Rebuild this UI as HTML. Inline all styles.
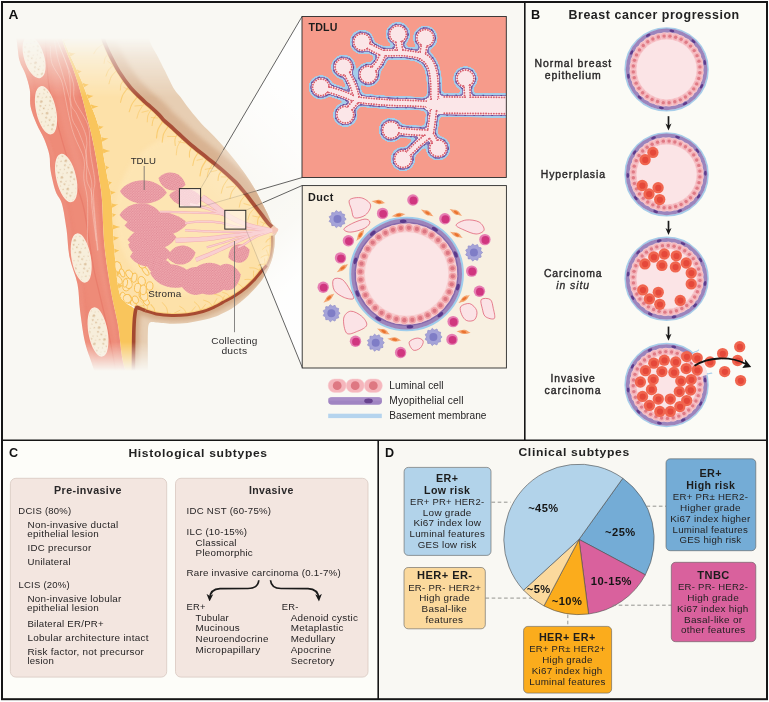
<!DOCTYPE html>
<html lang="en">
<head>
<meta charset="utf-8">
<title>Breast cancer: anatomy, progression, histological and clinical subtypes</title>
<style>
html,body{margin:0;padding:0;background:#ffffff;}
body{width:769px;height:702px;overflow:hidden;font-family:"Liberation Sans", sans-serif;}
svg{display:block;font-family:"Liberation Sans", sans-serif;will-change:transform;}
text{font-family:"Liberation Sans", sans-serif;white-space:pre;}
</style>
</head>
<body>
<svg width="769" height="702" viewBox="0 0 769 702">
<rect x="0" y="0" width="769" height="702" fill="#ffffff"/>
<rect x="2" y="2" width="523" height="438" fill="#f9f8f3"/>
<rect x="525" y="2" width="242" height="438" fill="#fbfbf6"/>
<rect x="2" y="440" width="376" height="259" fill="#fdfdf9"/>
<rect x="378" y="440" width="389" height="259" fill="#f9f8f3"/>
<g id="panelA">
<defs>
<linearGradient id="fadeg" x1="0" y1="0" x2="0" y2="1" gradientUnits="userSpaceOnUse" >
</linearGradient>
<linearGradient id="fadeG" gradientUnits="userSpaceOnUse" x1="0" y1="36" x2="0" y2="376">
<stop offset="0" stop-color="#000"/><stop offset="0.006" stop-color="#000"/><stop offset="0.065" stop-color="#6a6a6a"/><stop offset="0.18" stop-color="#fff"/>
<stop offset="0.9" stop-color="#fff"/><stop offset="0.985" stop-color="#000"/><stop offset="1" stop-color="#000"/>
</linearGradient>
<mask id="fadeM" maskUnits="userSpaceOnUse" x="0" y="0" width="525" height="440"><rect x="0" y="0" width="525" height="440" fill="url(#fadeG)"/></mask>
<filter id="bl2" x="-20%" y="-20%" width="140%" height="140%"><feGaussianBlur stdDeviation="2.2"/></filter>
<filter id="goo" x="-5%" y="-5%" width="110%" height="110%" color-interpolation-filters="sRGB"><feGaussianBlur stdDeviation="1.5" result="b"/><feColorMatrix in="b" type="matrix" values="1 0 0 0 0  0 1 0 0 0  0 0 1 0 0  0 0 0 16 -8"/></filter>
<filter id="goo2" x="-5%" y="-5%" width="110%" height="110%" color-interpolation-filters="sRGB"><feGaussianBlur stdDeviation="0.7" result="b"/><feColorMatrix in="b" type="matrix" values="1 0 0 0 0  0 1 0 0 0  0 0 1 0 0  0 0 0 16 -8"/></filter>
<filter id="bl1" x="-20%" y="-20%" width="140%" height="140%"><feGaussianBlur stdDeviation="1"/></filter>
<pattern id="lobtex" width="2.6" height="2.6" patternUnits="userSpaceOnUse"><rect width="2.6" height="2.6" fill="#e08a97"/><circle cx="0.7" cy="0.7" r="0.85" fill="#f1acb1"/><circle cx="2.0" cy="2.0" r="0.85" fill="#eea5ab"/></pattern>
<pattern id="ribtex" width="11" height="13" patternUnits="userSpaceOnUse" patternTransform="rotate(-14)"><rect width="11" height="13" fill="#f7eedb"/><circle cx="2.2" cy="2.5" r="0.8" fill="#dfc7a6"/><circle cx="6.6" cy="4.2" r="1.25" fill="#dcc09c"/><circle cx="3.8" cy="7.8" r="1.0" fill="#dec4a2"/><circle cx="8.6" cy="9.6" r="0.7" fill="#e0c9aa"/><circle cx="1.4" cy="11.2" r="0.6" fill="#e0c9aa"/><circle cx="9.2" cy="1.3" r="0.55" fill="#e2ccae"/><circle cx="5.8" cy="11.4" r="0.9" fill="#dcc09c"/></pattern>
</defs>
<g mask="url(#fadeM)">
<path d="M15.5,34.0 C15.8,35.5 16.3,38.3 17.0,42.7 C17.7,47.1 18.1,55.3 19.5,60.6 C20.9,65.9 23.8,69.5 25.5,74.3 C27.2,79.1 28.9,84.3 29.8,89.7 C30.7,95.1 29.5,101.1 30.6,106.8 C31.7,112.5 34.3,118.5 36.6,123.9 C38.9,129.3 42.2,134.1 44.3,139.3 C46.4,144.5 48.4,149.9 49.4,155.0 C50.4,160.1 49.5,164.0 50.5,170.0 C51.5,176.0 53.6,185.3 55.5,191.0 C57.4,196.7 60.2,197.7 62.0,204.0 C63.8,210.3 65.2,220.2 66.5,229.0 C67.8,237.8 67.7,247.8 69.5,257.0 C71.3,266.2 75.8,275.2 77.5,284.0 C79.2,292.8 78.8,300.7 80.0,310.0 C81.2,319.3 82.8,332.0 84.5,340.0 C86.2,348.0 87.9,351.7 90.0,358.0 C92.1,364.3 95.8,374.7 97.0,378.0 L128,378 C127.1,375.0 124.3,368.8 122.6,360.0 C120.9,351.2 119.9,336.5 118.0,325.0 C116.1,313.5 113.2,304.2 111.0,291.0 C108.8,277.8 106.0,261.2 104.5,246.0 C103.0,230.8 102.8,211.0 102.0,200.0 C101.2,189.0 100.6,187.5 99.5,180.0 C98.4,172.5 97.0,162.7 95.6,155.0 C94.2,147.3 92.7,140.4 91.3,134.1 C89.9,127.8 88.4,122.7 87.0,117.0 C85.6,111.3 84.5,106.3 82.8,100.0 C81.1,93.7 78.9,86.0 76.8,79.4 C74.7,72.8 72.3,66.7 70.0,60.6 C67.7,54.5 64.4,47.1 63.1,42.7 C61.8,38.3 62.2,35.5 62.0,34.0 Z" fill="#ee8b78"/>
<clipPath id="musclip"><path d="M15.5,34.0 C15.8,35.5 16.3,38.3 17.0,42.7 C17.7,47.1 18.1,55.3 19.5,60.6 C20.9,65.9 23.8,69.5 25.5,74.3 C27.2,79.1 28.9,84.3 29.8,89.7 C30.7,95.1 29.5,101.1 30.6,106.8 C31.7,112.5 34.3,118.5 36.6,123.9 C38.9,129.3 42.2,134.1 44.3,139.3 C46.4,144.5 48.4,149.9 49.4,155.0 C50.4,160.1 49.5,164.0 50.5,170.0 C51.5,176.0 53.6,185.3 55.5,191.0 C57.4,196.7 60.2,197.7 62.0,204.0 C63.8,210.3 65.2,220.2 66.5,229.0 C67.8,237.8 67.7,247.8 69.5,257.0 C71.3,266.2 75.8,275.2 77.5,284.0 C79.2,292.8 78.8,300.7 80.0,310.0 C81.2,319.3 82.8,332.0 84.5,340.0 C86.2,348.0 87.9,351.7 90.0,358.0 C92.1,364.3 95.8,374.7 97.0,378.0 L128,378 C127.1,375.0 124.3,368.8 122.6,360.0 C120.9,351.2 119.9,336.5 118.0,325.0 C116.1,313.5 113.2,304.2 111.0,291.0 C108.8,277.8 106.0,261.2 104.5,246.0 C103.0,230.8 102.8,211.0 102.0,200.0 C101.2,189.0 100.6,187.5 99.5,180.0 C98.4,172.5 97.0,162.7 95.6,155.0 C94.2,147.3 92.7,140.4 91.3,134.1 C89.9,127.8 88.4,122.7 87.0,117.0 C85.6,111.3 84.5,106.3 82.8,100.0 C81.1,93.7 78.9,86.0 76.8,79.4 C74.7,72.8 72.3,66.7 70.0,60.6 C67.7,54.5 64.4,47.1 63.1,42.7 C61.8,38.3 62.2,35.5 62.0,34.0 Z"/></clipPath>
<g clip-path="url(#musclip)">
<path d="M18.0,34.0 C18.2,35.5 18.8,38.3 19.5,42.7 C20.2,47.1 20.6,55.3 22.0,60.6 C23.4,65.9 26.3,69.5 28.0,74.3 C29.7,79.1 31.4,84.3 32.3,89.7 C33.1,95.1 32.0,101.1 33.1,106.8 C34.2,112.5 36.8,118.5 39.1,123.9 C41.4,129.3 44.7,134.1 46.8,139.3 C48.9,144.5 50.9,149.9 51.9,155.0 C52.9,160.1 52.0,164.0 53.0,170.0 C54.0,176.0 56.1,185.3 58.0,191.0 C59.9,196.7 62.7,197.7 64.5,204.0 C66.3,210.3 67.8,220.2 69.0,229.0 C70.2,237.8 70.2,247.8 72.0,257.0 C73.8,266.2 78.2,275.2 80.0,284.0 C81.8,292.8 81.3,300.7 82.5,310.0 C83.7,319.3 85.3,332.0 87.0,340.0 C88.7,348.0 90.4,351.7 92.5,358.0 C94.6,364.3 98.3,374.7 99.5,378.0" fill="none" stroke="#f29c8a" stroke-width="4" opacity="0.4" filter="url(#bl1)"/>
<path d="M54.0,34.0 C54.2,36.7 54.4,41.9 55.0,50.0 C55.6,58.1 56.2,72.9 57.5,82.9 C58.8,92.9 60.9,100.9 63.0,110.0 C65.1,119.1 67.5,127.6 70.3,137.6 C73.1,147.6 76.4,158.8 80.0,170.0 C83.6,181.2 89.0,193.3 92.0,205.0 C95.0,216.7 96.2,229.2 98.0,240.0 C99.8,250.8 101.0,260.0 103.0,270.0 C105.0,280.0 107.5,289.2 110.0,300.0 C112.5,310.8 115.3,322.0 118.0,335.0 C120.7,348.0 124.7,370.8 126.0,378.0" fill="none" stroke="#f29e8d" stroke-width="8" opacity="0.4" filter="url(#bl2)"/>
<path d="M45.0,34.0 C45.2,36.7 45.4,41.9 46.0,50.0 C46.6,58.1 47.2,72.9 48.5,82.9 C49.8,92.9 51.9,100.9 54.0,110.0 C56.1,119.1 58.5,127.6 61.3,137.6 C64.1,147.6 67.4,158.8 71.0,170.0 C74.6,181.2 80.0,193.3 83.0,205.0 C86.0,216.7 87.2,229.2 89.0,240.0 C90.8,250.8 92.0,260.0 94.0,270.0 C96.0,280.0 98.5,289.2 101.0,300.0 C103.5,310.8 106.3,322.0 109.0,335.0 C111.7,348.0 115.7,370.8 117.0,378.0" fill="none" stroke="#e4705f" stroke-width="1.2" opacity="0.5"/>
<path d="M28.0,36.0 C28.2,38.7 28.4,43.9 29.0,52.0 C29.6,60.1 30.2,74.9 31.5,84.9 C32.8,94.9 34.9,102.9 37.0,112.0 C39.1,121.1 41.5,129.6 44.3,139.6 C47.1,149.6 50.4,160.8 54.0,172.0 C57.6,183.2 63.0,195.3 66.0,207.0 C69.0,218.7 70.2,231.2 72.0,242.0 C73.8,252.8 75.0,262.0 77.0,272.0 C79.0,282.0 81.5,291.2 84.0,302.0 C86.5,312.8 89.3,324.0 92.0,337.0 C94.7,350.0 98.7,372.8 100.0,380.0" fill="none" stroke="#e8776a" stroke-width="4" opacity="0.2" filter="url(#bl2)"/>
<path d="M60.5,34.0 C60.7,35.5 60.3,38.3 61.6,42.7 C62.9,47.1 66.2,54.5 68.5,60.6 C70.8,66.7 73.2,72.8 75.3,79.4 C77.4,86.0 79.6,93.7 81.3,100.0 C83.0,106.3 84.1,111.3 85.5,117.0 C86.9,122.7 88.4,127.8 89.8,134.1 C91.2,140.4 92.7,147.3 94.1,155.0 C95.5,162.7 96.9,172.5 98.0,180.0 C99.1,187.5 99.7,189.0 100.5,200.0 C101.3,211.0 101.5,230.8 103.0,246.0 C104.5,261.2 107.2,277.8 109.5,291.0 C111.8,304.2 114.6,313.5 116.5,325.0 C118.4,336.5 119.4,351.2 121.1,360.0 C122.8,368.8 125.6,375.0 126.5,378.0" fill="none" stroke="#e67a6b" stroke-width="2.5" opacity="0.45" filter="url(#bl1)"/>
<path d="M59.0,45.1 C60.3,48.4 64.6,58.6 67.1,65.0 C69.5,71.4 72.2,77.9 73.5,83.6 C74.7,89.4 72.6,93.8 74.5,99.7 C76.4,105.5 82.7,113.4 85.1,118.5 C87.5,123.6 88.2,124.6 89.1,130.2 C90.0,135.9 89.4,144.0 90.4,152.5 C91.3,160.9 94.3,173.3 94.8,180.7 C95.3,188.2 93.1,185.6 93.6,197.2 C94.1,208.7 97.2,241.3 98.0,250.2" fill="none" stroke="#fbdcd3" stroke-width="0.5" opacity="0.8"/>
<path d="M56.8,39.3 C57.9,42.2 61.8,50.9 63.9,57.0 C66.0,63.0 68.2,67.9 69.4,75.7 C70.6,83.5 69.9,97.3 71.1,103.7 C72.3,110.1 74.2,108.5 76.8,114.2 C79.3,119.8 85.0,130.2 86.5,137.8 C88.0,145.4 85.1,152.3 85.9,159.6 C86.8,166.9 90.6,174.3 91.6,181.8 C92.5,189.2 90.7,192.9 91.7,204.4 C92.7,215.9 96.7,243.0 97.6,250.7" fill="none" stroke="#fbdcd3" stroke-width="0.5" opacity="0.8"/>
<path d="M54.5,40.7 C55.0,43.4 56.2,51.5 57.6,57.3 C59.0,63.0 60.9,67.8 62.9,75.1 C65.0,82.3 68.5,93.7 70.0,101.0 C71.5,108.3 70.7,113.6 72.1,118.8 C73.6,124.0 76.4,126.2 78.8,132.2 C81.1,138.2 85.1,146.9 86.4,154.8 C87.8,162.7 85.9,173.0 86.8,179.8 C87.7,186.6 90.4,185.3 92.0,195.6 C93.6,205.8 95.7,233.6 96.4,241.2" fill="none" stroke="#fbdcd3" stroke-width="0.5" opacity="0.8"/>
<path d="M50.2,46.1 C50.5,49.0 50.2,57.8 52.0,63.5 C53.9,69.2 59.1,74.9 61.3,80.2 C63.4,85.5 63.3,88.6 64.8,95.5 C66.2,102.4 68.5,114.7 70.2,121.6 C71.8,128.4 72.3,130.3 74.6,136.7 C76.9,143.0 82.5,152.4 84.0,159.4 C85.5,166.4 83.2,171.3 83.8,178.5 C84.4,185.8 87.0,191.1 87.6,202.8 C88.1,214.4 87.2,240.9 87.2,248.5" fill="none" stroke="#fbdcd3" stroke-width="0.5" opacity="0.8"/>
</g>
<ellipse cx="34.1" cy="57.2" rx="9.4" ry="21" transform="rotate(-17 34.1 57.2)" fill="url(#ribtex)" stroke="#f9ecdc" stroke-width="1.3"/>
<ellipse cx="46" cy="110.2" rx="9.3" ry="24" transform="rotate(-12.5 46 110.2)" fill="url(#ribtex)" stroke="#f9ecdc" stroke-width="1.3"/>
<ellipse cx="66.2" cy="178" rx="9.3" ry="24" transform="rotate(-13 66.2 178)" fill="url(#ribtex)" stroke="#f9ecdc" stroke-width="1.3"/>
<ellipse cx="81.2" cy="258" rx="9.0" ry="24.3" transform="rotate(-10 81.2 258)" fill="url(#ribtex)" stroke="#f9ecdc" stroke-width="1.3"/>
<ellipse cx="98" cy="332" rx="9.0" ry="24.3" transform="rotate(-10 98 332)" fill="url(#ribtex)" stroke="#f9ecdc" stroke-width="1.3"/>
<path d="M62.0,34.0 C62.2,35.5 61.8,38.3 63.1,42.7 C64.4,47.1 67.7,54.5 70.0,60.6 C72.3,66.7 74.7,72.8 76.8,79.4 C78.9,86.0 81.1,93.7 82.8,100.0 C84.5,106.3 85.6,111.3 87.0,117.0 C88.4,122.7 89.9,127.8 91.3,134.1 C92.7,140.4 94.2,147.3 95.6,155.0 C97.0,162.7 98.4,172.5 99.5,180.0 C100.6,187.5 101.2,189.0 102.0,200.0 C102.8,211.0 103.0,230.8 104.5,246.0 C106.0,261.2 108.8,277.8 111.0,291.0 C113.2,304.2 116.1,313.5 118.0,325.0 C119.9,336.5 120.9,351.2 122.6,360.0 C124.3,368.8 127.1,375.0 128.0,378.0 L133.4,378 C133.4,372.5 133.5,354.0 133.6,345.0 C133.7,336.0 133.9,329.9 134.1,324.0 C134.2,318.1 135.8,313.0 134.5,309.5 C133.2,306.0 128.6,306.1 126.0,303.0 C123.4,299.9 121.0,300.5 119.0,291.0 C117.0,281.5 115.2,261.2 114.0,246.0 C112.8,230.8 112.7,211.8 111.5,200.0 C110.3,188.2 108.3,182.5 107.0,175.0 C105.7,167.5 104.2,160.1 103.5,155.0 C102.8,149.9 103.1,147.9 102.6,144.4 C102.1,140.9 101.9,138.7 100.7,134.1 C99.5,129.5 97.6,122.7 95.6,117.0 C93.6,111.3 91.2,106.3 88.8,100.0 C86.4,93.7 83.7,86.0 81.0,79.4 C78.3,72.8 75.2,66.7 72.5,60.6 C69.8,54.5 66.4,47.1 64.8,42.7 C63.2,38.3 63.3,35.5 63.0,34.0 Z" fill="#f9c55c"/>
<path d="M102.0,34.0 C102.4,35.4 102.8,38.4 104.3,42.1 C105.8,45.8 108.2,51.4 110.7,56.4 C113.2,61.4 115.9,66.8 119.2,72.0 C122.5,77.2 126.3,82.7 130.6,87.7 C134.9,92.7 141.7,98.9 144.9,102.0 C148.1,105.1 147.6,104.3 150.0,106.4 C152.4,108.5 156.7,112.4 159.1,114.8 C161.5,117.2 162.1,118.6 164.2,120.6 C166.3,122.6 169.1,124.8 171.5,127.0 C173.9,129.2 175.0,130.3 178.5,133.5 C182.0,136.7 187.9,142.3 192.7,146.3 C197.4,150.3 202.2,153.9 207.0,157.7 C211.8,161.5 216.4,165.0 221.2,169.1 C225.9,173.2 231.4,178.1 235.5,182.2 C239.6,186.3 242.5,190.0 245.6,193.7 C248.7,197.4 251.3,201.2 253.9,204.6 C256.5,208.0 259.0,211.2 261.3,214.2 C263.6,217.2 266.0,220.6 267.8,222.7 C269.6,224.8 271.3,226.3 272.0,227.0 L273.8,227.8 L277.2,229.6 L273.9,234.2 L272,235.7 C272.0,237.5 272.3,242.8 272.0,246.4 C271.7,250.0 271.3,253.9 270.4,257.1 C269.5,260.3 268.3,263.2 266.7,265.6 C265.1,268.1 263.1,269.4 261.0,271.8 C258.9,274.2 256.5,277.5 254.0,280.1 C251.5,282.7 249.4,284.9 246.2,287.6 C242.9,290.3 238.4,293.6 234.5,296.1 C230.6,298.6 226.1,300.6 222.8,302.4 C219.6,304.2 218.3,305.2 215.0,306.7 C211.7,308.2 207.6,310.2 203.0,311.5 C198.4,312.8 192.6,314.1 187.4,314.7 C182.2,315.3 177.0,315.5 171.8,315.4 C166.6,315.3 160.6,314.7 156.2,313.9 C151.8,313.1 148.0,311.6 145.3,310.7 C142.6,309.8 141.2,308.9 139.8,308.4 C138.4,307.9 137.2,307.7 136.7,307.6 L126,303 C124.8,301.0 121.0,300.5 119.0,291.0 C117.0,281.5 115.2,261.2 114.0,246.0 C112.8,230.8 112.7,211.8 111.5,200.0 C110.3,188.2 108.3,182.5 107.0,175.0 C105.7,167.5 104.2,160.1 103.5,155.0 C102.8,149.9 103.1,147.9 102.6,144.4 C102.1,140.9 101.9,138.7 100.7,134.1 C99.5,129.5 97.6,122.7 95.6,117.0 C93.6,111.3 91.2,106.3 88.8,100.0 C86.4,93.7 83.7,86.0 81.0,79.4 C78.3,72.8 75.2,66.7 72.5,60.6 C69.8,54.5 66.4,47.1 64.8,42.7 C63.2,38.3 63.3,35.5 63.0,34.0 Z" fill="#fde1a9"/>
<clipPath id="fatclip"><path d="M102.0,34.0 C102.4,35.4 102.8,38.4 104.3,42.1 C105.8,45.8 108.2,51.4 110.7,56.4 C113.2,61.4 115.9,66.8 119.2,72.0 C122.5,77.2 126.3,82.7 130.6,87.7 C134.9,92.7 141.7,98.9 144.9,102.0 C148.1,105.1 147.6,104.3 150.0,106.4 C152.4,108.5 156.7,112.4 159.1,114.8 C161.5,117.2 162.1,118.6 164.2,120.6 C166.3,122.6 169.1,124.8 171.5,127.0 C173.9,129.2 175.0,130.3 178.5,133.5 C182.0,136.7 187.9,142.3 192.7,146.3 C197.4,150.3 202.2,153.9 207.0,157.7 C211.8,161.5 216.4,165.0 221.2,169.1 C225.9,173.2 231.4,178.1 235.5,182.2 C239.6,186.3 242.5,190.0 245.6,193.7 C248.7,197.4 251.3,201.2 253.9,204.6 C256.5,208.0 259.0,211.2 261.3,214.2 C263.6,217.2 266.0,220.6 267.8,222.7 C269.6,224.8 271.3,226.3 272.0,227.0 L273.8,227.8 L277.2,229.6 L273.9,234.2 L272,235.7 C272.0,237.5 272.3,242.8 272.0,246.4 C271.7,250.0 271.3,253.9 270.4,257.1 C269.5,260.3 268.3,263.2 266.7,265.6 C265.1,268.1 263.1,269.4 261.0,271.8 C258.9,274.2 256.5,277.5 254.0,280.1 C251.5,282.7 249.4,284.9 246.2,287.6 C242.9,290.3 238.4,293.6 234.5,296.1 C230.6,298.6 226.1,300.6 222.8,302.4 C219.6,304.2 218.3,305.2 215.0,306.7 C211.7,308.2 207.6,310.2 203.0,311.5 C198.4,312.8 192.6,314.1 187.4,314.7 C182.2,315.3 177.0,315.5 171.8,315.4 C166.6,315.3 160.6,314.7 156.2,313.9 C151.8,313.1 148.0,311.6 145.3,310.7 C142.6,309.8 141.2,308.9 139.8,308.4 C138.4,307.9 137.2,307.7 136.7,307.6 L126,303 C124.8,301.0 121.0,300.5 119.0,291.0 C117.0,281.5 115.2,261.2 114.0,246.0 C112.8,230.8 112.7,211.8 111.5,200.0 C110.3,188.2 108.3,182.5 107.0,175.0 C105.7,167.5 104.2,160.1 103.5,155.0 C102.8,149.9 103.1,147.9 102.6,144.4 C102.1,140.9 101.9,138.7 100.7,134.1 C99.5,129.5 97.6,122.7 95.6,117.0 C93.6,111.3 91.2,106.3 88.8,100.0 C86.4,93.7 83.7,86.0 81.0,79.4 C78.3,72.8 75.2,66.7 72.5,60.6 C69.8,54.5 66.4,47.1 64.8,42.7 C63.2,38.3 63.3,35.5 63.0,34.0 Z"/></clipPath>
<g clip-path="url(#fatclip)">
<ellipse cx="185" cy="215" rx="70" ry="80" fill="#fee8bb" opacity="0.6" filter="url(#bl2)"/>
<path d="M104.1,43.6 C103.0,44.4 99.3,46.5 97.6,48.1 C95.9,49.8 94.4,52.7 93.8,53.6" fill="none" stroke="#f8c45c" stroke-width="1.0019600192980973" opacity="0.7" stroke-linecap="round"/>
<path d="M108.4,53.9 C107.9,54.6 105.9,56.2 105.2,57.8 C104.5,59.3 104.3,62.4 104.1,63.3" fill="none" stroke="#f8c45c" stroke-width="0.8296770071640038" opacity="0.7" stroke-linecap="round"/>
<path d="M107.7,61.3 C108.5,61.9 111.9,64.3 112.7,64.9" fill="none" stroke="#f8c45c" stroke-width="0.8" opacity="0.7" stroke-linecap="round"/>
<path d="M114.3,64.6 C113.3,65.5 110.1,67.8 108.7,69.8 C107.3,71.7 106.4,75.1 106.0,76.1" fill="none" stroke="#f8c45c" stroke-width="0.9381766043496674" opacity="0.7" stroke-linecap="round"/>
<path d="M116.9,70.3 C116.0,71.3 112.6,74.4 111.3,76.7 C110.0,78.9 109.4,82.6 109.0,83.8" fill="none" stroke="#f8c45c" stroke-width="0.9615906051916506" opacity="0.7" stroke-linecap="round"/>
<path d="M124.0,80.0 C123.5,80.7 121.6,82.7 121.0,84.3 C120.4,86.0 120.5,89.0 120.4,90.0" fill="none" stroke="#f8c45c" stroke-width="0.9955497914656588" opacity="0.7" stroke-linecap="round"/>
<path d="M123.9,87.4 C124.8,87.9 128.4,89.6 129.3,90.0" fill="none" stroke="#f8c45c" stroke-width="0.8" opacity="0.7" stroke-linecap="round"/>
<path d="M128.6,86.9 C127.7,88.2 124.2,92.2 122.9,94.8 C121.5,97.4 120.9,101.0 120.5,102.3" fill="none" stroke="#f8c45c" stroke-width="1.0594119620329014" opacity="0.7" stroke-linecap="round"/>
<path d="M137.9,96.1 C136.9,97.5 133.3,101.6 131.9,104.2 C130.4,106.8 129.7,110.5 129.2,111.8" fill="none" stroke="#f8c45c" stroke-width="1.100454385492614" opacity="0.7" stroke-linecap="round"/>
<path d="M134.9,106.0 C136.1,105.9 140.7,105.5 141.9,105.4" fill="none" stroke="#f8c45c" stroke-width="0.8" opacity="0.7" stroke-linecap="round"/>
<path d="M144.7,102.9 C143.8,104.2 140.6,108.5 139.3,111.1 C138.0,113.6 137.3,117.1 136.9,118.3" fill="none" stroke="#f8c45c" stroke-width="0.7679844301003345" opacity="0.7" stroke-linecap="round"/>
<path d="M142.0,112.3 C143.1,112.0 147.2,111.0 148.3,110.7" fill="none" stroke="#f8c45c" stroke-width="0.8" opacity="0.7" stroke-linecap="round"/>
<path d="M151.6,109.0 C151.0,110.0 148.7,113.2 148.0,115.4 C147.3,117.5 147.4,120.8 147.3,121.9" fill="none" stroke="#f8c45c" stroke-width="0.8505130992127526" opacity="0.7" stroke-linecap="round"/>
<path d="M151.3,117.5 C152.4,117.6 156.6,117.9 157.7,118.0" fill="none" stroke="#f8c45c" stroke-width="0.8" opacity="0.7" stroke-linecap="round"/>
<path d="M157.2,113.9 C156.6,114.8 154.2,117.5 153.3,119.5 C152.4,121.4 152.3,124.6 152.1,125.6" fill="none" stroke="#f8c45c" stroke-width="0.9921258964850994" opacity="0.7" stroke-linecap="round"/>
<path d="M163.2,120.8 C162.3,122.2 159.1,126.7 158.0,129.5 C156.9,132.4 156.7,136.5 156.5,137.8" fill="none" stroke="#f8c45c" stroke-width="1.1954948224344075" opacity="0.7" stroke-linecap="round"/>
<path d="M168.7,125.5 C167.9,126.9 164.7,131.2 163.6,133.9 C162.5,136.7 162.5,140.8 162.2,142.1" fill="none" stroke="#f8c45c" stroke-width="1.1523479922561184" opacity="0.7" stroke-linecap="round"/>
<path d="M167.5,136.4 C168.9,136.4 174.1,136.5 175.4,136.5" fill="none" stroke="#f8c45c" stroke-width="0.8" opacity="0.7" stroke-linecap="round"/>
<path d="M177.6,133.7 C177.1,134.7 175.4,137.3 175.0,139.3 C174.6,141.3 175.2,144.4 175.3,145.5" fill="none" stroke="#f8c45c" stroke-width="0.9867661761756423" opacity="0.7" stroke-linecap="round"/>
<path d="M178.6,141.8 C179.6,142.0 183.9,142.8 184.9,143.0" fill="none" stroke="#f8c45c" stroke-width="0.8" opacity="0.7" stroke-linecap="round"/>
<path d="M182.5,138.2 C181.7,139.6 178.6,143.8 177.5,146.6 C176.5,149.4 176.5,153.5 176.3,154.9" fill="none" stroke="#f8c45c" stroke-width="0.7442590465548642" opacity="0.7" stroke-linecap="round"/>
<path d="M191.9,146.7 C191.5,147.5 190.0,150.1 189.6,151.8 C189.2,153.6 189.5,156.2 189.5,157.1" fill="none" stroke="#f8c45c" stroke-width="1.0843959436386723" opacity="0.7" stroke-linecap="round"/>
<path d="M198.5,152.0 C197.8,153.2 195.3,156.8 194.3,159.1 C193.4,161.4 193.0,164.5 192.8,165.5" fill="none" stroke="#f8c45c" stroke-width="1.059220238724258" opacity="0.7" stroke-linecap="round"/>
<path d="M197.0,160.3 C197.9,160.0 201.6,159.2 202.6,159.0" fill="none" stroke="#f8c45c" stroke-width="0.8" opacity="0.7" stroke-linecap="round"/>
<path d="M207.0,158.8 C206.2,160.3 203.0,165.0 201.8,167.8 C200.6,170.7 200.3,174.5 200.0,175.9" fill="none" stroke="#f8c45c" stroke-width="1.1992544726878882" opacity="0.7" stroke-linecap="round"/>
<path d="M205.2,169.4 C206.4,169.1 211.2,168.2 212.4,168.0" fill="none" stroke="#f8c45c" stroke-width="0.8" opacity="0.7" stroke-linecap="round"/>
<path d="M212.9,163.4 C212.2,164.6 209.7,168.3 208.7,170.5 C207.8,172.7 207.4,175.8 207.2,176.9" fill="none" stroke="#f8c45c" stroke-width="0.7986924282142096" opacity="0.7" stroke-linecap="round"/>
<path d="M211.3,171.7 C212.3,171.4 216.0,170.6 216.9,170.4" fill="none" stroke="#f8c45c" stroke-width="0.8" opacity="0.7" stroke-linecap="round"/>
<path d="M221.6,170.6 C221.2,171.4 219.4,173.8 218.8,175.4 C218.2,177.1 218.1,179.6 218.0,180.4" fill="none" stroke="#f8c45c" stroke-width="1.1338895169638612" opacity="0.7" stroke-linecap="round"/>
<path d="M221.2,176.9 C222.0,176.9 225.2,177.0 225.9,177.0" fill="none" stroke="#f8c45c" stroke-width="0.8" opacity="0.7" stroke-linecap="round"/>
<path d="M229.1,177.4 C228.2,178.8 224.8,183.0 223.5,185.7 C222.2,188.3 221.6,192.0 221.3,193.2" fill="none" stroke="#f8c45c" stroke-width="0.9302048164229524" opacity="0.7" stroke-linecap="round"/>
<path d="M226.6,187.3 C227.8,187.2 232.3,186.5 233.5,186.4" fill="none" stroke="#f8c45c" stroke-width="0.8" opacity="0.7" stroke-linecap="round"/>
<path d="M237.0,185.1 C236.1,186.2 233.1,189.4 232.0,191.6 C230.8,193.9 230.3,197.3 230.0,198.4" fill="none" stroke="#f8c45c" stroke-width="1.010063067722631" opacity="0.7" stroke-linecap="round"/>
<path d="M245.6,195.0 C244.8,196.0 242.1,198.7 241.0,200.7 C239.9,202.8 239.6,206.1 239.3,207.2" fill="none" stroke="#f8c45c" stroke-width="0.8188178097323919" opacity="0.7" stroke-linecap="round"/>
<path d="M244.0,203.6 C245.1,203.9 249.3,205.1 250.3,205.4" fill="none" stroke="#f8c45c" stroke-width="0.8" opacity="0.7" stroke-linecap="round"/>
<path d="M255.1,207.5 C254.3,208.5 251.2,211.4 250.0,213.4 C248.8,215.5 248.2,218.8 247.9,219.8" fill="none" stroke="#f8c45c" stroke-width="0.7057287431821095" opacity="0.7" stroke-linecap="round"/>
<path d="M252.9,216.0 C253.9,216.2 258.1,217.0 259.2,217.2" fill="none" stroke="#f8c45c" stroke-width="0.8" opacity="0.7" stroke-linecap="round"/>
<path d="M260.8,214.8 C260.3,215.5 258.6,217.4 258.0,219.0 C257.5,220.6 257.5,223.4 257.5,224.3" fill="none" stroke="#f8c45c" stroke-width="1.0160902676480577" opacity="0.7" stroke-linecap="round"/>
<path d="M260.7,221.8 C261.6,222.2 265.1,223.7 266.0,224.1" fill="none" stroke="#f8c45c" stroke-width="0.8" opacity="0.7" stroke-linecap="round"/>
<path d="M265.5,221.5 C264.9,222.6 262.4,225.7 261.5,227.9 C260.6,230.1 260.6,233.4 260.4,234.5" fill="none" stroke="#f8c45c" stroke-width="0.8762884915205236" opacity="0.7" stroke-linecap="round"/>
<path d="M271.2,238.1 C270.7,238.3 269.2,238.6 268.3,239.3 C267.4,239.9 266.3,241.6 265.9,242.1" fill="none" stroke="#f8c45c" stroke-width="1.0380101547436884" opacity="0.7" stroke-linecap="round"/>
<path d="M271.4,245.1 C270.6,245.3 268.1,245.4 266.6,246.1 C265.1,246.8 263.2,248.8 262.5,249.4" fill="none" stroke="#f8c45c" stroke-width="0.8600126928740033" opacity="0.7" stroke-linecap="round"/>
<path d="M266.5,250.0 C266.8,250.8 268.1,254.4 268.4,255.2" fill="none" stroke="#f8c45c" stroke-width="0.8" opacity="0.7" stroke-linecap="round"/>
<path d="M270.3,255.4 C269.5,255.3 267.3,254.8 265.7,255.2 C264.2,255.5 261.9,257.0 261.1,257.4" fill="none" stroke="#f8c45c" stroke-width="0.8502019866827946" opacity="0.7" stroke-linecap="round"/>
<path d="M264.6,258.9 C264.6,259.8 264.9,263.5 264.9,264.4" fill="none" stroke="#f8c45c" stroke-width="0.8" opacity="0.7" stroke-linecap="round"/>
<path d="M266.3,264.8 C265.8,264.7 264.3,264.0 263.1,264.1 C261.8,264.1 259.4,265.0 258.7,265.2" fill="none" stroke="#f8c45c" stroke-width="1.0675865908392548" opacity="0.7" stroke-linecap="round"/>
<path d="M260.7,267.1 C260.4,267.9 259.1,271.1 258.8,271.9" fill="none" stroke="#f8c45c" stroke-width="0.8" opacity="0.7" stroke-linecap="round"/>
<path d="M260.6,271.1 C259.7,270.6 257.0,268.8 255.2,268.3 C253.3,267.7 250.6,267.9 249.7,267.8" fill="none" stroke="#f8c45c" stroke-width="0.7936971704589709" opacity="0.7" stroke-linecap="round"/>
<path d="M253.6,271.0 C253.6,271.9 253.5,275.4 253.5,276.3" fill="none" stroke="#f8c45c" stroke-width="0.8" opacity="0.7" stroke-linecap="round"/>
<path d="M252.3,280.6 C251.8,280.4 250.3,279.4 249.1,279.3 C247.9,279.1 245.6,279.6 244.9,279.6" fill="none" stroke="#f8c45c" stroke-width="0.8668768252243376" opacity="0.7" stroke-linecap="round"/>
<path d="M243.7,288.5 C242.9,287.8 240.6,285.3 239.0,284.3 C237.4,283.2 234.7,282.6 233.8,282.3" fill="none" stroke="#f8c45c" stroke-width="0.8683551175224403" opacity="0.7" stroke-linecap="round"/>
<path d="M230.4,297.4 C229.8,296.8 228.4,294.9 227.1,294.0 C225.8,293.2 223.4,292.6 222.6,292.4" fill="none" stroke="#f8c45c" stroke-width="0.7604596623551432" opacity="0.7" stroke-linecap="round"/>
<path d="M224.5,295.9 C224.1,296.6 222.6,299.4 222.2,300.2" fill="none" stroke="#f8c45c" stroke-width="0.8" opacity="0.7" stroke-linecap="round"/>
<path d="M224.9,300.3 C224.1,299.6 222.1,297.1 220.4,296.0 C218.6,295.0 215.4,294.5 214.4,294.2" fill="none" stroke="#f8c45c" stroke-width="0.7917931566526278" opacity="0.7" stroke-linecap="round"/>
<path d="M216.9,298.6 C216.3,299.5 214.2,303.3 213.7,304.2" fill="none" stroke="#f8c45c" stroke-width="0.8" opacity="0.7" stroke-linecap="round"/>
<path d="M212.9,306.7 C212.3,306.0 210.7,303.5 209.2,302.4 C207.7,301.4 204.7,300.6 203.7,300.2" fill="none" stroke="#f8c45c" stroke-width="0.8726414024437992" opacity="0.7" stroke-linecap="round"/>
<path d="M205.4,304.5 C204.8,305.3 202.2,308.5 201.5,309.4" fill="none" stroke="#f8c45c" stroke-width="0.8" opacity="0.7" stroke-linecap="round"/>
<path d="M200.8,311.1 C200.4,310.2 199.4,307.2 198.3,305.6 C197.2,304.1 194.9,302.5 194.3,301.9" fill="none" stroke="#f8c45c" stroke-width="0.8731771403334267" opacity="0.7" stroke-linecap="round"/>
<path d="M195.3,306.8 C194.7,307.5 192.4,310.2 191.9,310.9" fill="none" stroke="#f8c45c" stroke-width="0.8" opacity="0.7" stroke-linecap="round"/>
<path d="M186.4,313.9 C186.1,313.2 185.5,310.9 184.3,309.6 C183.2,308.4 180.5,306.9 179.7,306.4" fill="none" stroke="#f8c45c" stroke-width="0.7779989294691796" opacity="0.7" stroke-linecap="round"/>
<path d="M179.9,310.3 C179.0,310.7 175.2,312.6 174.3,313.1" fill="none" stroke="#f8c45c" stroke-width="0.8" opacity="0.7" stroke-linecap="round"/>
<path d="M167.8,314.2 C167.6,313.2 167.4,309.7 166.5,307.8 C165.6,305.9 163.0,303.6 162.4,302.7" fill="none" stroke="#f8c45c" stroke-width="0.9171761563378256" opacity="0.7" stroke-linecap="round"/>
<path d="M154.8,312.6 C154.7,312.0 154.7,310.0 154.1,308.6 C153.5,307.3 151.5,305.3 151.0,304.6" fill="none" stroke="#f8c45c" stroke-width="1.1183493396393227" opacity="0.7" stroke-linecap="round"/>
<path d="M147.2,310.6 C147.3,309.9 147.7,307.9 147.4,306.5 C147.1,305.1 145.9,303.0 145.5,302.3" fill="none" stroke="#f8c45c" stroke-width="0.81373316817556" opacity="0.7" stroke-linecap="round"/>
<path d="M144.2,305.5 C143.4,305.6 140.1,306.0 139.3,306.1" fill="none" stroke="#f8c45c" stroke-width="0.8" opacity="0.7" stroke-linecap="round"/>
<path d="M144.2,308.7 C144.1,308.0 144.1,305.9 143.4,304.5 C142.8,303.1 140.7,301.0 140.1,300.4" fill="none" stroke="#f8c45c" stroke-width="0.7225384050426799" opacity="0.7" stroke-linecap="round"/>
<path d="M102.0,34.0 C102.4,35.4 102.8,38.4 104.3,42.1 C105.8,45.8 108.2,51.4 110.7,56.4 C113.2,61.4 115.9,66.8 119.2,72.0 C122.5,77.2 126.3,82.7 130.6,87.7 C134.9,92.7 141.7,98.9 144.9,102.0 C148.1,105.1 147.6,104.3 150.0,106.4 C152.4,108.5 156.7,112.4 159.1,114.8 C161.5,117.2 162.1,118.6 164.2,120.6 C166.3,122.6 169.1,124.8 171.5,127.0 C173.9,129.2 175.0,130.3 178.5,133.5 C182.0,136.7 187.9,142.3 192.7,146.3 C197.4,150.3 202.2,153.9 207.0,157.7 C211.8,161.5 216.4,165.0 221.2,169.1 C225.9,173.2 231.4,178.1 235.5,182.2 C239.6,186.3 242.5,190.0 245.6,193.7 C248.7,197.4 251.3,201.2 253.9,204.6 C256.5,208.0 259.0,211.2 261.3,214.2 C263.6,217.2 266.0,220.6 267.8,222.7 C269.6,224.8 271.3,226.3 272.0,227.0" fill="none" stroke="#f9c65f" stroke-width="5" opacity="0.55"/>
<path d="M272.0,235.7 C272.0,237.5 272.3,242.8 272.0,246.4 C271.7,250.0 271.3,253.9 270.4,257.1 C269.5,260.3 268.3,263.2 266.7,265.6 C265.1,268.1 263.1,269.4 261.0,271.8 C258.9,274.2 256.5,277.5 254.0,280.1 C251.5,282.7 249.4,284.9 246.2,287.6 C242.9,290.3 238.4,293.6 234.5,296.1 C230.6,298.6 226.1,300.6 222.8,302.4 C219.6,304.2 218.3,305.2 215.0,306.7 C211.7,308.2 207.6,310.2 203.0,311.5 C198.4,312.8 192.6,314.1 187.4,314.7 C182.2,315.3 177.0,315.5 171.8,315.4 C166.6,315.3 160.6,314.7 156.2,313.9 C151.8,313.1 148.0,311.6 145.3,310.7 C142.6,309.8 141.2,308.9 139.8,308.4 C138.4,307.9 137.2,307.7 136.7,307.6" fill="none" stroke="#f9c65f" stroke-width="5" opacity="0.55"/>
<path d="M63.0,36.4 Q67.6,38.4 71.2,39.3 Q67.6,39.8 63.0,42.0 Z" fill="#f9c55c"/>
<path d="M68.9,51.9 Q72.8,53.9 75.7,53.0 Q72.8,55.3 68.9,57.5 Z" fill="#f9c55c"/>
<path d="M76.6,69.2 Q79.7,71.2 81.8,70.9 Q79.7,72.6 76.6,74.8 Z" fill="#f9c55c"/>
<path d="M82.2,82.6 Q86.0,84.6 88.8,84.5 Q86.0,86.0 82.2,88.2 Z" fill="#f9c55c"/>
<path d="M86.5,94.1 Q90.5,96.1 93.5,95.8 Q90.5,97.5 86.5,99.7 Z" fill="#f9c55c"/>
<path d="M90.5,104.2 Q95.0,106.2 98.5,106.3 Q95.0,107.6 90.5,109.8 Z" fill="#f9c55c"/>
<path d="M97.7,124.9 Q101.2,126.9 103.6,126.4 Q101.2,128.3 97.7,130.5 Z" fill="#f9c55c"/>
<path d="M100.7,136.8 Q105.1,138.8 108.4,138.2 Q105.1,140.2 100.7,142.4 Z" fill="#f9c55c"/>
<path d="M102.2,148.3 Q106.7,150.3 110.3,151.0 Q106.7,151.7 102.2,153.9 Z" fill="#f9c55c"/>
<path d="M104.7,165.0 Q107.5,167.0 109.2,167.3 Q107.5,168.4 104.7,170.6 Z" fill="#f9c55c"/>
<path d="M107.5,180.5 Q110.3,182.5 112.2,182.1 Q110.3,183.9 107.5,186.1 Z" fill="#f9c55c"/>
<path d="M109.2,190.0 Q113.0,192.0 115.8,191.9 Q113.0,193.4 109.2,195.6 Z" fill="#f9c55c"/>
<path d="M110.8,203.0 Q115.1,205.0 118.4,204.1 Q115.1,206.4 110.8,208.6 Z" fill="#f9c55c"/>
<path d="M111.3,212.6 Q114.3,214.6 116.3,214.0 Q114.3,216.0 111.3,218.2 Z" fill="#f9c55c"/>
<path d="M112.0,224.2 Q116.7,226.2 120.4,227.0 Q116.7,227.6 112.0,229.8 Z" fill="#f9c55c"/>
<path d="M112.6,235.7 Q116.3,237.7 119.1,237.5 Q116.3,239.1 112.6,241.3 Z" fill="#f9c55c"/>
<path d="M113.5,248.2 Q117.0,250.2 119.4,250.6 Q117.0,251.6 113.5,253.8 Z" fill="#f9c55c"/>
<path d="M114.9,260.7 Q118.4,262.7 120.9,262.1 Q118.4,264.1 114.9,266.3 Z" fill="#f9c55c"/>
<path d="M116.0,270.8 Q119.0,272.8 121.0,273.0 Q119.0,274.2 116.0,276.4 Z" fill="#f9c55c"/>
<path d="M117.5,283.7 Q121.0,285.7 123.5,285.0 Q121.0,287.1 117.5,289.3 Z" fill="#f9c55c"/>
<path d="M120.6,292.9 Q124.1,294.9 126.6,295.2 Q124.1,296.3 120.6,298.5 Z" fill="#f9c55c"/>
<ellipse cx="141.7" cy="281.0" rx="3.6" ry="4.6" transform="rotate(-18 141.7 281.0)" fill="#fee6b6" stroke="#f7be50" stroke-width="0.9"/>
<ellipse cx="126.2" cy="286.8" rx="3.5" ry="4.1" transform="rotate(-5 126.2 286.8)" fill="#fee6b6" stroke="#f7be50" stroke-width="0.9"/>
<ellipse cx="129.5" cy="274.3" rx="3.2" ry="4.7" transform="rotate(-36 129.5 274.3)" fill="#fee6b6" stroke="#f7be50" stroke-width="0.9"/>
<ellipse cx="128.1" cy="283.3" rx="3.8" ry="5.3" transform="rotate(-21 128.1 283.3)" fill="#fee6b6" stroke="#f7be50" stroke-width="0.9"/>
<ellipse cx="146.1" cy="301.5" rx="2.7" ry="4.2" transform="rotate(-34 146.1 301.5)" fill="#fee6b6" stroke="#f7be50" stroke-width="0.9"/>
<ellipse cx="142.9" cy="295.1" rx="3.8" ry="5.0" transform="rotate(-7 142.9 295.1)" fill="#fee6b6" stroke="#f7be50" stroke-width="0.9"/>
<ellipse cx="139.9" cy="290.2" rx="2.4" ry="4.5" transform="rotate(-40 139.9 290.2)" fill="#fee6b6" stroke="#f7be50" stroke-width="0.9"/>
<ellipse cx="117.5" cy="300.7" rx="2.3" ry="3.2" transform="rotate(-35 117.5 300.7)" fill="#fee6b6" stroke="#f7be50" stroke-width="0.9"/>
<ellipse cx="145.5" cy="271.0" rx="2.2" ry="5.1" transform="rotate(-34 145.5 271.0)" fill="#fee6b6" stroke="#f7be50" stroke-width="0.9"/>
<ellipse cx="144.1" cy="295.7" rx="3.7" ry="5.4" transform="rotate(-11 144.1 295.7)" fill="#fee6b6" stroke="#f7be50" stroke-width="0.9"/>
<ellipse cx="142.4" cy="263.8" rx="3.6" ry="4.3" transform="rotate(-4 142.4 263.8)" fill="#fee6b6" stroke="#f7be50" stroke-width="0.9"/>
<ellipse cx="116.1" cy="299.4" rx="3.9" ry="3.2" transform="rotate(-24 116.1 299.4)" fill="#fee6b6" stroke="#f7be50" stroke-width="0.9"/>
<ellipse cx="133.4" cy="303.4" rx="2.6" ry="3.4" transform="rotate(-28 133.4 303.4)" fill="#fee6b6" stroke="#f7be50" stroke-width="0.9"/>
<ellipse cx="135.4" cy="299.7" rx="2.9" ry="3.9" transform="rotate(-20 135.4 299.7)" fill="#fee6b6" stroke="#f7be50" stroke-width="0.9"/>
<ellipse cx="125.3" cy="282.9" rx="2.3" ry="4.3" transform="rotate(9 125.3 282.9)" fill="#fee6b6" stroke="#f7be50" stroke-width="0.9"/>
<ellipse cx="127.7" cy="299.4" rx="2.5" ry="4.7" transform="rotate(-2 127.7 299.4)" fill="#fee6b6" stroke="#f7be50" stroke-width="0.9"/>
<ellipse cx="137.6" cy="287.9" rx="3.1" ry="4.6" transform="rotate(5 137.6 287.9)" fill="#fee6b6" stroke="#f7be50" stroke-width="0.9"/>
<ellipse cx="117.7" cy="266.8" rx="3.5" ry="5.3" transform="rotate(-14 117.7 266.8)" fill="#fee6b6" stroke="#f7be50" stroke-width="0.9"/>
<ellipse cx="128.8" cy="297.9" rx="2.5" ry="3.7" transform="rotate(-30 128.8 297.9)" fill="#fee6b6" stroke="#f7be50" stroke-width="0.9"/>
<ellipse cx="134.3" cy="277.7" rx="2.6" ry="4.7" transform="rotate(8 134.3 277.7)" fill="#fee6b6" stroke="#f7be50" stroke-width="0.9"/>
<ellipse cx="123.2" cy="297.3" rx="2.9" ry="5.1" transform="rotate(-11 123.2 297.3)" fill="#fee6b6" stroke="#f7be50" stroke-width="0.9"/>
<ellipse cx="122.2" cy="272.9" rx="2.2" ry="4.2" transform="rotate(-21 122.2 272.9)" fill="#fee6b6" stroke="#f7be50" stroke-width="0.9"/>
<ellipse cx="118.5" cy="280.0" rx="2.8" ry="4.9" transform="rotate(-33 118.5 280.0)" fill="#fee6b6" stroke="#f7be50" stroke-width="0.9"/>
<ellipse cx="149.7" cy="286.0" rx="3.3" ry="4.2" transform="rotate(2 149.7 286.0)" fill="#fee6b6" stroke="#f7be50" stroke-width="0.9"/>
<ellipse cx="143.2" cy="289.9" rx="3.1" ry="4.8" transform="rotate(3 143.2 289.9)" fill="#fee6b6" stroke="#f7be50" stroke-width="0.9"/>
<ellipse cx="127.2" cy="298.7" rx="3.9" ry="4.2" transform="rotate(-29 127.2 298.7)" fill="#fee6b6" stroke="#f7be50" stroke-width="0.9"/>
</g>
<g>
<path d="M-23.5,0 C-12.9,-15.6 12.9,-15.6 23.5,0 C12.9,15.6 -12.9,15.6 -23.5,0 Z" transform="translate(143.4 192) rotate(2)" fill="url(#lobtex)"/>
<path d="M-14.0,0 C-7.7,-11.6 7.7,-11.6 14.0,0 C7.7,11.6 -7.7,11.6 -14.0,0 Z" transform="translate(172 181.5) rotate(15)" fill="url(#lobtex)"/>
<path d="M-17.0,0 C-9.4,-11.4 9.4,-11.4 17.0,0 C9.4,11.4 -9.4,11.4 -17.0,0 Z" transform="translate(186 197.5) rotate(8)" fill="url(#lobtex)"/>
<path d="M-20.5,0 C-11.3,-14.3 11.3,-14.3 20.5,0 C11.3,14.3 -11.3,14.3 -20.5,0 Z" transform="translate(140 214) rotate(-3)" fill="url(#lobtex)"/>
<path d="M-31.5,0 C-17.3,-16.9 17.3,-16.9 31.5,0 C17.3,16.9 -17.3,16.9 -31.5,0 Z" transform="translate(156 224.5) rotate(-2)" fill="url(#lobtex)"/>
<path d="M-24.5,0 C-13.5,-15.6 13.5,-15.6 24.5,0 C13.5,15.6 -13.5,15.6 -24.5,0 Z" transform="translate(152 238.5) rotate(-3)" fill="url(#lobtex)"/>
<path d="M-13.0,0 C-7.2,-11.9 7.2,-11.9 13.0,0 C7.2,11.9 -7.2,11.9 -13.0,0 Z" transform="translate(141 247) rotate(10)" fill="url(#lobtex)"/>
<path d="M-20.5,0 C-11.3,-15.6 11.3,-15.6 20.5,0 C11.3,15.6 -11.3,15.6 -20.5,0 Z" transform="translate(150.5 255) rotate(-5)" fill="url(#lobtex)"/>
<path d="M-14.3,0 C-7.9,-12.7 7.9,-12.7 14.3,0 C7.9,12.7 -7.9,12.7 -14.3,0 Z" transform="translate(181.5 255) rotate(-10)" fill="url(#lobtex)"/>
<path d="M-16.0,0 C-8.8,-11.9 8.8,-11.9 16.0,0 C8.8,11.9 -8.8,11.9 -16.0,0 Z" transform="translate(160 267) rotate(25)" fill="url(#lobtex)"/>
<path d="M-22.5,0 C-12.4,-15.6 12.4,-15.6 22.5,0 C12.4,15.6 -12.4,15.6 -22.5,0 Z" transform="translate(172.3 276) rotate(8)" fill="url(#lobtex)"/>
<path d="M-18.0,0 C-9.9,-18.5 9.9,-18.5 18.0,0 C9.9,18.5 -9.9,18.5 -18.0,0 Z" transform="translate(196 281) rotate(5)" fill="url(#lobtex)"/>
<path d="M-22.5,0 C-12.4,-21.4 12.4,-21.4 22.5,0 C12.4,21.4 -12.4,21.4 -22.5,0 Z" transform="translate(209.5 278.7) rotate(0)" fill="url(#lobtex)"/>
<path d="M-14.0,0 C-7.7,-17.8 7.7,-17.8 14.0,0 C7.7,17.8 -7.7,17.8 -14.0,0 Z" transform="translate(227 277) rotate(-10)" fill="url(#lobtex)"/>
<path d="M-11.3,0 C-6.2,-12.3 6.2,-12.3 11.3,0 C6.2,12.3 -6.2,12.3 -11.3,0 Z" transform="translate(239 253.6) rotate(-20)" fill="url(#lobtex)"/>
</g>
<path d="M200.2,200.3 L200.9,200.7 L201.8,201.2 L202.8,201.8 L203.9,202.5 L205.2,203.3 L206.6,204.2 L208.1,205.2 L209.7,206.2 L211.4,207.4 L213.4,208.9 L215.5,210.5 L217.7,212.1 L220.1,213.8 L222.5,215.5 L224.9,217.1 L227.3,218.5 L229.7,219.8 L232.1,221.1 L234.5,222.2 L236.9,223.3 L239.4,224.3 L241.8,225.3 L244.3,226.1 L246.7,226.9 L249.2,227.6 L251.8,228.2 L254.4,228.8 L256.9,229.2 L259.4,229.6 L261.7,229.9 L263.8,230.2 L265.7,230.5 L267.4,230.7 L269.0,230.9 L270.5,231.0 L271.8,231.1 L272.9,231.2 L273.9,231.2 L274.8,231.2 L275.5,231.2 L275.7,229.2 L275.1,229.0 L274.2,228.8 L273.3,228.6 L272.1,228.4 L270.9,228.1 L269.5,227.8 L268.0,227.5 L266.3,227.1 L264.4,226.7 L262.3,226.3 L260.0,225.8 L257.6,225.3 L255.2,224.7 L252.8,224.1 L250.4,223.4 L248.1,222.7 L245.9,221.8 L243.6,220.9 L241.3,219.8 L239.0,218.8 L236.7,217.6 L234.5,216.4 L232.3,215.2 L230.1,213.9 L227.9,212.5 L225.7,210.9 L223.5,209.2 L221.3,207.5 L219.1,205.7 L217.1,204.1 L215.1,202.5 L213.3,201.2 L211.6,200.0 L210.1,198.9 L208.7,198.0 L207.4,197.1 L206.3,196.3 L205.3,195.7 L204.4,195.2 L203.8,194.7 Z" fill="#f2a7af" opacity="0.9"/>
<path d="M189.7,205.5 L190.1,205.6 L190.7,205.7 L191.3,205.8 L192.0,205.9 L192.8,206.1 L193.7,206.3 L194.6,206.5 L195.6,206.7 L196.7,207.0 L197.9,207.3 L199.1,207.6 L200.4,208.0 L201.8,208.4 L203.3,208.8 L204.8,209.2 L206.3,209.8 L208.0,210.3 L209.8,210.9 L211.6,211.5 L213.5,212.2 L215.4,212.9 L217.4,213.7 L219.4,214.4 L221.5,215.3 L223.7,216.2 L226.2,217.3 L228.8,218.4 L231.4,219.6 L233.9,220.7 L236.2,221.7 L238.1,222.6 L239.5,223.2 L240.5,220.8 L239.1,220.2 L237.2,219.3 L235.0,218.3 L232.5,217.1 L229.9,215.9 L227.3,214.8 L224.8,213.7 L222.5,212.7 L220.4,211.9 L218.4,211.1 L216.4,210.3 L214.4,209.6 L212.5,208.9 L210.7,208.2 L208.9,207.6 L207.3,207.0 L205.6,206.5 L204.1,206.0 L202.6,205.6 L201.2,205.2 L199.9,204.8 L198.6,204.5 L197.5,204.2 L196.4,203.9 L195.3,203.6 L194.4,203.4 L193.4,203.2 L192.6,203.0 L191.9,202.8 L191.2,202.7 L190.7,202.6 L190.3,202.5 Z" fill="#f2a7af" opacity="0.9"/>
<path d="M160.0,212.9 L162.3,213.0 L165.4,213.1 L169.1,213.1 L173.1,213.2 L177.5,213.3 L181.8,213.4 L186.0,213.5 L190.0,213.6 L193.8,213.7 L197.6,213.8 L201.6,213.9 L205.4,214.0 L209.2,214.1 L212.8,214.3 L216.1,214.6 L219.1,215.0 L221.9,215.5 L224.5,216.2 L226.9,216.9 L229.1,217.8 L231.1,218.6 L232.9,219.3 L234.4,220.0 L235.6,220.5 L236.4,218.5 L235.2,218.1 L233.7,217.4 L231.9,216.7 L229.9,215.8 L227.6,214.9 L225.1,214.1 L222.3,213.4 L219.5,212.8 L216.4,212.4 L213.0,212.1 L209.3,211.9 L205.5,211.8 L201.6,211.7 L197.7,211.6 L193.8,211.5 L190.0,211.4 L186.1,211.2 L181.9,211.1 L177.5,211.0 L173.2,210.9 L169.1,210.8 L165.4,210.8 L162.3,210.7 L160.0,210.7 Z" fill="#f2a7af" opacity="0.9"/>
<path d="M185.2,224.4 L186.2,224.3 L187.5,224.1 L189.1,223.8 L190.9,223.6 L192.8,223.3 L194.8,223.1 L196.9,223.0 L199.0,222.9 L201.3,222.8 L203.7,222.8 L206.2,222.8 L208.8,222.9 L211.5,223.0 L214.1,223.1 L216.7,223.4 L219.1,223.7 L221.5,224.0 L223.7,224.5 L225.9,225.1 L228.1,225.8 L230.4,226.4 L232.7,227.1 L235.2,227.7 L237.8,228.2 L240.7,228.7 L243.7,229.1 L246.9,229.5 L250.2,229.8 L253.4,230.1 L256.5,230.4 L259.4,230.7 L261.9,230.9 L264.2,231.0 L266.4,231.2 L268.4,231.2 L270.3,231.2 L271.9,231.2 L273.4,231.2 L274.6,231.2 L275.6,231.2 L275.6,229.2 L274.6,229.1 L273.4,229.1 L272.0,229.1 L270.3,229.1 L268.5,229.1 L266.5,229.0 L264.4,228.9 L262.1,228.7 L259.6,228.5 L256.7,228.2 L253.6,227.9 L250.4,227.6 L247.2,227.2 L244.0,226.9 L241.0,226.4 L238.2,226.0 L235.7,225.5 L233.3,224.9 L231.0,224.2 L228.7,223.6 L226.5,222.9 L224.2,222.3 L221.9,221.8 L219.5,221.3 L216.9,221.0 L214.3,220.8 L211.6,220.6 L208.9,220.5 L206.2,220.5 L203.7,220.5 L201.2,220.5 L199.0,220.5 L196.8,220.6 L194.6,220.8 L192.5,221.0 L190.6,221.2 L188.8,221.5 L187.2,221.7 L185.9,221.9 L184.8,222.0 Z" fill="#f2a7af" opacity="0.9"/>
<path d="M184.9,231.5 L186.0,231.6 L187.2,231.6 L188.7,231.7 L190.5,231.8 L192.4,231.9 L194.5,232.0 L196.7,232.1 L199.0,232.2 L201.4,232.3 L204.1,232.4 L207.0,232.5 L210.0,232.6 L213.1,232.7 L216.2,232.8 L219.3,232.9 L222.4,232.9 L225.4,233.0 L228.5,233.0 L231.5,233.0 L234.6,233.0 L237.7,232.9 L240.9,232.9 L244.1,232.8 L247.4,232.7 L251.0,232.6 L254.9,232.4 L259.0,232.2 L263.1,232.0 L267.0,231.7 L270.5,231.5 L273.5,231.4 L275.7,231.2 L275.5,229.2 L273.3,229.3 L270.4,229.4 L266.9,229.6 L263.0,229.8 L258.9,230.0 L254.8,230.2 L250.9,230.4 L247.4,230.5 L244.1,230.6 L240.9,230.6 L237.7,230.7 L234.6,230.7 L231.5,230.7 L228.5,230.7 L225.4,230.7 L222.4,230.7 L219.4,230.6 L216.3,230.5 L213.1,230.4 L210.1,230.3 L207.1,230.2 L204.2,230.0 L201.5,229.9 L199.0,229.8 L196.8,229.7 L194.6,229.6 L192.5,229.5 L190.6,229.4 L188.9,229.3 L187.4,229.2 L186.1,229.2 L185.1,229.1 Z" fill="#f2a7af" opacity="0.9"/>
<path d="M175.7,243.0 L178.2,242.9 L181.5,242.7 L185.5,242.5 L189.9,242.3 L194.4,242.1 L199.0,241.8 L203.2,241.5 L207.0,241.2 L210.3,240.8 L213.5,240.4 L216.5,240.0 L219.3,239.5 L222.1,239.1 L224.8,238.6 L227.6,238.2 L230.4,237.7 L233.4,237.3 L236.3,237.0 L239.2,236.6 L242.2,236.3 L245.1,235.9 L248.0,235.6 L250.9,235.2 L253.8,234.8 L256.8,234.3 L259.9,233.9 L263.1,233.4 L266.2,232.9 L269.2,232.4 L271.8,231.9 L274.1,231.5 L275.7,231.2 L275.5,229.2 L273.8,229.3 L271.5,229.6 L268.8,229.9 L265.9,230.2 L262.7,230.6 L259.5,231.0 L256.4,231.3 L253.4,231.6 L250.6,231.9 L247.7,232.1 L244.7,232.4 L241.8,232.6 L238.8,232.9 L235.9,233.1 L232.9,233.4 L230.0,233.7 L227.0,234.0 L224.2,234.3 L221.4,234.7 L218.7,235.1 L215.8,235.5 L212.9,235.8 L209.8,236.1 L206.6,236.4 L202.9,236.6 L198.7,236.9 L194.2,237.1 L189.6,237.3 L185.2,237.4 L181.3,237.6 L177.9,237.7 L175.5,237.8 Z" fill="#f2a7af" opacity="0.9"/>
<path d="M196.7,261.9 L198.2,261.3 L200.0,260.6 L202.3,259.6 L204.8,258.6 L207.5,257.5 L210.2,256.3 L212.9,255.1 L215.4,254.0 L217.9,252.8 L220.4,251.6 L223.0,250.4 L225.6,249.2 L228.1,247.9 L230.7,246.7 L233.2,245.5 L235.6,244.3 L238.0,243.2 L240.3,242.1 L242.6,241.0 L244.8,240.0 L247.0,239.0 L249.3,238.0 L251.6,237.1 L254.0,236.3 L256.7,235.5 L259.7,234.7 L262.8,234.0 L266.0,233.3 L269.0,232.7 L271.8,232.1 L274.1,231.6 L275.8,231.2 L275.4,229.2 L273.7,229.5 L271.4,229.8 L268.6,230.3 L265.5,230.8 L262.3,231.4 L259.1,232.1 L256.0,232.8 L253.2,233.5 L250.6,234.3 L248.2,235.2 L245.8,236.1 L243.5,237.0 L241.2,238.0 L238.9,239.0 L236.6,240.0 L234.2,241.1 L231.7,242.1 L229.1,243.3 L226.5,244.5 L223.9,245.6 L221.3,246.8 L218.8,248.0 L216.2,249.1 L213.8,250.2 L211.2,251.3 L208.6,252.4 L205.8,253.5 L203.2,254.6 L200.7,255.6 L198.4,256.5 L196.5,257.3 L195.1,257.9 Z" fill="#f2a7af" opacity="0.9"/>
<path d="M207.1,248.5 L208.3,248.1 L209.8,247.7 L211.7,247.2 L213.7,246.6 L215.9,245.9 L218.1,245.3 L220.3,244.6 L222.3,244.0 L224.3,243.4 L226.2,242.8 L228.1,242.2 L230.0,241.5 L232.0,240.9 L234.0,240.3 L236.1,239.6 L238.3,239.0 L240.7,238.3 L243.4,237.6 L246.3,236.9 L249.2,236.2 L252.0,235.5 L254.5,234.9 L256.7,234.3 L258.2,234.0 L257.8,232.0 L256.2,232.4 L254.1,232.9 L251.6,233.5 L248.8,234.2 L245.8,234.9 L242.9,235.6 L240.2,236.3 L237.7,237.0 L235.5,237.6 L233.4,238.3 L231.4,238.9 L229.4,239.5 L227.4,240.2 L225.5,240.8 L223.6,241.4 L221.7,242.0 L219.7,242.6 L217.5,243.2 L215.3,243.8 L213.1,244.5 L211.1,245.0 L209.2,245.6 L207.7,246.0 L206.5,246.3 Z" fill="#f2a7af" opacity="0.9"/>
<path d="M238.5,248.4 L238.9,248.2 L239.4,248.0 L240.1,247.7 L240.8,247.4 L241.7,247.0 L242.7,246.5 L243.7,245.9 L244.9,245.3 L246.1,244.5 L247.5,243.6 L248.9,242.6 L250.4,241.5 L252.0,240.5 L253.7,239.4 L255.4,238.4 L257.2,237.5 L259.4,236.6 L261.9,235.7 L264.6,234.8 L267.3,233.9 L270.0,233.1 L272.4,232.3 L274.4,231.7 L275.9,231.2 L275.3,229.2 L273.8,229.7 L271.8,230.3 L269.3,231.0 L266.7,231.8 L263.9,232.7 L261.1,233.6 L258.6,234.6 L256.4,235.5 L254.4,236.5 L252.5,237.5 L250.8,238.6 L249.1,239.7 L247.6,240.7 L246.2,241.7 L244.9,242.6 L243.7,243.3 L242.6,243.9 L241.6,244.5 L240.7,244.9 L239.9,245.3 L239.2,245.6 L238.5,245.9 L238.0,246.1 L237.5,246.4 Z" fill="#f2a7af" opacity="0.9"/>
<path d="M200.5,199.9 L201.2,200.3 L202.1,200.8 L203.1,201.4 L204.2,202.1 L205.5,202.9 L206.9,203.8 L208.4,204.8 L210.0,205.8 L211.7,207.0 L213.7,208.5 L215.8,210.1 L218.0,211.7 L220.4,213.4 L222.8,215.1 L225.2,216.7 L227.6,218.1 L229.9,219.4 L232.3,220.6 L234.7,221.8 L237.1,222.9 L239.6,223.9 L242.0,224.8 L244.4,225.7 L246.8,226.5 L249.3,227.2 L251.9,227.8 L254.5,228.3 L257.0,228.7 L259.4,229.1 L261.8,229.4 L263.9,229.7 L265.8,230.0 L267.5,230.2 L269.1,230.4 L270.5,230.5 L271.8,230.6 L273.0,230.7 L274.0,230.7 L274.8,230.7 L275.5,230.7 L275.7,229.7 L275.0,229.5 L274.2,229.3 L273.2,229.1 L272.1,228.9 L270.8,228.6 L269.4,228.3 L267.9,228.0 L266.2,227.6 L264.3,227.2 L262.2,226.8 L259.9,226.3 L257.5,225.8 L255.1,225.2 L252.7,224.6 L250.3,223.9 L248.0,223.1 L245.7,222.3 L243.4,221.3 L241.1,220.3 L238.8,219.2 L236.5,218.1 L234.3,216.9 L232.0,215.6 L229.8,214.3 L227.7,212.9 L225.5,211.3 L223.2,209.6 L221.0,207.9 L218.8,206.1 L216.8,204.5 L214.8,202.9 L213.0,201.6 L211.4,200.4 L209.8,199.3 L208.4,198.4 L207.1,197.5 L206.0,196.8 L205.0,196.1 L204.2,195.6 L203.5,195.1 Z" fill="#f9cfd1" opacity="1"/>
<path d="M189.8,205.0 L190.2,205.1 L190.8,205.2 L191.4,205.3 L192.1,205.4 L192.9,205.6 L193.8,205.8 L194.7,206.0 L195.8,206.2 L196.8,206.5 L198.0,206.8 L199.3,207.1 L200.6,207.5 L202.0,207.9 L203.4,208.3 L204.9,208.8 L206.5,209.3 L208.2,209.8 L209.9,210.4 L211.8,211.1 L213.6,211.7 L215.6,212.5 L217.6,213.2 L219.6,214.0 L221.7,214.8 L223.9,215.7 L226.4,216.8 L229.0,217.9 L231.6,219.1 L234.1,220.2 L236.4,221.3 L238.3,222.1 L239.7,222.7 L240.3,221.3 L238.9,220.6 L237.0,219.8 L234.8,218.7 L232.3,217.6 L229.7,216.4 L227.1,215.2 L224.6,214.1 L222.3,213.2 L220.3,212.4 L218.2,211.5 L216.2,210.8 L214.3,210.0 L212.4,209.4 L210.5,208.7 L208.8,208.1 L207.1,207.5 L205.5,207.0 L204.0,206.5 L202.5,206.1 L201.1,205.7 L199.8,205.3 L198.5,205.0 L197.3,204.6 L196.2,204.4 L195.2,204.1 L194.2,203.9 L193.3,203.7 L192.5,203.5 L191.8,203.3 L191.2,203.2 L190.6,203.1 L190.2,203.0 Z" fill="#f9cfd1" opacity="1"/>
<path d="M160.0,212.4 L162.3,212.5 L165.4,212.6 L169.1,212.6 L173.2,212.7 L177.5,212.8 L181.8,212.9 L186.1,213.0 L190.0,213.1 L193.8,213.2 L197.7,213.3 L201.6,213.4 L205.5,213.5 L209.2,213.6 L212.8,213.8 L216.2,214.1 L219.2,214.5 L222.0,215.0 L224.6,215.7 L227.0,216.5 L229.3,217.3 L231.3,218.1 L233.1,218.9 L234.6,219.5 L235.8,220.0 L236.2,219.0 L235.0,218.6 L233.5,217.9 L231.7,217.1 L229.7,216.3 L227.4,215.4 L224.9,214.6 L222.2,213.9 L219.4,213.3 L216.3,212.9 L212.9,212.6 L209.3,212.4 L205.5,212.3 L201.6,212.2 L197.7,212.1 L193.8,212.0 L190.0,211.9 L186.1,211.7 L181.9,211.6 L177.5,211.5 L173.2,211.4 L169.1,211.3 L165.4,211.3 L162.3,211.2 L160.0,211.2 Z" fill="#f9cfd1" opacity="1"/>
<path d="M185.1,223.9 L186.1,223.8 L187.5,223.6 L189.0,223.3 L190.8,223.1 L192.8,222.8 L194.8,222.6 L196.9,222.5 L199.0,222.4 L201.3,222.3 L203.7,222.3 L206.2,222.3 L208.8,222.4 L211.5,222.5 L214.1,222.6 L216.7,222.9 L219.2,223.2 L221.5,223.6 L223.8,224.1 L226.0,224.7 L228.2,225.3 L230.5,226.0 L232.8,226.6 L235.3,227.2 L237.9,227.7 L240.7,228.2 L243.8,228.6 L247.0,229.0 L250.3,229.3 L253.5,229.6 L256.6,229.9 L259.4,230.2 L262.0,230.4 L264.3,230.5 L266.4,230.7 L268.4,230.7 L270.3,230.7 L272.0,230.7 L273.4,230.7 L274.6,230.7 L275.6,230.7 L275.6,229.7 L274.6,229.6 L273.4,229.6 L272.0,229.6 L270.3,229.6 L268.5,229.6 L266.5,229.5 L264.3,229.4 L262.0,229.2 L259.5,229.0 L256.7,228.7 L253.6,228.4 L250.4,228.1 L247.1,227.7 L244.0,227.3 L240.9,226.9 L238.1,226.5 L235.6,226.0 L233.2,225.4 L230.8,224.7 L228.6,224.1 L226.4,223.4 L224.1,222.8 L221.8,222.3 L219.4,221.8 L216.9,221.5 L214.2,221.3 L211.6,221.1 L208.9,221.0 L206.2,221.0 L203.7,221.0 L201.2,221.0 L199.0,221.0 L196.8,221.1 L194.7,221.3 L192.6,221.5 L190.6,221.7 L188.8,222.0 L187.3,222.2 L185.9,222.4 L184.9,222.5 Z" fill="#f9cfd1" opacity="1"/>
<path d="M185.0,231.0 L186.0,231.1 L187.3,231.1 L188.8,231.2 L190.5,231.3 L192.4,231.4 L194.5,231.5 L196.7,231.6 L199.0,231.7 L201.4,231.8 L204.1,231.9 L207.0,232.0 L210.0,232.1 L213.1,232.2 L216.2,232.3 L219.3,232.4 L222.4,232.4 L225.4,232.5 L228.5,232.5 L231.5,232.5 L234.6,232.5 L237.7,232.4 L240.9,232.4 L244.1,232.3 L247.4,232.2 L251.0,232.1 L254.9,231.9 L259.0,231.7 L263.1,231.5 L267.0,231.2 L270.5,231.0 L273.4,230.9 L275.6,230.7 L275.6,229.7 L273.4,229.8 L270.4,229.9 L266.9,230.1 L263.0,230.3 L259.0,230.5 L254.9,230.7 L250.9,230.9 L247.4,231.0 L244.1,231.1 L240.9,231.1 L237.7,231.2 L234.6,231.2 L231.5,231.2 L228.5,231.2 L225.4,231.2 L222.4,231.2 L219.3,231.1 L216.2,231.0 L213.1,230.9 L210.0,230.8 L207.0,230.7 L204.2,230.5 L201.5,230.4 L199.0,230.3 L196.7,230.2 L194.5,230.1 L192.5,230.0 L190.6,229.9 L188.8,229.8 L187.3,229.7 L186.1,229.7 L185.0,229.6 Z" fill="#f9cfd1" opacity="1"/>
<path d="M175.7,242.5 L178.2,242.4 L181.5,242.2 L185.4,242.0 L189.8,241.8 L194.4,241.6 L198.9,241.3 L203.2,241.0 L207.0,240.7 L210.3,240.3 L213.4,239.9 L216.4,239.5 L219.2,239.0 L222.0,238.6 L224.8,238.1 L227.5,237.7 L230.4,237.2 L233.3,236.9 L236.2,236.5 L239.2,236.1 L242.1,235.8 L245.1,235.4 L248.0,235.1 L250.9,234.7 L253.7,234.3 L256.7,233.8 L259.8,233.4 L263.0,232.9 L266.2,232.4 L269.1,231.9 L271.8,231.4 L274.0,231.1 L275.7,230.7 L275.5,229.7 L273.8,229.8 L271.6,230.1 L268.9,230.4 L265.9,230.7 L262.8,231.1 L259.6,231.5 L256.4,231.8 L253.5,232.1 L250.6,232.4 L247.7,232.6 L244.8,232.9 L241.9,233.1 L238.9,233.4 L235.9,233.6 L233.0,233.9 L230.0,234.2 L227.1,234.5 L224.3,234.8 L221.5,235.2 L218.7,235.6 L215.9,236.0 L213.0,236.3 L209.9,236.6 L206.6,236.9 L202.9,237.1 L198.7,237.4 L194.2,237.6 L189.6,237.8 L185.3,237.9 L181.3,238.1 L178.0,238.2 L175.5,238.3 Z" fill="#f9cfd1" opacity="1"/>
<path d="M196.5,261.5 L198.0,260.9 L199.9,260.1 L202.1,259.2 L204.6,258.1 L207.3,257.0 L210.0,255.8 L212.7,254.7 L215.2,253.5 L217.7,252.4 L220.2,251.2 L222.8,250.0 L225.4,248.7 L227.9,247.4 L230.5,246.2 L233.0,245.0 L235.4,243.9 L237.8,242.8 L240.1,241.7 L242.4,240.6 L244.6,239.5 L246.8,238.5 L249.1,237.6 L251.4,236.7 L253.9,235.8 L256.6,235.0 L259.6,234.2 L262.7,233.5 L265.9,232.8 L268.9,232.2 L271.7,231.6 L274.0,231.1 L275.7,230.7 L275.5,229.7 L273.8,229.9 L271.4,230.3 L268.7,230.8 L265.6,231.3 L262.4,231.9 L259.2,232.6 L256.1,233.3 L253.3,234.0 L250.8,234.8 L248.4,235.6 L246.0,236.5 L243.7,237.5 L241.4,238.5 L239.1,239.5 L236.8,240.5 L234.4,241.5 L231.9,242.6 L229.3,243.7 L226.7,244.9 L224.1,246.1 L221.5,247.3 L219.0,248.5 L216.4,249.6 L214.0,250.7 L211.4,251.8 L208.8,252.9 L206.0,254.0 L203.4,255.1 L200.8,256.1 L198.6,257.0 L196.7,257.7 L195.3,258.3 Z" fill="#f9cfd1" opacity="1"/>
<path d="M207.0,248.0 L208.1,247.6 L209.7,247.2 L211.5,246.7 L213.6,246.1 L215.7,245.5 L218.0,244.8 L220.1,244.2 L222.2,243.6 L224.1,242.9 L226.0,242.3 L227.9,241.7 L229.9,241.1 L231.8,240.4 L233.9,239.8 L236.0,239.1 L238.1,238.5 L240.6,237.9 L243.3,237.1 L246.2,236.4 L249.1,235.7 L251.9,235.0 L254.4,234.4 L256.5,233.9 L258.1,233.5 L257.9,232.5 L256.3,232.9 L254.2,233.4 L251.7,234.0 L248.9,234.7 L246.0,235.4 L243.1,236.1 L240.3,236.8 L237.9,237.5 L235.7,238.1 L233.5,238.7 L231.5,239.4 L229.5,240.0 L227.6,240.6 L225.7,241.3 L223.8,241.9 L221.8,242.4 L219.8,243.1 L217.6,243.7 L215.4,244.3 L213.2,244.9 L211.2,245.5 L209.3,246.0 L207.8,246.5 L206.6,246.8 Z" fill="#f9cfd1" opacity="1"/>
<path d="M238.3,248.0 L238.7,247.8 L239.2,247.5 L239.9,247.3 L240.6,246.9 L241.5,246.5 L242.4,246.0 L243.5,245.5 L244.6,244.8 L245.9,244.1 L247.2,243.2 L248.6,242.2 L250.1,241.1 L251.7,240.0 L253.4,239.0 L255.2,238.0 L257.0,237.0 L259.2,236.1 L261.7,235.2 L264.4,234.3 L267.2,233.4 L269.8,232.6 L272.2,231.8 L274.3,231.2 L275.8,230.7 L275.4,229.7 L273.9,230.1 L271.9,230.8 L269.5,231.5 L266.8,232.3 L264.0,233.2 L261.3,234.1 L258.8,235.0 L256.6,236.0 L254.6,236.9 L252.8,237.9 L251.0,239.0 L249.4,240.1 L247.9,241.1 L246.5,242.1 L245.2,243.0 L244.0,243.8 L242.9,244.4 L241.9,244.9 L240.9,245.4 L240.1,245.8 L239.4,246.1 L238.7,246.4 L238.2,246.6 L237.7,246.8 Z" fill="#f9cfd1" opacity="1"/>
<clipPath id="skinclip"><path d="M148.0,34.0 C148.4,35.6 149.0,39.8 150.6,43.5 C152.2,47.2 155.3,51.9 157.7,56.4 C160.1,60.9 162.2,65.4 164.8,70.6 C167.4,75.8 170.7,83.3 173.3,87.7 C175.9,92.1 177.7,93.3 180.5,97.0 C183.3,100.7 186.4,105.4 189.9,109.8 C193.4,114.2 197.3,119.1 201.3,123.5 C205.3,127.9 209.8,131.8 214.1,136.3 C218.4,140.8 222.8,145.8 226.9,150.6 C231.0,155.4 235.3,160.7 238.6,164.9 C241.8,169.1 243.8,171.9 246.4,175.7 C249.0,179.4 251.6,183.5 253.9,187.4 C256.2,191.3 258.2,195.1 260.3,199.2 C262.4,203.3 264.8,207.9 266.7,212.0 C268.6,216.1 271.1,221.8 272.0,223.8 L275.2,226.6 L278.2,229.6 L276.2,234.0 L274.7,235.7 C274.6,237.5 274.8,242.8 274.4,246.4 C274.0,250.0 273.5,253.5 272.6,257.1 C271.7,260.7 270.3,264.4 268.8,267.8 C267.3,271.2 265.4,274.4 263.5,277.4 C261.6,280.4 260.0,282.6 257.1,285.9 C254.2,289.2 250.0,293.8 246.2,297.3 C242.4,300.8 238.4,304.0 234.5,306.7 C230.6,309.4 226.1,311.6 222.8,313.3 C219.6,315.0 218.3,315.7 215.0,316.8 C211.7,317.9 207.6,319.1 203.0,320.1 C198.4,321.1 192.6,322.3 187.4,322.9 C182.2,323.5 177.0,323.8 171.8,323.7 C166.6,323.6 159.8,322.7 156.2,322.5 C152.6,322.3 151.8,321.8 150.5,322.3 C149.2,322.8 148.8,324.0 148.4,325.6 C148.0,327.2 148.0,328.6 147.9,331.8 C147.8,335.0 147.8,337.3 147.8,345.0 C147.8,352.7 147.8,372.5 147.8,378.0 L133.4,378 C133.4,372.5 133.5,354.0 133.6,345.0 C133.7,336.0 133.8,329.3 134.1,324.0 C134.3,318.7 134.7,315.8 135.1,313.1 C135.5,310.4 135.9,308.4 136.7,307.6 C137.5,306.8 138.4,307.9 139.8,308.4 C141.2,308.9 142.6,309.8 145.3,310.7 C148.0,311.6 151.8,313.1 156.2,313.9 C160.6,314.7 166.6,315.3 171.8,315.4 C177.0,315.5 182.2,315.3 187.4,314.7 C192.6,314.1 198.4,312.8 203.0,311.5 C207.6,310.2 211.7,308.2 215.0,306.7 C218.3,305.2 219.6,304.2 222.8,302.4 C226.1,300.6 230.6,298.6 234.5,296.1 C238.4,293.6 242.9,290.3 246.2,287.6 C249.4,284.9 251.5,282.7 254.0,280.1 C256.5,277.5 258.9,274.2 261.0,271.8 C263.1,269.4 265.1,268.1 266.7,265.6 C268.3,263.2 269.5,260.3 270.4,257.1 C271.3,253.9 271.7,250.0 272.0,246.4 C272.3,242.8 272.0,237.5 272.0,235.7 L273.9,234.2 L277.2,229.6 L273.8,227.8 L272,227 C271.3,226.3 269.6,224.8 267.8,222.7 C266.0,220.6 263.6,217.2 261.3,214.2 C259.0,211.2 256.5,208.0 253.9,204.6 C251.3,201.2 248.7,197.4 245.6,193.7 C242.5,190.0 239.6,186.3 235.5,182.2 C231.4,178.1 225.9,173.2 221.2,169.1 C216.4,165.0 211.8,161.5 207.0,157.7 C202.2,153.9 197.4,150.3 192.7,146.3 C187.9,142.3 182.0,136.7 178.5,133.5 C175.0,130.3 173.9,129.2 171.5,127.0 C169.1,124.8 166.3,122.6 164.2,120.6 C162.1,118.6 161.5,117.2 159.1,114.8 C156.7,112.4 152.4,108.5 150.0,106.4 C147.6,104.3 148.1,105.1 144.9,102.0 C141.7,98.9 134.9,92.7 130.6,87.7 C126.3,82.7 122.5,77.2 119.2,72.0 C115.9,66.8 113.2,61.4 110.7,56.4 C108.2,51.4 105.8,45.8 104.3,42.1 C102.8,38.4 102.4,35.4 102.0,34.0 Z"/></clipPath>
<path d="M148.0,34.0 C148.4,35.6 149.0,39.8 150.6,43.5 C152.2,47.2 155.3,51.9 157.7,56.4 C160.1,60.9 162.2,65.4 164.8,70.6 C167.4,75.8 170.7,83.3 173.3,87.7 C175.9,92.1 177.7,93.3 180.5,97.0 C183.3,100.7 186.4,105.4 189.9,109.8 C193.4,114.2 197.3,119.1 201.3,123.5 C205.3,127.9 209.8,131.8 214.1,136.3 C218.4,140.8 222.8,145.8 226.9,150.6 C231.0,155.4 235.3,160.7 238.6,164.9 C241.8,169.1 243.8,171.9 246.4,175.7 C249.0,179.4 251.6,183.5 253.9,187.4 C256.2,191.3 258.2,195.1 260.3,199.2 C262.4,203.3 264.8,207.9 266.7,212.0 C268.6,216.1 271.1,221.8 272.0,223.8 L275.2,226.6 L278.2,229.6 L276.2,234.0 L274.7,235.7 C274.6,237.5 274.8,242.8 274.4,246.4 C274.0,250.0 273.5,253.5 272.6,257.1 C271.7,260.7 270.3,264.4 268.8,267.8 C267.3,271.2 265.4,274.4 263.5,277.4 C261.6,280.4 260.0,282.6 257.1,285.9 C254.2,289.2 250.0,293.8 246.2,297.3 C242.4,300.8 238.4,304.0 234.5,306.7 C230.6,309.4 226.1,311.6 222.8,313.3 C219.6,315.0 218.3,315.7 215.0,316.8 C211.7,317.9 207.6,319.1 203.0,320.1 C198.4,321.1 192.6,322.3 187.4,322.9 C182.2,323.5 177.0,323.8 171.8,323.7 C166.6,323.6 159.8,322.7 156.2,322.5 C152.6,322.3 151.8,321.8 150.5,322.3 C149.2,322.8 148.8,324.0 148.4,325.6 C148.0,327.2 148.0,328.6 147.9,331.8 C147.8,335.0 147.8,337.3 147.8,345.0 C147.8,352.7 147.8,372.5 147.8,378.0 L133.4,378 C133.4,372.5 133.5,354.0 133.6,345.0 C133.7,336.0 133.8,329.3 134.1,324.0 C134.3,318.7 134.7,315.8 135.1,313.1 C135.5,310.4 135.9,308.4 136.7,307.6 C137.5,306.8 138.4,307.9 139.8,308.4 C141.2,308.9 142.6,309.8 145.3,310.7 C148.0,311.6 151.8,313.1 156.2,313.9 C160.6,314.7 166.6,315.3 171.8,315.4 C177.0,315.5 182.2,315.3 187.4,314.7 C192.6,314.1 198.4,312.8 203.0,311.5 C207.6,310.2 211.7,308.2 215.0,306.7 C218.3,305.2 219.6,304.2 222.8,302.4 C226.1,300.6 230.6,298.6 234.5,296.1 C238.4,293.6 242.9,290.3 246.2,287.6 C249.4,284.9 251.5,282.7 254.0,280.1 C256.5,277.5 258.9,274.2 261.0,271.8 C263.1,269.4 265.1,268.1 266.7,265.6 C268.3,263.2 269.5,260.3 270.4,257.1 C271.3,253.9 271.7,250.0 272.0,246.4 C272.3,242.8 272.0,237.5 272.0,235.7 L273.9,234.2 L277.2,229.6 L273.8,227.8 L272,227 C271.3,226.3 269.6,224.8 267.8,222.7 C266.0,220.6 263.6,217.2 261.3,214.2 C259.0,211.2 256.5,208.0 253.9,204.6 C251.3,201.2 248.7,197.4 245.6,193.7 C242.5,190.0 239.6,186.3 235.5,182.2 C231.4,178.1 225.9,173.2 221.2,169.1 C216.4,165.0 211.8,161.5 207.0,157.7 C202.2,153.9 197.4,150.3 192.7,146.3 C187.9,142.3 182.0,136.7 178.5,133.5 C175.0,130.3 173.9,129.2 171.5,127.0 C169.1,124.8 166.3,122.6 164.2,120.6 C162.1,118.6 161.5,117.2 159.1,114.8 C156.7,112.4 152.4,108.5 150.0,106.4 C147.6,104.3 148.1,105.1 144.9,102.0 C141.7,98.9 134.9,92.7 130.6,87.7 C126.3,82.7 122.5,77.2 119.2,72.0 C115.9,66.8 113.2,61.4 110.7,56.4 C108.2,51.4 105.8,45.8 104.3,42.1 C102.8,38.4 102.4,35.4 102.0,34.0 Z" fill="#e7ceb3"/>
<g clip-path="url(#skinclip)"><path d="M102.0,34.0 C102.4,35.4 102.8,38.4 104.3,42.1 C105.8,45.8 108.2,51.4 110.7,56.4 C113.2,61.4 115.9,66.8 119.2,72.0 C122.5,77.2 126.3,82.7 130.6,87.7 C134.9,92.7 141.7,98.9 144.9,102.0 C148.1,105.1 147.6,104.3 150.0,106.4 C152.4,108.5 156.7,112.4 159.1,114.8 C161.5,117.2 162.1,118.6 164.2,120.6 C166.3,122.6 169.1,124.8 171.5,127.0 C173.9,129.2 175.0,130.3 178.5,133.5 C182.0,136.7 187.9,142.3 192.7,146.3 C197.4,150.3 202.2,153.9 207.0,157.7 C211.8,161.5 216.4,165.0 221.2,169.1 C225.9,173.2 231.4,178.1 235.5,182.2 C239.6,186.3 242.5,190.0 245.6,193.7 C248.7,197.4 251.3,201.2 253.9,204.6 C256.5,208.0 259.0,211.2 261.3,214.2 C263.6,217.2 266.0,220.6 267.8,222.7 C269.6,224.8 271.3,226.3 272.0,227.0" fill="none" stroke="#d2a784" stroke-width="24" filter="url(#bl2)" opacity="0.7"/>
<path d="M272.0,235.7 C272.0,237.5 272.3,242.8 272.0,246.4 C271.7,250.0 271.3,253.9 270.4,257.1 C269.5,260.3 268.3,263.2 266.7,265.6 C265.1,268.1 263.1,269.4 261.0,271.8 C258.9,274.2 256.5,277.5 254.0,280.1 C251.5,282.7 249.4,284.9 246.2,287.6 C242.9,290.3 238.4,293.6 234.5,296.1 C230.6,298.6 226.1,300.6 222.8,302.4 C219.6,304.2 218.3,305.2 215.0,306.7 C211.7,308.2 207.6,310.2 203.0,311.5 C198.4,312.8 192.6,314.1 187.4,314.7 C182.2,315.3 177.0,315.5 171.8,315.4 C166.6,315.3 160.6,314.7 156.2,313.9 C151.8,313.1 148.0,311.6 145.3,310.7 C142.6,309.8 141.2,308.9 139.8,308.4 C138.4,307.9 137.5,306.8 136.7,307.6 C135.9,308.4 135.5,310.4 135.1,313.1 C134.7,315.8 134.3,318.7 134.1,324.0 C133.8,329.3 133.7,336.0 133.6,345.0 C133.5,354.0 133.4,372.5 133.4,378.0" fill="none" stroke="#d3a884" stroke-width="11" filter="url(#bl2)" opacity="0.9"/></g>
<path d="M102.0,34.0 C102.4,35.4 102.8,38.4 104.3,42.1 C105.8,45.8 108.2,51.4 110.7,56.4 C113.2,61.4 115.9,66.8 119.2,72.0 C122.5,77.2 126.3,82.7 130.6,87.7 C134.9,92.7 141.7,98.9 144.9,102.0 C148.1,105.1 147.6,104.3 150.0,106.4 C152.4,108.5 156.7,112.4 159.1,114.8 C161.5,117.2 162.1,118.6 164.2,120.6 C166.3,122.6 169.1,124.8 171.5,127.0 C173.9,129.2 175.0,130.3 178.5,133.5 C182.0,136.7 187.9,142.3 192.7,146.3 C197.4,150.3 202.2,153.9 207.0,157.7 C211.8,161.5 216.4,165.0 221.2,169.1 C225.9,173.2 231.4,178.1 235.5,182.2 C239.6,186.3 242.5,190.0 245.6,193.7 C248.7,197.4 251.3,201.2 253.9,204.6 C256.5,208.0 259.0,211.2 261.3,214.2 C263.6,217.2 266.0,220.6 267.8,222.7 C269.6,224.8 271.3,226.3 272.0,227.0" fill="none" stroke="#a94f38" stroke-width="3.8" stroke-linejoin="round"/>
<path d="M272.0,235.7 C272.0,237.5 272.3,242.8 272.0,246.4 C271.7,250.0 271.3,253.9 270.4,257.1 C269.5,260.3 267.3,264.2 266.7,265.6" fill="none" stroke="#c58a63" stroke-width="2.0" stroke-linejoin="round"/>
<path d="M266.7,265.6 C265.8,266.6 263.1,269.4 261.0,271.8 C258.9,274.2 256.5,277.5 254.0,280.1 C251.5,282.7 249.4,284.9 246.2,287.6 C242.9,290.3 238.4,293.6 234.5,296.1 C230.6,298.6 226.1,300.6 222.8,302.4 C219.6,304.2 218.3,305.2 215.0,306.7 C211.7,308.2 207.6,310.2 203.0,311.5 C198.4,312.8 192.6,314.1 187.4,314.7 C182.2,315.3 177.0,315.5 171.8,315.4 C166.6,315.3 160.6,314.7 156.2,313.9 C151.8,313.1 147.1,311.2 145.3,310.7" fill="none" stroke="#a84a31" stroke-width="3.0" stroke-linejoin="round"/>
<path d="M145.3,310.7 C144.4,310.3 141.2,308.9 139.8,308.4 C138.4,307.9 137.5,306.8 136.7,307.6 C135.9,308.4 135.5,310.4 135.1,313.1 C134.7,315.8 134.3,318.7 134.1,324.0 C133.8,329.3 133.7,336.0 133.6,345.0 C133.5,354.0 133.4,372.5 133.4,378.0" fill="none" stroke="#a34930" stroke-width="3.6" stroke-linejoin="round"/>
<path d="M272.2,226.6 C275,227.2 278.3,228.3 278.3,229.7 C278.3,231.3 275.8,233.2 272.6,234.8 Z" fill="#f3bba9"/>
</g>
<defs><linearGradient id="cone1" gradientUnits="userSpaceOnUse" x1="200" y1="198" x2="302" y2="100"><stop offset="0" stop-color="#fff" stop-opacity="0"/><stop offset="0.35" stop-color="#fff" stop-opacity="0.2"/><stop offset="0.65" stop-color="#fff" stop-opacity="0.6"/><stop offset="1" stop-color="#fff" stop-opacity="0.9"/></linearGradient>
<linearGradient id="cone2" gradientUnits="userSpaceOnUse" x1="245" y1="220" x2="302" y2="280"><stop offset="0" stop-color="#fff" stop-opacity="0"/><stop offset="0.4" stop-color="#fff" stop-opacity="0.18"/><stop offset="0.7" stop-color="#fff" stop-opacity="0.6"/><stop offset="1" stop-color="#fff" stop-opacity="0.9"/></linearGradient></defs>
<path d="M200.6,188.6 L302,16.6 L302,177.6 L200.6,207 Z" fill="url(#cone1)"/>
<path d="M245.8,210.3 L302,185.6 L302.4,367.8 L245.8,229.1 Z" fill="url(#cone2)"/>
<path d="M200.6,188.6 L213.3,167.1" stroke="#303030" stroke-width="0.75" fill="none" opacity="0.22"/>
<path d="M213.3,167.1 L223.4,149.9" stroke="#303030" stroke-width="0.75" fill="none" opacity="0.5"/>
<path d="M223.4,149.9 L302,16.6" stroke="#303030" stroke-width="0.75" fill="none"/>
<path d="M200.6,207 L243,194.7" stroke="#303030" stroke-width="0.75" fill="none" opacity="0.22"/>
<path d="M243,194.7 L256.5,190.8" stroke="#303030" stroke-width="0.75" fill="none" opacity="0.5"/>
<path d="M256.5,190.8 L302,177.6" stroke="#303030" stroke-width="0.75" fill="none"/>
<path d="M245.8,210.3 L255,206.3" stroke="#303030" stroke-width="0.75" fill="none" opacity="0.22"/>
<path d="M255,206.3 L263,202.7" stroke="#303030" stroke-width="0.75" fill="none" opacity="0.5"/>
<path d="M263,202.7 L302,185.6" stroke="#303030" stroke-width="0.75" fill="none"/>
<path d="M245.8,229.1 L260,264" stroke="#303030" stroke-width="0.75" fill="none" opacity="0.22"/>
<path d="M260,264 L261.5,267.5" stroke="#303030" stroke-width="0.75" fill="none" opacity="0.5"/>
<path d="M261.5,267.5 L302.4,367.8" stroke="#303030" stroke-width="0.75" fill="none"/>
<rect x="179.4" y="188.6" width="21.2" height="18.4" fill="#fdeef0" fill-opacity="0.7" stroke="#2a2a2a" stroke-width="1"/>
<rect x="224.8" y="210.3" width="21" height="18.8" fill="#fff4e8" fill-opacity="0.7" stroke="#2a2a2a" stroke-width="1"/>
<path d="M144.2,166 V190" stroke="#6a6867" stroke-width="0.8"/>
<path d="M234.5,241 V332.2" stroke="#6a6867" stroke-width="0.8"/>
<text x="8.4" y="18.7" font-size="13" font-weight="bold" fill="#111" textLength="9.9" lengthAdjust="spacingAndGlyphs">A</text>
<text x="130.7" y="163.8" font-size="9.8" font-weight="normal" fill="#2d2b2c" textLength="25.2" lengthAdjust="spacingAndGlyphs">TDLU</text>
<text x="148.2" y="297.4" font-size="9.8" font-weight="normal" letter-spacing="0.25" fill="#2d2b2c" textLength="33.3" lengthAdjust="spacingAndGlyphs">Stroma</text>
<text x="211.2" y="343.9" font-size="9.8" font-weight="normal" letter-spacing="0.25" fill="#2d2b2c" textLength="46.5" lengthAdjust="spacingAndGlyphs">Collecting</text>
<text x="221.4" y="354.3" font-size="9.8" font-weight="normal" letter-spacing="0.25" fill="#2d2b2c" textLength="25.9" lengthAdjust="spacingAndGlyphs">ducts</text>
<g id="tdlu">
<clipPath id="tdluclip"><rect x="302.5" y="17" width="203.5" height="160"/></clipPath>
<rect x="302" y="16.5" width="204.3" height="161" fill="#f69b8b"/>
<g clip-path="url(#tdluclip)">
<g filter="url(#goo)">
<path d="M520.0,105.6 C511.7,105.5 483.0,105.4 470.0,105.3 C457.0,105.2 446.7,105.0 442.0,105.0" fill="none" stroke="#a3cdea" stroke-width="24.40" stroke-linecap="round" stroke-linejoin="round"/>
<path d="M442.0,105.0 C441.0,105.0 438.0,104.9 436.0,104.8 C434.0,104.7 431.0,104.3 430.0,104.2" fill="none" stroke="#a3cdea" stroke-width="19.00" stroke-linecap="round" stroke-linejoin="round"/>
<path d="M434.0,104.3 C430.0,104.1 418.2,103.5 410.0,103.2 C401.8,102.9 393.8,102.9 385.0,102.3 C376.2,101.7 361.7,100.2 357.0,99.8" fill="none" stroke="#a3cdea" stroke-width="13.80" stroke-linecap="round" stroke-linejoin="round"/>
<path d="M357.0,99.8 C356.3,97.3 355.0,90.5 352.7,85.0 C350.4,79.5 344.9,70.0 343.4,67.0" fill="none" stroke="#a3cdea" stroke-width="13.80" stroke-linecap="round" stroke-linejoin="round"/>
<path d="M357.0,99.8 C354.2,98.7 346.0,95.1 340.0,93.0 C334.0,90.9 324.1,88.2 320.9,87.3" fill="none" stroke="#a3cdea" stroke-width="13.80" stroke-linecap="round" stroke-linejoin="round"/>
<path d="M357.0,100.0 C356.0,101.2 352.9,104.5 351.0,107.0 C349.1,109.5 346.2,113.4 345.3,114.7" fill="none" stroke="#a3cdea" stroke-width="13.80" stroke-linecap="round" stroke-linejoin="round"/>
<path d="M434.5,102.0 C434.5,98.7 434.7,87.7 434.3,82.0 C433.9,76.3 433.2,71.8 432.0,68.0 C430.8,64.2 428.9,61.6 427.0,59.5 C425.1,57.4 421.6,56.2 420.5,55.5" fill="none" stroke="#a3cdea" stroke-width="15.60" stroke-linecap="round" stroke-linejoin="round"/>
<path d="M420.5,55.5 C417.6,55.1 408.5,53.3 403.4,52.9 C398.3,52.5 393.5,53.0 390.0,53.0 C386.5,53.0 383.7,53.0 382.4,53.0" fill="none" stroke="#a3cdea" stroke-width="13.80" stroke-linecap="round" stroke-linejoin="round"/>
<path d="M382.4,53.0 C381.0,52.3 377.4,50.8 374.0,49.0 C370.6,47.2 364.1,43.2 362.1,42.0" fill="none" stroke="#a3cdea" stroke-width="13.80" stroke-linecap="round" stroke-linejoin="round"/>
<path d="M383.0,54.0 C382.2,55.7 380.4,60.6 378.0,64.0 C375.6,67.4 369.9,72.8 368.3,74.5" fill="none" stroke="#a3cdea" stroke-width="13.80" stroke-linecap="round" stroke-linejoin="round"/>
<path d="M400.3,52.5 C400.1,51.1 399.4,47.0 399.0,44.0 C398.6,41.0 398.2,36.1 398.0,34.5" fill="none" stroke="#a3cdea" stroke-width="13.80" stroke-linecap="round" stroke-linejoin="round"/>
<path d="M422.5,54.5 C422.8,53.1 423.5,48.8 424.0,46.0 C424.5,43.2 425.1,39.2 425.3,37.9" fill="none" stroke="#a3cdea" stroke-width="13.80" stroke-linecap="round" stroke-linejoin="round"/>
<path d="M467.5,98.0 C467.4,96.3 467.3,91.3 467.0,88.0 C466.7,84.7 465.8,80.0 465.5,78.4" fill="none" stroke="#a3cdea" stroke-width="13.80" stroke-linecap="round" stroke-linejoin="round"/>
<path d="M434.0,106.0 C433.7,108.7 432.6,117.3 432.0,122.0 C431.4,126.7 430.6,132.0 430.3,134.0" fill="none" stroke="#a3cdea" stroke-width="14.40" stroke-linecap="round" stroke-linejoin="round"/>
<path d="M430.0,133.0 C427.0,132.8 418.5,132.5 412.0,132.0 C405.5,131.5 394.5,130.3 391.0,130.0" fill="none" stroke="#a3cdea" stroke-width="13.80" stroke-linecap="round" stroke-linejoin="round"/>
<path d="M429.0,135.0 C426.8,136.8 420.3,142.0 416.0,146.0 C411.7,150.0 405.2,156.9 403.0,159.1" fill="none" stroke="#a3cdea" stroke-width="13.80" stroke-linecap="round" stroke-linejoin="round"/>
<path d="M431.0,135.0 C431.7,136.2 433.8,139.8 435.0,142.0 C436.2,144.2 437.6,147.2 438.1,148.2" fill="none" stroke="#a3cdea" stroke-width="13.80" stroke-linecap="round" stroke-linejoin="round"/>
<circle cx="362.1" cy="42.0" r="12.40" fill="#a3cdea"/>
<circle cx="398.0" cy="34.2" r="12.40" fill="#a3cdea"/>
<circle cx="425.3" cy="37.9" r="12.40" fill="#a3cdea"/>
<circle cx="343.4" cy="67.0" r="12.40" fill="#a3cdea"/>
<circle cx="368.3" cy="74.5" r="12.40" fill="#a3cdea"/>
<circle cx="320.9" cy="87.3" r="12.40" fill="#a3cdea"/>
<circle cx="345.3" cy="114.7" r="12.40" fill="#a3cdea"/>
<circle cx="465.5" cy="78.4" r="12.40" fill="#a3cdea"/>
<circle cx="391.0" cy="130.0" r="12.40" fill="#a3cdea"/>
<circle cx="403.0" cy="159.1" r="12.40" fill="#a3cdea"/>
<circle cx="438.1" cy="148.2" r="12.40" fill="#a3cdea"/>
</g>
<g filter="url(#goo)">
<path d="M520.0,105.6 C511.7,105.5 483.0,105.4 470.0,105.3 C457.0,105.2 446.7,105.0 442.0,105.0" fill="none" stroke="#8a74b3" stroke-width="21.20" stroke-linecap="round" stroke-linejoin="round"/>
<path d="M442.0,105.0 C441.0,105.0 438.0,104.9 436.0,104.8 C434.0,104.7 431.0,104.3 430.0,104.2" fill="none" stroke="#8a74b3" stroke-width="15.80" stroke-linecap="round" stroke-linejoin="round"/>
<path d="M434.0,104.3 C430.0,104.1 418.2,103.5 410.0,103.2 C401.8,102.9 393.8,102.9 385.0,102.3 C376.2,101.7 361.7,100.2 357.0,99.8" fill="none" stroke="#8a74b3" stroke-width="10.60" stroke-linecap="round" stroke-linejoin="round"/>
<path d="M357.0,99.8 C356.3,97.3 355.0,90.5 352.7,85.0 C350.4,79.5 344.9,70.0 343.4,67.0" fill="none" stroke="#8a74b3" stroke-width="10.60" stroke-linecap="round" stroke-linejoin="round"/>
<path d="M357.0,99.8 C354.2,98.7 346.0,95.1 340.0,93.0 C334.0,90.9 324.1,88.2 320.9,87.3" fill="none" stroke="#8a74b3" stroke-width="10.60" stroke-linecap="round" stroke-linejoin="round"/>
<path d="M357.0,100.0 C356.0,101.2 352.9,104.5 351.0,107.0 C349.1,109.5 346.2,113.4 345.3,114.7" fill="none" stroke="#8a74b3" stroke-width="10.60" stroke-linecap="round" stroke-linejoin="round"/>
<path d="M434.5,102.0 C434.5,98.7 434.7,87.7 434.3,82.0 C433.9,76.3 433.2,71.8 432.0,68.0 C430.8,64.2 428.9,61.6 427.0,59.5 C425.1,57.4 421.6,56.2 420.5,55.5" fill="none" stroke="#8a74b3" stroke-width="12.40" stroke-linecap="round" stroke-linejoin="round"/>
<path d="M420.5,55.5 C417.6,55.1 408.5,53.3 403.4,52.9 C398.3,52.5 393.5,53.0 390.0,53.0 C386.5,53.0 383.7,53.0 382.4,53.0" fill="none" stroke="#8a74b3" stroke-width="10.60" stroke-linecap="round" stroke-linejoin="round"/>
<path d="M382.4,53.0 C381.0,52.3 377.4,50.8 374.0,49.0 C370.6,47.2 364.1,43.2 362.1,42.0" fill="none" stroke="#8a74b3" stroke-width="10.60" stroke-linecap="round" stroke-linejoin="round"/>
<path d="M383.0,54.0 C382.2,55.7 380.4,60.6 378.0,64.0 C375.6,67.4 369.9,72.8 368.3,74.5" fill="none" stroke="#8a74b3" stroke-width="10.60" stroke-linecap="round" stroke-linejoin="round"/>
<path d="M400.3,52.5 C400.1,51.1 399.4,47.0 399.0,44.0 C398.6,41.0 398.2,36.1 398.0,34.5" fill="none" stroke="#8a74b3" stroke-width="10.60" stroke-linecap="round" stroke-linejoin="round"/>
<path d="M422.5,54.5 C422.8,53.1 423.5,48.8 424.0,46.0 C424.5,43.2 425.1,39.2 425.3,37.9" fill="none" stroke="#8a74b3" stroke-width="10.60" stroke-linecap="round" stroke-linejoin="round"/>
<path d="M467.5,98.0 C467.4,96.3 467.3,91.3 467.0,88.0 C466.7,84.7 465.8,80.0 465.5,78.4" fill="none" stroke="#8a74b3" stroke-width="10.60" stroke-linecap="round" stroke-linejoin="round"/>
<path d="M434.0,106.0 C433.7,108.7 432.6,117.3 432.0,122.0 C431.4,126.7 430.6,132.0 430.3,134.0" fill="none" stroke="#8a74b3" stroke-width="11.20" stroke-linecap="round" stroke-linejoin="round"/>
<path d="M430.0,133.0 C427.0,132.8 418.5,132.5 412.0,132.0 C405.5,131.5 394.5,130.3 391.0,130.0" fill="none" stroke="#8a74b3" stroke-width="10.60" stroke-linecap="round" stroke-linejoin="round"/>
<path d="M429.0,135.0 C426.8,136.8 420.3,142.0 416.0,146.0 C411.7,150.0 405.2,156.9 403.0,159.1" fill="none" stroke="#8a74b3" stroke-width="10.60" stroke-linecap="round" stroke-linejoin="round"/>
<path d="M431.0,135.0 C431.7,136.2 433.8,139.8 435.0,142.0 C436.2,144.2 437.6,147.2 438.1,148.2" fill="none" stroke="#8a74b3" stroke-width="10.60" stroke-linecap="round" stroke-linejoin="round"/>
<circle cx="362.1" cy="42.0" r="10.80" fill="#8a74b3"/>
<circle cx="398.0" cy="34.2" r="10.80" fill="#8a74b3"/>
<circle cx="425.3" cy="37.9" r="10.80" fill="#8a74b3"/>
<circle cx="343.4" cy="67.0" r="10.80" fill="#8a74b3"/>
<circle cx="368.3" cy="74.5" r="10.80" fill="#8a74b3"/>
<circle cx="320.9" cy="87.3" r="10.80" fill="#8a74b3"/>
<circle cx="345.3" cy="114.7" r="10.80" fill="#8a74b3"/>
<circle cx="465.5" cy="78.4" r="10.80" fill="#8a74b3"/>
<circle cx="391.0" cy="130.0" r="10.80" fill="#8a74b3"/>
<circle cx="403.0" cy="159.1" r="10.80" fill="#8a74b3"/>
<circle cx="438.1" cy="148.2" r="10.80" fill="#8a74b3"/>
</g>
<path d="M520.1,95.6 L516.0,95.6 L510.6,95.5 L504.0,95.5 L496.8,95.5 L489.4,95.4 L482.2,95.4 L475.6,95.3 L470.1,95.3 L465.3,95.3 L460.9,95.2 L456.8,95.2 L453.0,95.1 L449.6,95.1 L446.6,95.1 L444.1,95.0 L442.1,95.0" fill="none" stroke="#5d4893" stroke-width="1.1" stroke-dasharray="1.6 7.4"/>
<path d="M519.9,115.6 L515.9,115.6 L510.4,115.5 L503.9,115.5 L496.7,115.5 L489.3,115.4 L482.1,115.4 L475.5,115.3 L469.9,115.3 L465.2,115.3 L460.7,115.2 L456.5,115.2 L452.8,115.1 L449.4,115.1 L446.4,115.1 L443.9,115.0 L441.9,115.0" fill="none" stroke="#5d4893" stroke-width="1.1" stroke-dasharray="1.6 7.4"/>
<path d="M442.2,97.7 L441.7,97.7 L441.1,97.7 L440.4,97.7 L439.6,97.6 L438.7,97.6 L437.9,97.6 L437.2,97.6 L436.5,97.5 L435.8,97.5 L435.0,97.4 L434.2,97.3 L433.4,97.2 L432.6,97.1 L431.9,97.1 L431.3,97.0 L430.8,96.9" fill="none" stroke="#5d4893" stroke-width="1.1" stroke-dasharray="1.6 7.4"/>
<path d="M441.8,112.3 L441.4,112.3 L440.8,112.3 L440.0,112.3 L439.2,112.2 L438.3,112.2 L437.4,112.2 L436.4,112.1 L435.5,112.1 L434.6,112.0 L433.7,111.9 L432.7,111.8 L431.8,111.7 L431.0,111.7 L430.3,111.6 L429.7,111.5 L429.2,111.5" fill="none" stroke="#5d4893" stroke-width="1.1" stroke-dasharray="1.6 7.4"/>
<path d="M434.2,99.6 L432.4,99.5 L429.9,99.4 L427.0,99.3 L423.8,99.1 L420.3,99.0 L416.8,98.8 L413.4,98.6 L410.2,98.5 L407.1,98.4 L404.0,98.3 L401.0,98.2 L397.9,98.1 L394.8,98.0 L391.7,97.9 L388.5,97.8 L385.3,97.6 L381.8,97.4 L378.0,97.0 L373.9,96.7 L369.9,96.3 L366.0,95.9 L362.6,95.6 L359.6,95.3 L357.4,95.1" fill="none" stroke="#5d4893" stroke-width="1.1" stroke-dasharray="1.6 7.4"/>
<path d="M433.8,109.0 L431.9,108.9 L429.5,108.8 L426.6,108.7 L423.3,108.5 L419.9,108.3 L416.4,108.2 L413.0,108.0 L409.8,107.9 L406.8,107.8 L403.8,107.7 L400.7,107.6 L397.6,107.5 L394.5,107.4 L391.3,107.3 L388.0,107.2 L384.7,107.0 L381.1,106.7 L377.2,106.4 L373.1,106.1 L369.0,105.7 L365.1,105.3 L361.6,105.0 L358.7,104.7 L356.6,104.5" fill="none" stroke="#5d4893" stroke-width="1.1" stroke-dasharray="1.6 7.4"/>
<path d="M361.5,98.6 L361.3,97.5 L360.9,96.1 L360.5,94.3 L360.0,92.3 L359.4,90.2 L358.7,87.9 L357.9,85.5 L357.0,83.2 L356.0,80.8 L354.7,78.2 L353.3,75.5 L351.9,72.9 L350.6,70.3 L349.3,68.1 L348.3,66.2 L347.5,64.8" fill="none" stroke="#5d4893" stroke-width="1.1" stroke-dasharray="1.6 7.4"/>
<path d="M352.5,101.0 L352.1,99.8 L351.8,98.3 L351.4,96.6 L350.9,94.7 L350.3,92.7 L349.7,90.7 L349.1,88.7 L348.4,86.8 L347.5,84.8 L346.3,82.4 L345.0,79.9 L343.6,77.3 L342.3,74.8 L341.1,72.6 L340.0,70.6 L339.3,69.2" fill="none" stroke="#5d4893" stroke-width="1.1" stroke-dasharray="1.6 7.4"/>
<path d="M358.8,95.5 L357.5,94.9 L355.8,94.2 L353.8,93.4 L351.5,92.4 L349.0,91.4 L346.5,90.4 L344.0,89.4 L341.5,88.6 L339.0,87.7 L336.3,86.9 L333.5,86.0 L330.7,85.2 L328.0,84.5 L325.7,83.8 L323.7,83.2 L322.2,82.8" fill="none" stroke="#5d4893" stroke-width="1.1" stroke-dasharray="1.6 7.4"/>
<path d="M355.2,104.1 L353.9,103.6 L352.2,102.9 L350.2,102.0 L347.9,101.1 L345.5,100.1 L343.1,99.2 L340.7,98.2 L338.5,97.4 L336.1,96.7 L333.5,95.9 L330.8,95.0 L328.1,94.2 L325.5,93.5 L323.1,92.8 L321.1,92.3 L319.6,91.8" fill="none" stroke="#5d4893" stroke-width="1.1" stroke-dasharray="1.6 7.4"/>
<path d="M353.5,96.9 L353.0,97.4 L352.4,98.1 L351.6,99.0 L350.8,99.9 L349.9,101.0 L349.0,102.0 L348.2,103.1 L347.3,104.1 L346.5,105.1 L345.7,106.2 L344.8,107.4 L344.0,108.5 L343.2,109.6 L342.5,110.5 L341.9,111.3 L341.5,111.9" fill="none" stroke="#5d4893" stroke-width="1.1" stroke-dasharray="1.6 7.4"/>
<path d="M360.5,103.1 L360.1,103.6 L359.4,104.3 L358.7,105.2 L357.9,106.1 L357.1,107.1 L356.2,108.1 L355.4,109.0 L354.7,109.9 L354.0,110.8 L353.2,111.9 L352.4,113.0 L351.6,114.1 L350.8,115.1 L350.1,116.1 L349.5,116.9 L349.1,117.5" fill="none" stroke="#5d4893" stroke-width="1.1" stroke-dasharray="1.6 7.4"/>
<path d="M440.1,102.0 L440.1,100.4 L440.1,98.3 L440.1,95.7 L440.1,92.9 L440.1,89.9 L440.1,86.9 L440.0,84.1 L439.9,81.6 L439.7,79.4 L439.5,77.3 L439.3,75.3 L439.0,73.4 L438.7,71.5 L438.3,69.7 L437.8,68.0 L437.3,66.3 L436.7,64.6 L436.1,63.0 L435.3,61.6 L434.5,60.2 L433.7,58.9 L432.9,57.8 L432.0,56.7 L431.0,55.6 L429.8,54.5 L428.5,53.5 L427.2,52.7 L426.1,52.0 L425.0,51.5 L424.1,51.1 L423.6,50.8 L423.2,50.6" fill="none" stroke="#5d4893" stroke-width="1.1" stroke-dasharray="1.6 7.4"/>
<path d="M428.9,102.0 L428.9,100.4 L428.9,98.2 L428.9,95.7 L428.9,92.9 L428.9,90.0 L428.9,87.2 L428.8,84.6 L428.7,82.4 L428.6,80.4 L428.4,78.6 L428.2,76.8 L427.9,75.2 L427.7,73.6 L427.4,72.2 L427.0,70.9 L426.7,69.7 L426.3,68.7 L425.9,67.7 L425.5,66.9 L425.0,66.1 L424.5,65.3 L424.0,64.6 L423.4,63.9 L423.0,63.4 L422.6,63.0 L422.1,62.7 L421.5,62.3 L420.8,61.9 L420.1,61.5 L419.3,61.2 L418.5,60.8 L417.8,60.4" fill="none" stroke="#5d4893" stroke-width="1.1" stroke-dasharray="1.6 7.4"/>
<path d="M421.3,50.9 L419.9,50.6 L418.1,50.3 L416.0,50.0 L413.6,49.6 L411.0,49.1 L408.5,48.8 L406.0,48.4 L403.8,48.2 L401.7,48.1 L399.7,48.0 L397.8,48.0 L396.0,48.1 L394.2,48.2 L392.7,48.2 L391.2,48.3 L389.9,48.3 L388.7,48.3 L387.5,48.3 L386.4,48.3 L385.4,48.3 L384.4,48.3 L383.6,48.3 L383.0,48.3 L382.4,48.3" fill="none" stroke="#5d4893" stroke-width="1.1" stroke-dasharray="1.6 7.4"/>
<path d="M419.7,60.1 L418.4,59.9 L416.5,59.6 L414.4,59.2 L412.0,58.8 L409.6,58.4 L407.2,58.1 L404.9,57.8 L403.0,57.6 L401.3,57.5 L399.6,57.4 L397.9,57.4 L396.3,57.5 L394.6,57.5 L393.0,57.6 L391.5,57.7 L390.1,57.7 L388.7,57.7 L387.5,57.7 L386.4,57.7 L385.4,57.7 L384.4,57.7 L383.6,57.7 L382.9,57.7 L382.4,57.7" fill="none" stroke="#5d4893" stroke-width="1.1" stroke-dasharray="1.6 7.4"/>
<path d="M384.4,48.7 L383.7,48.4 L382.9,48.1 L381.9,47.6 L380.9,47.2 L379.8,46.6 L378.6,46.1 L377.4,45.5 L376.2,44.9 L374.9,44.1 L373.4,43.2 L371.7,42.2 L369.9,41.2 L368.3,40.2 L366.7,39.3 L365.5,38.5 L364.5,38.0" fill="none" stroke="#5d4893" stroke-width="1.1" stroke-dasharray="1.6 7.4"/>
<path d="M380.4,57.3 L379.8,57.0 L379.1,56.6 L378.1,56.2 L377.0,55.7 L375.8,55.1 L374.5,54.5 L373.1,53.9 L371.8,53.1 L370.3,52.3 L368.6,51.4 L366.9,50.3 L365.1,49.3 L363.4,48.3 L361.9,47.4 L360.6,46.6 L359.7,46.0" fill="none" stroke="#5d4893" stroke-width="1.1" stroke-dasharray="1.6 7.4"/>
<path d="M378.7,52.0 L378.3,52.9 L377.9,53.9 L377.4,55.1 L376.8,56.4 L376.2,57.7 L375.6,59.0 L374.9,60.2 L374.2,61.3 L373.3,62.4 L372.2,63.7 L370.8,65.2 L369.5,66.6 L368.1,68.0 L366.8,69.3 L365.7,70.4 L364.9,71.2" fill="none" stroke="#5d4893" stroke-width="1.1" stroke-dasharray="1.6 7.4"/>
<path d="M387.3,56.0 L386.9,56.7 L386.5,57.6 L386.0,58.9 L385.4,60.3 L384.7,61.8 L383.8,63.5 L382.9,65.1 L381.8,66.7 L380.6,68.3 L379.2,70.0 L377.7,71.6 L376.2,73.1 L374.8,74.6 L373.5,75.9 L372.4,77.0 L371.7,77.8" fill="none" stroke="#5d4893" stroke-width="1.1" stroke-dasharray="1.6 7.4"/>
<path d="M404.9,51.8 L404.8,51.1 L404.7,50.2 L404.5,49.2 L404.4,48.1 L404.2,46.9 L404.0,45.7 L403.8,44.5 L403.7,43.4 L403.5,42.3 L403.4,41.0 L403.2,39.6 L403.1,38.2 L403.0,36.9 L402.9,35.8 L402.8,34.8 L402.7,34.0" fill="none" stroke="#5d4893" stroke-width="1.1" stroke-dasharray="1.6 7.4"/>
<path d="M395.7,53.2 L395.6,52.6 L395.4,51.7 L395.3,50.7 L395.1,49.6 L394.9,48.4 L394.7,47.1 L394.5,45.8 L394.3,44.6 L394.2,43.3 L394.0,42.0 L393.9,40.6 L393.7,39.2 L393.6,37.9 L393.5,36.7 L393.4,35.7 L393.3,35.0" fill="none" stroke="#5d4893" stroke-width="1.1" stroke-dasharray="1.6 7.4"/>
<path d="M427.1,55.3 L427.2,54.7 L427.4,53.8 L427.6,52.7 L427.8,51.6 L428.0,50.4 L428.2,49.1 L428.4,47.9 L428.6,46.8 L428.8,45.7 L429.0,44.5 L429.2,43.3 L429.4,42.2 L429.6,41.1 L429.7,40.1 L429.8,39.3 L429.9,38.6" fill="none" stroke="#5d4893" stroke-width="1.1" stroke-dasharray="1.6 7.4"/>
<path d="M417.9,53.7 L418.0,53.0 L418.1,52.1 L418.3,51.1 L418.5,49.9 L418.8,48.7 L419.0,47.5 L419.2,46.3 L419.4,45.2 L419.5,44.1 L419.7,43.0 L419.9,41.8 L420.1,40.7 L420.3,39.6 L420.4,38.6 L420.6,37.8 L420.7,37.2" fill="none" stroke="#5d4893" stroke-width="1.1" stroke-dasharray="1.6 7.4"/>
<path d="M472.2,97.8 L472.2,97.1 L472.1,96.0 L472.1,94.8 L472.0,93.4 L472.0,91.9 L471.9,90.4 L471.8,88.9 L471.7,87.5 L471.5,86.1 L471.3,84.7 L471.1,83.2 L470.9,81.8 L470.6,80.5 L470.4,79.3 L470.3,78.3 L470.1,77.6" fill="none" stroke="#5d4893" stroke-width="1.1" stroke-dasharray="1.6 7.4"/>
<path d="M462.8,98.2 L462.8,97.4 L462.7,96.3 L462.7,95.1 L462.6,93.8 L462.6,92.4 L462.5,91.0 L462.4,89.7 L462.3,88.5 L462.2,87.3 L462.0,86.0 L461.8,84.7 L461.6,83.4 L461.4,82.1 L461.2,80.9 L461.0,79.9 L460.9,79.2" fill="none" stroke="#5d4893" stroke-width="1.1" stroke-dasharray="1.6 7.4"/>
<path d="M429.0,105.4 L428.9,106.6 L428.7,108.4 L428.4,110.4 L428.1,112.6 L427.9,115.0 L427.6,117.3 L427.3,119.4 L427.0,121.3 L426.8,123.1 L426.6,124.9 L426.3,126.6 L426.1,128.3 L425.9,129.8 L425.7,131.2 L425.5,132.4 L425.4,133.3" fill="none" stroke="#5d4893" stroke-width="1.1" stroke-dasharray="1.6 7.4"/>
<path d="M439.0,106.6 L438.8,107.9 L438.6,109.6 L438.3,111.6 L438.1,113.9 L437.8,116.2 L437.5,118.5 L437.2,120.7 L437.0,122.7 L436.7,124.4 L436.5,126.3 L436.2,128.0 L436.0,129.7 L435.7,131.3 L435.5,132.7 L435.4,133.8 L435.2,134.7" fill="none" stroke="#5d4893" stroke-width="1.1" stroke-dasharray="1.6 7.4"/>
<path d="M430.2,128.3 L428.9,128.2 L427.1,128.1 L424.9,128.0 L422.6,127.9 L420.0,127.8 L417.4,127.7 L414.8,127.5 L412.4,127.3 L409.8,127.1 L406.9,126.8 L403.9,126.6 L400.8,126.3 L397.9,126.0 L395.3,125.7 L393.1,125.5 L391.5,125.3" fill="none" stroke="#5d4893" stroke-width="1.1" stroke-dasharray="1.6 7.4"/>
<path d="M429.8,137.7 L428.4,137.6 L426.6,137.5 L424.5,137.4 L422.1,137.3 L419.5,137.2 L416.9,137.0 L414.2,136.9 L411.6,136.7 L409.0,136.5 L406.0,136.2 L403.0,135.9 L399.9,135.6 L397.0,135.3 L394.4,135.1 L392.2,134.8 L390.5,134.7" fill="none" stroke="#5d4893" stroke-width="1.1" stroke-dasharray="1.6 7.4"/>
<path d="M426.0,131.4 L425.0,132.2 L423.7,133.3 L422.1,134.6 L420.3,136.1 L418.4,137.6 L416.5,139.3 L414.6,140.9 L412.8,142.6 L411.0,144.2 L409.1,146.1 L407.2,148.0 L405.3,150.0 L403.5,151.8 L402.0,153.4 L400.6,154.8 L399.6,155.8" fill="none" stroke="#5d4893" stroke-width="1.1" stroke-dasharray="1.6 7.4"/>
<path d="M432.0,138.6 L431.0,139.5 L429.6,140.6 L428.1,141.9 L426.3,143.3 L424.5,144.8 L422.6,146.4 L420.8,148.0 L419.2,149.4 L417.6,151.0 L415.8,152.8 L413.9,154.6 L412.1,156.5 L410.3,158.3 L408.7,160.0 L407.4,161.4 L406.4,162.4" fill="none" stroke="#5d4893" stroke-width="1.1" stroke-dasharray="1.6 7.4"/>
<path d="M426.9,137.3 L427.2,137.9 L427.7,138.6 L428.2,139.5 L428.7,140.5 L429.3,141.5 L429.9,142.5 L430.4,143.4 L430.9,144.2 L431.3,145.0 L431.7,145.9 L432.2,146.8 L432.6,147.6 L433.0,148.4 L433.3,149.2 L433.6,149.8 L433.9,150.3" fill="none" stroke="#5d4893" stroke-width="1.1" stroke-dasharray="1.6 7.4"/>
<path d="M435.1,132.7 L435.4,133.2 L435.8,133.9 L436.3,134.8 L436.9,135.8 L437.5,136.8 L438.1,137.8 L438.6,138.8 L439.1,139.8 L439.6,140.7 L440.1,141.6 L440.6,142.6 L441.0,143.5 L441.4,144.3 L441.8,145.0 L442.1,145.7 L442.3,146.1" fill="none" stroke="#5d4893" stroke-width="1.1" stroke-dasharray="1.6 7.4"/>
<circle cx="362.1" cy="42.0" r="10.20" fill="none" stroke="#5d4893" stroke-width="1.1" stroke-dasharray="1.6 7.4"/>
<circle cx="398.0" cy="34.2" r="10.20" fill="none" stroke="#5d4893" stroke-width="1.1" stroke-dasharray="1.6 7.4"/>
<circle cx="425.3" cy="37.9" r="10.20" fill="none" stroke="#5d4893" stroke-width="1.1" stroke-dasharray="1.6 7.4"/>
<circle cx="343.4" cy="67.0" r="10.20" fill="none" stroke="#5d4893" stroke-width="1.1" stroke-dasharray="1.6 7.4"/>
<circle cx="368.3" cy="74.5" r="10.20" fill="none" stroke="#5d4893" stroke-width="1.1" stroke-dasharray="1.6 7.4"/>
<circle cx="320.9" cy="87.3" r="10.20" fill="none" stroke="#5d4893" stroke-width="1.1" stroke-dasharray="1.6 7.4"/>
<circle cx="345.3" cy="114.7" r="10.20" fill="none" stroke="#5d4893" stroke-width="1.1" stroke-dasharray="1.6 7.4"/>
<circle cx="465.5" cy="78.4" r="10.20" fill="none" stroke="#5d4893" stroke-width="1.1" stroke-dasharray="1.6 7.4"/>
<circle cx="391.0" cy="130.0" r="10.20" fill="none" stroke="#5d4893" stroke-width="1.1" stroke-dasharray="1.6 7.4"/>
<circle cx="403.0" cy="159.1" r="10.20" fill="none" stroke="#5d4893" stroke-width="1.1" stroke-dasharray="1.6 7.4"/>
<circle cx="438.1" cy="148.2" r="10.20" fill="none" stroke="#5d4893" stroke-width="1.1" stroke-dasharray="1.6 7.4"/>
<g filter="url(#goo)">
<path d="M520.0,105.6 C511.7,105.5 483.0,105.4 470.0,105.3 C457.0,105.2 446.7,105.0 442.0,105.0" fill="none" stroke="#fbe6e8" stroke-width="18.80" stroke-linecap="round" stroke-linejoin="round"/>
<path d="M442.0,105.0 C441.0,105.0 438.0,104.9 436.0,104.8 C434.0,104.7 431.0,104.3 430.0,104.2" fill="none" stroke="#fbe6e8" stroke-width="13.40" stroke-linecap="round" stroke-linejoin="round"/>
<path d="M434.0,104.3 C430.0,104.1 418.2,103.5 410.0,103.2 C401.8,102.9 393.8,102.9 385.0,102.3 C376.2,101.7 361.7,100.2 357.0,99.8" fill="none" stroke="#fbe6e8" stroke-width="8.20" stroke-linecap="round" stroke-linejoin="round"/>
<path d="M357.0,99.8 C356.3,97.3 355.0,90.5 352.7,85.0 C350.4,79.5 344.9,70.0 343.4,67.0" fill="none" stroke="#fbe6e8" stroke-width="8.20" stroke-linecap="round" stroke-linejoin="round"/>
<path d="M357.0,99.8 C354.2,98.7 346.0,95.1 340.0,93.0 C334.0,90.9 324.1,88.2 320.9,87.3" fill="none" stroke="#fbe6e8" stroke-width="8.20" stroke-linecap="round" stroke-linejoin="round"/>
<path d="M357.0,100.0 C356.0,101.2 352.9,104.5 351.0,107.0 C349.1,109.5 346.2,113.4 345.3,114.7" fill="none" stroke="#fbe6e8" stroke-width="8.20" stroke-linecap="round" stroke-linejoin="round"/>
<path d="M434.5,102.0 C434.5,98.7 434.7,87.7 434.3,82.0 C433.9,76.3 433.2,71.8 432.0,68.0 C430.8,64.2 428.9,61.6 427.0,59.5 C425.1,57.4 421.6,56.2 420.5,55.5" fill="none" stroke="#fbe6e8" stroke-width="10.00" stroke-linecap="round" stroke-linejoin="round"/>
<path d="M420.5,55.5 C417.6,55.1 408.5,53.3 403.4,52.9 C398.3,52.5 393.5,53.0 390.0,53.0 C386.5,53.0 383.7,53.0 382.4,53.0" fill="none" stroke="#fbe6e8" stroke-width="8.20" stroke-linecap="round" stroke-linejoin="round"/>
<path d="M382.4,53.0 C381.0,52.3 377.4,50.8 374.0,49.0 C370.6,47.2 364.1,43.2 362.1,42.0" fill="none" stroke="#fbe6e8" stroke-width="8.20" stroke-linecap="round" stroke-linejoin="round"/>
<path d="M383.0,54.0 C382.2,55.7 380.4,60.6 378.0,64.0 C375.6,67.4 369.9,72.8 368.3,74.5" fill="none" stroke="#fbe6e8" stroke-width="8.20" stroke-linecap="round" stroke-linejoin="round"/>
<path d="M400.3,52.5 C400.1,51.1 399.4,47.0 399.0,44.0 C398.6,41.0 398.2,36.1 398.0,34.5" fill="none" stroke="#fbe6e8" stroke-width="8.20" stroke-linecap="round" stroke-linejoin="round"/>
<path d="M422.5,54.5 C422.8,53.1 423.5,48.8 424.0,46.0 C424.5,43.2 425.1,39.2 425.3,37.9" fill="none" stroke="#fbe6e8" stroke-width="8.20" stroke-linecap="round" stroke-linejoin="round"/>
<path d="M467.5,98.0 C467.4,96.3 467.3,91.3 467.0,88.0 C466.7,84.7 465.8,80.0 465.5,78.4" fill="none" stroke="#fbe6e8" stroke-width="8.20" stroke-linecap="round" stroke-linejoin="round"/>
<path d="M434.0,106.0 C433.7,108.7 432.6,117.3 432.0,122.0 C431.4,126.7 430.6,132.0 430.3,134.0" fill="none" stroke="#fbe6e8" stroke-width="8.80" stroke-linecap="round" stroke-linejoin="round"/>
<path d="M430.0,133.0 C427.0,132.8 418.5,132.5 412.0,132.0 C405.5,131.5 394.5,130.3 391.0,130.0" fill="none" stroke="#fbe6e8" stroke-width="8.20" stroke-linecap="round" stroke-linejoin="round"/>
<path d="M429.0,135.0 C426.8,136.8 420.3,142.0 416.0,146.0 C411.7,150.0 405.2,156.9 403.0,159.1" fill="none" stroke="#fbe6e8" stroke-width="8.20" stroke-linecap="round" stroke-linejoin="round"/>
<path d="M431.0,135.0 C431.7,136.2 433.8,139.8 435.0,142.0 C436.2,144.2 437.6,147.2 438.1,148.2" fill="none" stroke="#fbe6e8" stroke-width="8.20" stroke-linecap="round" stroke-linejoin="round"/>
<circle cx="362.1" cy="42.0" r="9.60" fill="#fbe6e8"/>
<circle cx="398.0" cy="34.2" r="9.60" fill="#fbe6e8"/>
<circle cx="425.3" cy="37.9" r="9.60" fill="#fbe6e8"/>
<circle cx="343.4" cy="67.0" r="9.60" fill="#fbe6e8"/>
<circle cx="368.3" cy="74.5" r="9.60" fill="#fbe6e8"/>
<circle cx="320.9" cy="87.3" r="9.60" fill="#fbe6e8"/>
<circle cx="345.3" cy="114.7" r="9.60" fill="#fbe6e8"/>
<circle cx="465.5" cy="78.4" r="9.60" fill="#fbe6e8"/>
<circle cx="391.0" cy="130.0" r="9.60" fill="#fbe6e8"/>
<circle cx="403.0" cy="159.1" r="9.60" fill="#fbe6e8"/>
<circle cx="438.1" cy="148.2" r="9.60" fill="#fbe6e8"/>
</g>
<path d="M520.0,97.5 L516.0,97.4 L510.5,97.4 L504.0,97.4 L496.8,97.3 L489.4,97.3 L482.2,97.2 L475.6,97.2 L470.1,97.2 L465.3,97.1 L460.9,97.1 L456.7,97.0 L453.0,97.0 L449.6,96.9 L446.6,96.9 L444.1,96.9 L442.1,96.9" fill="none" stroke="#d85f6e" stroke-width="1.9" stroke-linecap="round" stroke-dasharray="0.01 2.6"/>
<path d="M520.0,113.7 L515.9,113.7 L510.5,113.7 L503.9,113.7 L496.7,113.6 L489.3,113.6 L482.1,113.5 L475.5,113.5 L469.9,113.4 L465.2,113.4 L460.7,113.4 L456.6,113.3 L452.8,113.3 L449.4,113.2 L446.4,113.2 L443.9,113.2 L441.9,113.1" fill="none" stroke="#d85f6e" stroke-width="1.9" stroke-linecap="round" stroke-dasharray="0.01 2.6"/>
<path d="M442.1,99.6 L441.7,99.5 L441.0,99.5 L440.3,99.5 L439.5,99.5 L438.7,99.5 L437.9,99.4 L437.1,99.4 L436.4,99.4 L435.7,99.3 L434.9,99.2 L434.0,99.2 L433.2,99.1 L432.4,99.0 L431.7,98.9 L431.1,98.8 L430.6,98.8" fill="none" stroke="#d85f6e" stroke-width="1.9" stroke-linecap="round" stroke-dasharray="0.01 2.6"/>
<path d="M441.9,110.4 L441.4,110.4 L440.8,110.4 L440.1,110.4 L439.2,110.4 L438.3,110.4 L437.4,110.3 L436.5,110.3 L435.6,110.2 L434.8,110.2 L433.8,110.1 L432.9,110.0 L432.0,109.9 L431.2,109.8 L430.5,109.7 L429.9,109.7 L429.4,109.6" fill="none" stroke="#d85f6e" stroke-width="1.9" stroke-linecap="round" stroke-dasharray="0.01 2.6"/>
<path d="M434.1,101.5 L432.3,101.4 L429.8,101.3 L426.9,101.1 L423.7,101.0 L420.3,100.8 L416.8,100.6 L413.3,100.5 L410.1,100.4 L407.0,100.2 L404.0,100.1 L400.9,100.1 L397.8,100.0 L394.7,99.9 L391.6,99.8 L388.4,99.6 L385.2,99.5 L381.7,99.2 L377.8,98.9 L373.7,98.5 L369.7,98.2 L365.9,97.8 L362.4,97.5 L359.5,97.2 L357.3,97.0" fill="none" stroke="#d85f6e" stroke-width="1.9" stroke-linecap="round" stroke-dasharray="0.01 2.6"/>
<path d="M433.9,107.1 L432.0,107.1 L429.6,106.9 L426.7,106.8 L423.4,106.7 L420.0,106.5 L416.5,106.3 L413.1,106.2 L409.9,106.0 L406.8,105.9 L403.8,105.8 L400.8,105.8 L397.7,105.7 L394.5,105.6 L391.4,105.5 L388.1,105.3 L384.8,105.1 L381.2,104.9 L377.3,104.6 L373.2,104.2 L369.2,103.8 L365.3,103.5 L361.8,103.1 L358.9,102.8 L356.7,102.6" fill="none" stroke="#d85f6e" stroke-width="1.9" stroke-linecap="round" stroke-dasharray="0.01 2.6"/>
<path d="M359.8,99.1 L359.5,98.0 L359.1,96.5 L358.7,94.8 L358.2,92.8 L357.6,90.7 L356.9,88.4 L356.2,86.1 L355.3,83.9 L354.3,81.6 L353.1,79.0 L351.7,76.4 L350.3,73.7 L348.9,71.2 L347.7,68.9 L346.7,67.1 L345.9,65.7" fill="none" stroke="#d85f6e" stroke-width="1.9" stroke-linecap="round" stroke-dasharray="0.01 2.6"/>
<path d="M354.2,100.5 L353.9,99.4 L353.6,97.9 L353.2,96.2 L352.7,94.2 L352.1,92.2 L351.5,90.1 L350.8,88.1 L350.1,86.1 L349.1,84.0 L348.0,81.6 L346.6,79.0 L345.3,76.4 L343.9,73.9 L342.7,71.7 L341.6,69.8 L340.9,68.3" fill="none" stroke="#d85f6e" stroke-width="1.9" stroke-linecap="round" stroke-dasharray="0.01 2.6"/>
<path d="M358.1,97.2 L356.8,96.6 L355.1,95.9 L353.1,95.1 L350.8,94.1 L348.3,93.1 L345.8,92.1 L343.3,91.2 L340.9,90.3 L338.5,89.5 L335.8,88.6 L333.0,87.8 L330.2,87.0 L327.5,86.2 L325.2,85.6 L323.2,85.0 L321.7,84.6" fill="none" stroke="#d85f6e" stroke-width="1.9" stroke-linecap="round" stroke-dasharray="0.01 2.6"/>
<path d="M355.9,102.4 L354.6,101.9 L352.9,101.2 L350.9,100.3 L348.6,99.4 L346.2,98.4 L343.8,97.4 L341.3,96.5 L339.1,95.7 L336.7,94.9 L334.1,94.1 L331.3,93.3 L328.6,92.5 L326.0,91.7 L323.6,91.0 L321.6,90.5 L320.1,90.0" fill="none" stroke="#d85f6e" stroke-width="1.9" stroke-linecap="round" stroke-dasharray="0.01 2.6"/>
<path d="M354.8,98.1 L354.4,98.7 L353.8,99.4 L353.0,100.2 L352.2,101.1 L351.3,102.2 L350.4,103.2 L349.6,104.2 L348.8,105.2 L348.0,106.2 L347.1,107.3 L346.3,108.5 L345.5,109.6 L344.7,110.7 L344.0,111.6 L343.4,112.4 L343.0,113.0" fill="none" stroke="#d85f6e" stroke-width="1.9" stroke-linecap="round" stroke-dasharray="0.01 2.6"/>
<path d="M359.2,101.9 L358.7,102.4 L358.1,103.1 L357.3,104.0 L356.5,104.9 L355.7,105.9 L354.8,106.9 L354.0,107.9 L353.2,108.8 L352.5,109.7 L351.7,110.8 L350.9,111.9 L350.1,113.0 L349.3,114.0 L348.6,115.0 L348.0,115.8 L347.6,116.4" fill="none" stroke="#d85f6e" stroke-width="1.9" stroke-linecap="round" stroke-dasharray="0.01 2.6"/>
<path d="M438.2,102.0 L438.2,100.4 L438.3,98.3 L438.3,95.7 L438.3,92.9 L438.3,89.9 L438.3,87.0 L438.2,84.2 L438.0,81.8 L437.9,79.6 L437.7,77.5 L437.4,75.6 L437.2,73.7 L436.8,71.9 L436.5,70.1 L436.0,68.5 L435.6,66.8 L435.0,65.3 L434.4,63.8 L433.7,62.4 L433.0,61.2 L432.2,60.0 L431.4,58.9 L430.6,57.9 L429.7,56.9 L428.6,55.9 L427.5,55.0 L426.3,54.3 L425.2,53.7 L424.2,53.1 L423.3,52.7 L422.7,52.4 L422.3,52.2" fill="none" stroke="#d85f6e" stroke-width="1.9" stroke-linecap="round" stroke-dasharray="0.01 2.6"/>
<path d="M430.8,102.0 L430.7,100.4 L430.8,98.2 L430.8,95.7 L430.8,92.9 L430.8,90.0 L430.8,87.1 L430.7,84.5 L430.6,82.2 L430.4,80.3 L430.2,78.4 L430.0,76.6 L429.7,74.9 L429.5,73.3 L429.2,71.8 L428.8,70.4 L428.4,69.2 L428.0,68.0 L427.6,67.0 L427.1,66.0 L426.6,65.1 L426.0,64.2 L425.4,63.5 L424.9,62.7 L424.3,62.1 L423.8,61.6 L423.2,61.2 L422.5,60.7 L421.7,60.3 L420.9,59.9 L420.1,59.5 L419.3,59.1 L418.7,58.8" fill="none" stroke="#d85f6e" stroke-width="1.9" stroke-linecap="round" stroke-dasharray="0.01 2.6"/>
<path d="M421.0,52.7 L419.6,52.5 L417.8,52.2 L415.7,51.8 L413.3,51.4 L410.7,51.0 L408.2,50.6 L405.8,50.3 L403.6,50.1 L401.6,49.9 L399.7,49.9 L397.8,49.9 L396.0,49.9 L394.3,50.0 L392.7,50.1 L391.3,50.1 L390.0,50.2 L388.7,50.2 L387.5,50.2 L386.4,50.2 L385.4,50.2 L384.4,50.2 L383.6,50.2 L383.0,50.2 L382.4,50.2" fill="none" stroke="#d85f6e" stroke-width="1.9" stroke-linecap="round" stroke-dasharray="0.01 2.6"/>
<path d="M420.0,58.3 L418.7,58.1 L416.9,57.8 L414.7,57.4 L412.3,57.0 L409.9,56.6 L407.4,56.2 L405.1,55.9 L403.2,55.7 L401.4,55.6 L399.6,55.6 L397.9,55.6 L396.2,55.6 L394.6,55.7 L393.0,55.8 L391.5,55.8 L390.0,55.8 L388.7,55.9 L387.5,55.9 L386.4,55.9 L385.4,55.9 L384.4,55.9 L383.6,55.9 L382.9,55.9 L382.4,55.8" fill="none" stroke="#d85f6e" stroke-width="1.9" stroke-linecap="round" stroke-dasharray="0.01 2.6"/>
<path d="M383.6,50.4 L383.0,50.1 L382.1,49.8 L381.2,49.3 L380.1,48.8 L379.0,48.3 L377.8,47.7 L376.6,47.1 L375.4,46.5 L374.0,45.7 L372.4,44.8 L370.7,43.8 L369.0,42.8 L367.3,41.8 L365.8,40.9 L364.5,40.1 L363.6,39.6" fill="none" stroke="#d85f6e" stroke-width="1.9" stroke-linecap="round" stroke-dasharray="0.01 2.6"/>
<path d="M381.2,55.6 L380.6,55.3 L379.8,55.0 L378.8,54.5 L377.8,54.0 L376.6,53.5 L375.3,52.9 L374.0,52.2 L372.6,51.5 L371.2,50.7 L369.6,49.8 L367.8,48.7 L366.1,47.7 L364.4,46.7 L362.9,45.8 L361.6,45.0 L360.6,44.4" fill="none" stroke="#d85f6e" stroke-width="1.9" stroke-linecap="round" stroke-dasharray="0.01 2.6"/>
<path d="M380.4,52.8 L380.0,53.6 L379.6,54.7 L379.1,55.9 L378.5,57.2 L377.9,58.5 L377.2,59.9 L376.5,61.2 L375.7,62.3 L374.7,63.6 L373.5,64.9 L372.2,66.4 L370.8,67.9 L369.4,69.3 L368.1,70.6 L367.0,71.7 L366.2,72.5" fill="none" stroke="#d85f6e" stroke-width="1.9" stroke-linecap="round" stroke-dasharray="0.01 2.6"/>
<path d="M385.6,55.2 L385.3,55.9 L384.8,56.9 L384.3,58.1 L383.7,59.5 L383.0,61.0 L382.2,62.6 L381.3,64.1 L380.3,65.7 L379.2,67.2 L377.8,68.7 L376.4,70.3 L374.9,71.9 L373.5,73.3 L372.2,74.6 L371.1,75.7 L370.4,76.5" fill="none" stroke="#d85f6e" stroke-width="1.9" stroke-linecap="round" stroke-dasharray="0.01 2.6"/>
<path d="M403.1,52.1 L403.0,51.4 L402.9,50.5 L402.7,49.5 L402.5,48.4 L402.3,47.2 L402.2,46.0 L402.0,44.8 L401.8,43.6 L401.7,42.5 L401.5,41.2 L401.4,39.8 L401.3,38.4 L401.1,37.1 L401.0,36.0 L400.9,35.0 L400.8,34.2" fill="none" stroke="#d85f6e" stroke-width="1.9" stroke-linecap="round" stroke-dasharray="0.01 2.6"/>
<path d="M397.5,52.9 L397.4,52.3 L397.2,51.5 L397.1,50.4 L396.9,49.3 L396.7,48.1 L396.5,46.8 L396.3,45.6 L396.2,44.4 L396.0,43.1 L395.9,41.8 L395.7,40.4 L395.6,39.0 L395.5,37.7 L395.3,36.5 L395.2,35.5 L395.2,34.8" fill="none" stroke="#d85f6e" stroke-width="1.9" stroke-linecap="round" stroke-dasharray="0.01 2.6"/>
<path d="M425.3,55.0 L425.4,54.3 L425.6,53.5 L425.8,52.4 L426.0,51.3 L426.2,50.0 L426.4,48.8 L426.6,47.6 L426.8,46.5 L427.0,45.4 L427.2,44.2 L427.4,43.0 L427.6,41.9 L427.7,40.8 L427.9,39.8 L428.0,39.0 L428.1,38.3" fill="none" stroke="#d85f6e" stroke-width="1.9" stroke-linecap="round" stroke-dasharray="0.01 2.6"/>
<path d="M419.7,54.0 L419.8,53.3 L420.0,52.5 L420.2,51.4 L420.4,50.3 L420.6,49.0 L420.8,47.8 L421.0,46.6 L421.2,45.5 L421.4,44.4 L421.6,43.3 L421.7,42.1 L421.9,41.0 L422.1,39.9 L422.3,38.9 L422.4,38.1 L422.5,37.5" fill="none" stroke="#d85f6e" stroke-width="1.9" stroke-linecap="round" stroke-dasharray="0.01 2.6"/>
<path d="M470.3,97.9 L470.3,97.1 L470.3,96.1 L470.2,94.9 L470.2,93.5 L470.1,92.0 L470.1,90.5 L470.0,89.1 L469.8,87.7 L469.7,86.4 L469.5,84.9 L469.3,83.5 L469.0,82.1 L468.8,80.8 L468.6,79.6 L468.4,78.7 L468.3,77.9" fill="none" stroke="#d85f6e" stroke-width="1.9" stroke-linecap="round" stroke-dasharray="0.01 2.6"/>
<path d="M464.7,98.1 L464.6,97.3 L464.6,96.3 L464.5,95.1 L464.5,93.7 L464.4,92.3 L464.4,90.9 L464.3,89.5 L464.2,88.3 L464.0,87.1 L463.8,85.8 L463.6,84.4 L463.4,83.0 L463.2,81.8 L463.0,80.6 L462.8,79.6 L462.7,78.9" fill="none" stroke="#d85f6e" stroke-width="1.9" stroke-linecap="round" stroke-dasharray="0.01 2.6"/>
<path d="M430.9,105.6 L430.7,106.9 L430.5,108.6 L430.3,110.6 L430.0,112.9 L429.7,115.2 L429.4,117.5 L429.1,119.7 L428.9,121.6 L428.6,123.3 L428.4,125.1 L428.1,126.9 L427.9,128.6 L427.7,130.1 L427.5,131.5 L427.3,132.7 L427.2,133.6" fill="none" stroke="#d85f6e" stroke-width="1.9" stroke-linecap="round" stroke-dasharray="0.01 2.6"/>
<path d="M437.1,106.4 L437.0,107.6 L436.8,109.4 L436.5,111.4 L436.2,113.6 L435.9,116.0 L435.7,118.3 L435.4,120.5 L435.1,122.4 L434.9,124.2 L434.6,126.0 L434.4,127.8 L434.1,129.4 L433.9,131.0 L433.7,132.4 L433.5,133.6 L433.4,134.4" fill="none" stroke="#d85f6e" stroke-width="1.9" stroke-linecap="round" stroke-dasharray="0.01 2.6"/>
<path d="M430.1,130.2 L428.8,130.1 L427.0,130.0 L424.8,129.9 L422.5,129.8 L419.9,129.6 L417.3,129.5 L414.7,129.3 L412.2,129.2 L409.6,128.9 L406.7,128.7 L403.7,128.4 L400.7,128.1 L397.8,127.8 L395.1,127.5 L392.9,127.3 L391.3,127.2" fill="none" stroke="#d85f6e" stroke-width="1.9" stroke-linecap="round" stroke-dasharray="0.01 2.6"/>
<path d="M429.9,135.8 L428.5,135.8 L426.7,135.7 L424.6,135.6 L422.2,135.5 L419.6,135.3 L417.0,135.2 L414.3,135.0 L411.8,134.8 L409.1,134.6 L406.2,134.4 L403.1,134.1 L400.1,133.8 L397.2,133.5 L394.6,133.2 L392.4,133.0 L390.7,132.8" fill="none" stroke="#d85f6e" stroke-width="1.9" stroke-linecap="round" stroke-dasharray="0.01 2.6"/>
<path d="M427.2,132.8 L426.2,133.6 L424.9,134.7 L423.3,136.0 L421.5,137.5 L419.6,139.1 L417.7,140.7 L415.8,142.3 L414.1,143.9 L412.3,145.6 L410.4,147.4 L408.5,149.3 L406.6,151.2 L404.9,153.1 L403.3,154.7 L402.0,156.1 L401.0,157.1" fill="none" stroke="#d85f6e" stroke-width="1.9" stroke-linecap="round" stroke-dasharray="0.01 2.6"/>
<path d="M430.8,137.2 L429.8,138.0 L428.5,139.1 L426.9,140.4 L425.1,141.9 L423.3,143.4 L421.4,145.0 L419.6,146.6 L417.9,148.1 L416.3,149.7 L414.5,151.5 L412.6,153.3 L410.7,155.2 L409.0,157.0 L407.4,158.7 L406.0,160.1 L405.0,161.1" fill="none" stroke="#d85f6e" stroke-width="1.9" stroke-linecap="round" stroke-dasharray="0.01 2.6"/>
<path d="M428.5,136.4 L428.8,137.0 L429.3,137.7 L429.8,138.6 L430.3,139.5 L430.9,140.5 L431.5,141.5 L432.0,142.5 L432.5,143.4 L432.9,144.2 L433.4,145.0 L433.8,145.9 L434.2,146.8 L434.6,147.6 L435.0,148.4 L435.3,149.0 L435.5,149.5" fill="none" stroke="#d85f6e" stroke-width="1.9" stroke-linecap="round" stroke-dasharray="0.01 2.6"/>
<path d="M433.5,133.6 L433.8,134.1 L434.2,134.8 L434.7,135.7 L435.3,136.7 L435.9,137.7 L436.5,138.7 L437.0,139.7 L437.5,140.6 L438.0,141.5 L438.5,142.5 L438.9,143.4 L439.4,144.3 L439.8,145.1 L440.1,145.9 L440.4,146.5 L440.7,146.9" fill="none" stroke="#d85f6e" stroke-width="1.9" stroke-linecap="round" stroke-dasharray="0.01 2.6"/>
<circle cx="362.1" cy="42.0" r="8.35" fill="none" stroke="#d85f6e" stroke-width="1.9" stroke-linecap="round" stroke-dasharray="0.01 2.6"/>
<circle cx="398.0" cy="34.2" r="8.35" fill="none" stroke="#d85f6e" stroke-width="1.9" stroke-linecap="round" stroke-dasharray="0.01 2.6"/>
<circle cx="425.3" cy="37.9" r="8.35" fill="none" stroke="#d85f6e" stroke-width="1.9" stroke-linecap="round" stroke-dasharray="0.01 2.6"/>
<circle cx="343.4" cy="67.0" r="8.35" fill="none" stroke="#d85f6e" stroke-width="1.9" stroke-linecap="round" stroke-dasharray="0.01 2.6"/>
<circle cx="368.3" cy="74.5" r="8.35" fill="none" stroke="#d85f6e" stroke-width="1.9" stroke-linecap="round" stroke-dasharray="0.01 2.6"/>
<circle cx="320.9" cy="87.3" r="8.35" fill="none" stroke="#d85f6e" stroke-width="1.9" stroke-linecap="round" stroke-dasharray="0.01 2.6"/>
<circle cx="345.3" cy="114.7" r="8.35" fill="none" stroke="#d85f6e" stroke-width="1.9" stroke-linecap="round" stroke-dasharray="0.01 2.6"/>
<circle cx="465.5" cy="78.4" r="8.35" fill="none" stroke="#d85f6e" stroke-width="1.9" stroke-linecap="round" stroke-dasharray="0.01 2.6"/>
<circle cx="391.0" cy="130.0" r="8.35" fill="none" stroke="#d85f6e" stroke-width="1.9" stroke-linecap="round" stroke-dasharray="0.01 2.6"/>
<circle cx="403.0" cy="159.1" r="8.35" fill="none" stroke="#d85f6e" stroke-width="1.9" stroke-linecap="round" stroke-dasharray="0.01 2.6"/>
<circle cx="438.1" cy="148.2" r="8.35" fill="none" stroke="#d85f6e" stroke-width="1.9" stroke-linecap="round" stroke-dasharray="0.01 2.6"/>
<g filter="url(#goo2)">
<path d="M520.0,105.6 C511.7,105.5 483.0,105.4 470.0,105.3 C457.0,105.2 446.7,105.0 442.0,105.0" fill="none" stroke="#fbe6e8" stroke-width="14.10" stroke-linecap="round" stroke-linejoin="round"/>
<path d="M442.0,105.0 C441.0,105.0 438.0,104.9 436.0,104.8 C434.0,104.7 431.0,104.3 430.0,104.2" fill="none" stroke="#fbe6e8" stroke-width="8.70" stroke-linecap="round" stroke-linejoin="round"/>
<path d="M434.0,104.3 C430.0,104.1 418.2,103.5 410.0,103.2 C401.8,102.9 393.8,102.9 385.0,102.3 C376.2,101.7 361.7,100.2 357.0,99.8" fill="none" stroke="#fbe6e8" stroke-width="3.50" stroke-linecap="round" stroke-linejoin="round"/>
<path d="M357.0,99.8 C356.3,97.3 355.0,90.5 352.7,85.0 C350.4,79.5 344.9,70.0 343.4,67.0" fill="none" stroke="#fbe6e8" stroke-width="3.50" stroke-linecap="round" stroke-linejoin="round"/>
<path d="M357.0,99.8 C354.2,98.7 346.0,95.1 340.0,93.0 C334.0,90.9 324.1,88.2 320.9,87.3" fill="none" stroke="#fbe6e8" stroke-width="3.50" stroke-linecap="round" stroke-linejoin="round"/>
<path d="M357.0,100.0 C356.0,101.2 352.9,104.5 351.0,107.0 C349.1,109.5 346.2,113.4 345.3,114.7" fill="none" stroke="#fbe6e8" stroke-width="3.50" stroke-linecap="round" stroke-linejoin="round"/>
<path d="M434.5,102.0 C434.5,98.7 434.7,87.7 434.3,82.0 C433.9,76.3 433.2,71.8 432.0,68.0 C430.8,64.2 428.9,61.6 427.0,59.5 C425.1,57.4 421.6,56.2 420.5,55.5" fill="none" stroke="#fbe6e8" stroke-width="5.30" stroke-linecap="round" stroke-linejoin="round"/>
<path d="M420.5,55.5 C417.6,55.1 408.5,53.3 403.4,52.9 C398.3,52.5 393.5,53.0 390.0,53.0 C386.5,53.0 383.7,53.0 382.4,53.0" fill="none" stroke="#fbe6e8" stroke-width="3.50" stroke-linecap="round" stroke-linejoin="round"/>
<path d="M382.4,53.0 C381.0,52.3 377.4,50.8 374.0,49.0 C370.6,47.2 364.1,43.2 362.1,42.0" fill="none" stroke="#fbe6e8" stroke-width="3.50" stroke-linecap="round" stroke-linejoin="round"/>
<path d="M383.0,54.0 C382.2,55.7 380.4,60.6 378.0,64.0 C375.6,67.4 369.9,72.8 368.3,74.5" fill="none" stroke="#fbe6e8" stroke-width="3.50" stroke-linecap="round" stroke-linejoin="round"/>
<path d="M400.3,52.5 C400.1,51.1 399.4,47.0 399.0,44.0 C398.6,41.0 398.2,36.1 398.0,34.5" fill="none" stroke="#fbe6e8" stroke-width="3.50" stroke-linecap="round" stroke-linejoin="round"/>
<path d="M422.5,54.5 C422.8,53.1 423.5,48.8 424.0,46.0 C424.5,43.2 425.1,39.2 425.3,37.9" fill="none" stroke="#fbe6e8" stroke-width="3.50" stroke-linecap="round" stroke-linejoin="round"/>
<path d="M467.5,98.0 C467.4,96.3 467.3,91.3 467.0,88.0 C466.7,84.7 465.8,80.0 465.5,78.4" fill="none" stroke="#fbe6e8" stroke-width="3.50" stroke-linecap="round" stroke-linejoin="round"/>
<path d="M434.0,106.0 C433.7,108.7 432.6,117.3 432.0,122.0 C431.4,126.7 430.6,132.0 430.3,134.0" fill="none" stroke="#fbe6e8" stroke-width="4.10" stroke-linecap="round" stroke-linejoin="round"/>
<path d="M430.0,133.0 C427.0,132.8 418.5,132.5 412.0,132.0 C405.5,131.5 394.5,130.3 391.0,130.0" fill="none" stroke="#fbe6e8" stroke-width="3.50" stroke-linecap="round" stroke-linejoin="round"/>
<path d="M429.0,135.0 C426.8,136.8 420.3,142.0 416.0,146.0 C411.7,150.0 405.2,156.9 403.0,159.1" fill="none" stroke="#fbe6e8" stroke-width="3.50" stroke-linecap="round" stroke-linejoin="round"/>
<path d="M431.0,135.0 C431.7,136.2 433.8,139.8 435.0,142.0 C436.2,144.2 437.6,147.2 438.1,148.2" fill="none" stroke="#fbe6e8" stroke-width="3.50" stroke-linecap="round" stroke-linejoin="round"/>
<circle cx="362.1" cy="42.0" r="7.25" fill="#fbe6e8"/>
<circle cx="398.0" cy="34.2" r="7.25" fill="#fbe6e8"/>
<circle cx="425.3" cy="37.9" r="7.25" fill="#fbe6e8"/>
<circle cx="343.4" cy="67.0" r="7.25" fill="#fbe6e8"/>
<circle cx="368.3" cy="74.5" r="7.25" fill="#fbe6e8"/>
<circle cx="320.9" cy="87.3" r="7.25" fill="#fbe6e8"/>
<circle cx="345.3" cy="114.7" r="7.25" fill="#fbe6e8"/>
<circle cx="465.5" cy="78.4" r="7.25" fill="#fbe6e8"/>
<circle cx="391.0" cy="130.0" r="7.25" fill="#fbe6e8"/>
<circle cx="403.0" cy="159.1" r="7.25" fill="#fbe6e8"/>
<circle cx="438.1" cy="148.2" r="7.25" fill="#fbe6e8"/>
</g>
</g>
<rect x="302" y="16.5" width="204.3" height="161" fill="none" stroke="#2a2a2a" stroke-width="0.9"/>
<text x="308.5" y="30.8" font-size="10.6" font-weight="bold" letter-spacing="0.2" fill="#1d1d1d" textLength="29.2" lengthAdjust="spacingAndGlyphs">TDLU</text>
</g>
<g id="ductpanel">
<rect x="302.2" y="185.6" width="204.2" height="182.4" fill="#f8f0e1" stroke="#2a2a2a" stroke-width="0.9"/>
<text x="308.0" y="200.5" font-size="10.6" font-weight="bold" letter-spacing="0.4" fill="#1d1d1d" textLength="25.7" lengthAdjust="spacingAndGlyphs">Duct</text>
<path d="M349.6,199.9 C351.3,197.9 358.1,197.1 361.6,197.9 C365.1,198.7 369.9,202.1 370.6,204.9 C371.3,207.7 368.3,212.7 365.6,214.9 C362.9,217.1 356.9,218.7 354.6,217.9 C352.3,217.1 352.4,212.9 351.6,209.9 C350.8,206.9 347.9,201.9 349.6,199.9 Z" fill="#fbe3e6" stroke="#dc5068" stroke-width="0.7" transform="rotate(0 359.6117035821712 207.89171452009845)"/>
<path d="M343.9,229.1 C344.2,227.6 349.4,224.8 352.9,223.1 C356.4,221.5 362.0,219.3 364.9,219.1 C367.7,219.0 369.9,220.6 369.9,222.1 C369.9,223.6 368.0,226.5 364.9,228.1 C361.7,229.8 354.4,232.0 350.9,232.1 C347.4,232.3 343.5,230.6 343.9,229.1 Z" fill="#fbe3e6" stroke="#dc5068" stroke-width="0.7" transform="rotate(0 356.87722176647526 225.11894995898277)"/>
<path d="M456.1,225.0 C456.4,223.4 462.3,220.5 466.1,220.0 C469.9,219.5 476.1,220.4 479.1,222.0 C482.1,223.7 484.6,228.0 484.1,230.0 C483.6,232.0 479.4,234.0 476.1,234.0 C472.8,234.0 467.4,231.5 464.1,230.0 C460.8,228.5 455.8,226.7 456.1,225.0 Z" fill="#fbe3e6" stroke="#dc5068" stroke-width="0.7" transform="rotate(0 470.08476893628654 227.0330872299699)"/>
<path d="M333.4,279.6 C334.7,277.7 339.6,277.7 342.4,279.6 C345.2,281.4 348.6,287.4 350.4,290.6 C352.2,293.7 354.4,297.4 353.4,298.6 C352.4,299.7 347.6,298.9 344.4,297.6 C341.2,296.2 336.2,293.6 334.4,290.6 C332.6,287.6 332.1,281.4 333.4,279.6 Z" fill="#fbe3e6" stroke="#dc5068" stroke-width="0.7" transform="rotate(0 342.3844681432868 288.55892808312825)"/>
<path d="M343.7,318.2 C344.4,314.5 347.7,311.5 350.7,311.2 C353.7,310.9 359.0,313.9 361.7,316.2 C364.4,318.5 367.4,322.7 366.7,325.2 C366.0,327.7 361.0,329.9 357.7,331.2 C354.4,332.5 349.0,335.4 346.7,333.2 C344.4,331.0 343.0,321.9 343.7,318.2 Z" fill="#fbe3e6" stroke="#dc5068" stroke-width="0.7" transform="rotate(0 354.6896363139185 322.19305441618815)"/>
<path d="M460.7,306.6 C462.1,304.8 467.1,303.0 469.7,303.6 C472.4,304.3 475.9,308.0 476.7,310.6 C477.6,313.3 476.4,318.0 474.7,319.6 C473.1,321.3 468.9,321.5 466.7,320.6 C464.6,319.8 462.7,317.0 461.7,314.6 C460.7,312.3 459.4,308.5 460.7,306.6 Z" fill="#fbe3e6" stroke="#dc5068" stroke-width="0.7" transform="rotate(0 468.7175280284386 312.62236806125236)"/>
<path d="M481.3,299.5 C482.6,298.0 488.3,298.0 490.3,299.5 C492.3,301.0 492.6,305.4 493.3,308.5 C494.0,311.7 495.6,317.2 494.3,318.5 C493.0,319.9 487.3,318.2 485.3,316.5 C483.3,314.9 483.0,311.4 482.3,308.5 C481.6,305.7 480.0,301.0 481.3,299.5 Z" fill="#fbe3e6" stroke="#dc5068" stroke-width="0.7" transform="rotate(0 487.3120043751709 308.5206453377085)"/>
<path d="M409.2,342.1 C409.9,340.1 414.9,338.2 417.2,338.1 C419.5,337.9 422.7,339.4 423.2,341.1 C423.7,342.7 421.9,346.6 420.2,348.1 C418.5,349.6 415.0,351.1 413.2,350.1 C411.4,349.1 408.5,344.1 409.2,342.1 Z" fill="#fbe3e6" stroke="#dc5068" stroke-width="0.7" transform="rotate(0 416.21547716707687 344.0689089417555)"/>
<circle cx="412.9" cy="200.0" r="5.7" fill="#e67db2"/>
<circle cx="413.4" cy="200.4" r="3.9" fill="#d0367f"/>
<circle cx="382.6" cy="213.4" r="5.7" fill="#e67db2"/>
<circle cx="383.1" cy="213.8" r="3.9" fill="#d0367f"/>
<circle cx="444.9" cy="218.8" r="5.7" fill="#e67db2"/>
<circle cx="445.4" cy="219.2" r="3.9" fill="#d0367f"/>
<circle cx="348.4" cy="240.7" r="5.7" fill="#e67db2"/>
<circle cx="348.9" cy="241.1" r="3.9" fill="#d0367f"/>
<circle cx="484.9" cy="239.6" r="5.7" fill="#e67db2"/>
<circle cx="485.4" cy="240.0" r="3.9" fill="#d0367f"/>
<circle cx="340.5" cy="257.9" r="5.7" fill="#e67db2"/>
<circle cx="341.0" cy="258.3" r="3.9" fill="#d0367f"/>
<circle cx="471.7" cy="271.1" r="5.7" fill="#e67db2"/>
<circle cx="472.2" cy="271.5" r="3.9" fill="#d0367f"/>
<circle cx="323.2" cy="287.2" r="5.7" fill="#e67db2"/>
<circle cx="323.7" cy="287.6" r="3.9" fill="#d0367f"/>
<circle cx="479.4" cy="291.3" r="5.7" fill="#e67db2"/>
<circle cx="479.9" cy="291.7" r="3.9" fill="#d0367f"/>
<circle cx="453.1" cy="321.6" r="5.7" fill="#e67db2"/>
<circle cx="453.6" cy="322.0" r="3.9" fill="#d0367f"/>
<circle cx="355.5" cy="341.3" r="5.7" fill="#e67db2"/>
<circle cx="356.0" cy="341.7" r="3.9" fill="#d0367f"/>
<circle cx="452.0" cy="339.4" r="5.7" fill="#e67db2"/>
<circle cx="452.5" cy="339.8" r="3.9" fill="#d0367f"/>
<circle cx="400.6" cy="352.5" r="5.7" fill="#e67db2"/>
<circle cx="401.1" cy="352.9" r="3.9" fill="#d0367f"/>
<path d="M346.1,219.1 C346.1,219.8 344.5,220.3 344.2,221.1 C344.0,221.9 345.1,223.2 344.7,223.8 C344.3,224.3 342.7,223.9 342.1,224.4 C341.5,225.0 341.6,226.7 341.0,226.9 C340.4,227.2 339.3,226.0 338.5,226.1 C337.7,226.2 336.9,227.7 336.2,227.6 C335.6,227.5 335.3,225.9 334.5,225.5 C333.8,225.2 332.3,226.0 331.8,225.6 C331.3,225.2 332.0,223.6 331.5,222.9 C331.1,222.2 329.4,222.2 329.2,221.5 C329.0,220.9 330.4,219.9 330.4,219.1 C330.4,218.3 329.0,217.3 329.2,216.7 C329.4,216.0 331.1,216.0 331.5,215.3 C332.0,214.6 331.3,213.0 331.8,212.6 C332.3,212.2 333.8,213.0 334.5,212.7 C335.3,212.4 335.6,210.7 336.2,210.6 C336.9,210.5 337.7,212.0 338.5,212.1 C339.3,212.2 340.4,211.0 341.0,211.3 C341.6,211.6 341.5,213.2 342.1,213.8 C342.7,214.3 344.3,213.9 344.7,214.5 C345.1,215.0 344.0,216.3 344.2,217.1 C344.5,217.9 346.1,218.4 346.1,219.1 Z" fill="#a5a3d8" stroke="#8886c6" stroke-width="0.6"/>
<circle cx="337.5" cy="219.1" r="4.0" fill="#7f7dc6"/>
<path d="M482.5,252.5 C482.5,253.1 480.9,253.7 480.7,254.5 C480.5,255.2 481.5,256.6 481.1,257.1 C480.8,257.7 479.1,257.3 478.5,257.8 C477.9,258.3 478.1,260.0 477.5,260.3 C476.9,260.6 475.7,259.3 474.9,259.4 C474.1,259.6 473.3,261.1 472.7,261.0 C472.0,260.9 471.7,259.2 471.0,258.9 C470.2,258.5 468.8,259.4 468.3,259.0 C467.8,258.5 468.4,257.0 468.0,256.3 C467.5,255.6 465.8,255.5 465.7,254.9 C465.5,254.3 466.9,253.3 466.9,252.5 C466.9,251.7 465.5,250.7 465.7,250.0 C465.8,249.4 467.5,249.3 468.0,248.7 C468.4,248.0 467.8,246.4 468.3,246.0 C468.8,245.5 470.2,246.4 471.0,246.0 C471.7,245.7 472.0,244.0 472.7,244.0 C473.3,243.9 474.1,245.4 474.9,245.5 C475.7,245.6 476.9,244.4 477.5,244.6 C478.1,244.9 477.9,246.6 478.5,247.1 C479.1,247.7 480.8,247.3 481.1,247.8 C481.5,248.4 480.5,249.7 480.7,250.5 C480.9,251.3 482.5,251.8 482.5,252.5 Z" fill="#a5a3d8" stroke="#8886c6" stroke-width="0.6"/>
<circle cx="473.9" cy="252.5" r="4.0" fill="#7f7dc6"/>
<path d="M340.0,313.2 C340.0,313.8 338.4,314.4 338.2,315.2 C338.0,315.9 339.0,317.3 338.7,317.8 C338.3,318.4 336.7,318.0 336.1,318.5 C335.5,319.0 335.6,320.7 335.0,321.0 C334.4,321.3 333.2,320.0 332.5,320.1 C331.7,320.3 330.9,321.8 330.2,321.7 C329.6,321.6 329.3,319.9 328.5,319.6 C327.8,319.2 326.3,320.1 325.8,319.7 C325.3,319.2 326.0,317.7 325.5,317.0 C325.1,316.3 323.4,316.2 323.2,315.6 C323.0,315.0 324.4,314.0 324.4,313.2 C324.4,312.4 323.0,311.4 323.2,310.7 C323.4,310.1 325.1,310.0 325.5,309.4 C326.0,308.7 325.3,307.1 325.8,306.7 C326.3,306.2 327.8,307.1 328.5,306.8 C329.3,306.4 329.6,304.8 330.2,304.7 C330.9,304.6 331.7,306.1 332.5,306.2 C333.2,306.3 334.4,305.1 335.0,305.3 C335.6,305.6 335.5,307.3 336.1,307.8 C336.7,308.4 338.3,308.0 338.7,308.5 C339.0,309.1 338.0,310.4 338.2,311.2 C338.4,312.0 340.0,312.5 340.0,313.2 Z" fill="#a5a3d8" stroke="#8886c6" stroke-width="0.6"/>
<circle cx="331.4" cy="313.2" r="4.0" fill="#7f7dc6"/>
<path d="M384.3,342.7 C384.3,343.4 382.7,343.9 382.5,344.7 C382.3,345.5 383.3,346.8 383.0,347.4 C382.6,347.9 381.0,347.5 380.4,348.0 C379.8,348.6 379.9,350.2 379.3,350.5 C378.7,350.8 377.5,349.6 376.7,349.7 C375.9,349.8 375.2,351.3 374.5,351.2 C373.9,351.1 373.6,349.5 372.8,349.1 C372.1,348.8 370.6,349.6 370.1,349.2 C369.6,348.8 370.2,347.2 369.8,346.5 C369.4,345.8 367.7,345.8 367.5,345.1 C367.3,344.5 368.7,343.5 368.7,342.7 C368.7,341.9 367.3,340.9 367.5,340.3 C367.7,339.6 369.4,339.6 369.8,338.9 C370.2,338.2 369.6,336.6 370.1,336.2 C370.6,335.8 372.1,336.6 372.8,336.3 C373.6,336.0 373.9,334.3 374.5,334.2 C375.2,334.1 375.9,335.6 376.7,335.7 C377.5,335.8 378.7,334.6 379.3,334.9 C379.9,335.2 379.8,336.8 380.4,337.4 C381.0,337.9 382.6,337.5 383.0,338.1 C383.3,338.6 382.3,339.9 382.5,340.7 C382.7,341.5 384.3,342.0 384.3,342.7 Z" fill="#a5a3d8" stroke="#8886c6" stroke-width="0.6"/>
<circle cx="375.7" cy="342.7" r="4.0" fill="#7f7dc6"/>
<path d="M442.0,337.0 C442.0,337.6 440.4,338.2 440.2,338.9 C440.0,339.7 441.0,341.1 440.7,341.6 C440.3,342.2 438.7,341.8 438.1,342.3 C437.5,342.8 437.6,344.5 437.0,344.8 C436.4,345.1 435.2,343.8 434.4,343.9 C433.6,344.1 432.9,345.6 432.2,345.5 C431.6,345.4 431.2,343.7 430.5,343.4 C429.8,343.0 428.3,343.9 427.8,343.5 C427.3,343.0 427.9,341.5 427.5,340.8 C427.1,340.1 425.4,340.0 425.2,339.4 C425.0,338.7 426.4,337.8 426.4,337.0 C426.4,336.2 425.0,335.2 425.2,334.5 C425.4,333.9 427.1,333.8 427.5,333.1 C427.9,332.5 427.3,330.9 427.8,330.5 C428.3,330.0 429.8,330.9 430.5,330.5 C431.2,330.2 431.6,328.5 432.2,328.4 C432.9,328.4 433.6,329.9 434.4,330.0 C435.2,330.1 436.4,328.9 437.0,329.1 C437.6,329.4 437.5,331.1 438.1,331.6 C438.7,332.2 440.3,331.8 440.7,332.3 C441.0,332.9 440.0,334.2 440.2,335.0 C440.4,335.7 442.0,336.3 442.0,337.0 Z" fill="#a5a3d8" stroke="#8886c6" stroke-width="0.6"/>
<circle cx="433.4" cy="337.0" r="4.0" fill="#7f7dc6"/>
<g transform="translate(378.5 201.9) rotate(12)"><path d="M-7,0.6 C-3,-0.6 -2,-2.2 1,-2.2 C4,-2.2 4,-0.8 7.2,-0.4 C4,0.8 3,2.2 0,2.2 C-3,2.2 -4,1.2 -7,0.6 Z" fill="#f4a26d"/><ellipse cx="0.3" cy="0" rx="2.6" ry="1.2" fill="#e9722f"/></g>
<g transform="translate(398.4 215.0) rotate(-5)"><path d="M-7,0.6 C-3,-0.6 -2,-2.2 1,-2.2 C4,-2.2 4,-0.8 7.2,-0.4 C4,0.8 3,2.2 0,2.2 C-3,2.2 -4,1.2 -7,0.6 Z" fill="#f4a26d"/><ellipse cx="0.3" cy="0" rx="2.6" ry="1.2" fill="#e9722f"/></g>
<g transform="translate(427.2 212.8) rotate(32)"><path d="M-7,0.6 C-3,-0.6 -2,-2.2 1,-2.2 C4,-2.2 4,-0.8 7.2,-0.4 C4,0.8 3,2.2 0,2.2 C-3,2.2 -4,1.2 -7,0.6 Z" fill="#f4a26d"/><ellipse cx="0.3" cy="0" rx="2.6" ry="1.2" fill="#e9722f"/></g>
<g transform="translate(455.9 212.3) rotate(32)"><path d="M-7,0.6 C-3,-0.6 -2,-2.2 1,-2.2 C4,-2.2 4,-0.8 7.2,-0.4 C4,0.8 3,2.2 0,2.2 C-3,2.2 -4,1.2 -7,0.6 Z" fill="#f4a26d"/><ellipse cx="0.3" cy="0" rx="2.6" ry="1.2" fill="#e9722f"/></g>
<g transform="translate(360.2 235.2) rotate(-52)"><path d="M-7,0.6 C-3,-0.6 -2,-2.2 1,-2.2 C4,-2.2 4,-0.8 7.2,-0.4 C4,0.8 3,2.2 0,2.2 C-3,2.2 -4,1.2 -7,0.6 Z" fill="#f4a26d"/><ellipse cx="0.3" cy="0" rx="2.6" ry="1.2" fill="#e9722f"/></g>
<g transform="translate(456.4 234.7) rotate(30)"><path d="M-7,0.6 C-3,-0.6 -2,-2.2 1,-2.2 C4,-2.2 4,-0.8 7.2,-0.4 C4,0.8 3,2.2 0,2.2 C-3,2.2 -4,1.2 -7,0.6 Z" fill="#f4a26d"/><ellipse cx="0.3" cy="0" rx="2.6" ry="1.2" fill="#e9722f"/></g>
<g transform="translate(342.4 268.1) rotate(-32)"><path d="M-7,0.6 C-3,-0.6 -2,-2.2 1,-2.2 C4,-2.2 4,-0.8 7.2,-0.4 C4,0.8 3,2.2 0,2.2 C-3,2.2 -4,1.2 -7,0.6 Z" fill="#f4a26d"/><ellipse cx="0.3" cy="0" rx="2.6" ry="1.2" fill="#e9722f"/></g>
<g transform="translate(328.7 298.1) rotate(-36)"><path d="M-7,0.6 C-3,-0.6 -2,-2.2 1,-2.2 C4,-2.2 4,-0.8 7.2,-0.4 C4,0.8 3,2.2 0,2.2 C-3,2.2 -4,1.2 -7,0.6 Z" fill="#f4a26d"/><ellipse cx="0.3" cy="0" rx="2.6" ry="1.2" fill="#e9722f"/></g>
<g transform="translate(464.1 298.9) rotate(-32)"><path d="M-7,0.6 C-3,-0.6 -2,-2.2 1,-2.2 C4,-2.2 4,-0.8 7.2,-0.4 C4,0.8 3,2.2 0,2.2 C-3,2.2 -4,1.2 -7,0.6 Z" fill="#f4a26d"/><ellipse cx="0.3" cy="0" rx="2.6" ry="1.2" fill="#e9722f"/></g>
<g transform="translate(383.4 331.2) rotate(28)"><path d="M-7,0.6 C-3,-0.6 -2,-2.2 1,-2.2 C4,-2.2 4,-0.8 7.2,-0.4 C4,0.8 3,2.2 0,2.2 C-3,2.2 -4,1.2 -7,0.6 Z" fill="#f4a26d"/><ellipse cx="0.3" cy="0" rx="2.6" ry="1.2" fill="#e9722f"/></g>
<g transform="translate(394.3 339.4) rotate(10)"><path d="M-7,0.6 C-3,-0.6 -2,-2.2 1,-2.2 C4,-2.2 4,-0.8 7.2,-0.4 C4,0.8 3,2.2 0,2.2 C-3,2.2 -4,1.2 -7,0.6 Z" fill="#f4a26d"/><ellipse cx="0.3" cy="0" rx="2.6" ry="1.2" fill="#e9722f"/></g>
<g transform="translate(463.5 331.8) rotate(10)"><path d="M-7,0.6 C-3,-0.6 -2,-2.2 1,-2.2 C4,-2.2 4,-0.8 7.2,-0.4 C4,0.8 3,2.2 0,2.2 C-3,2.2 -4,1.2 -7,0.6 Z" fill="#f4a26d"/><ellipse cx="0.3" cy="0" rx="2.6" ry="1.2" fill="#e9722f"/></g>
<circle cx="406.6" cy="274.0" r="56.15" fill="none" stroke="#9fcdec" stroke-width="2.30"/>
<circle cx="406.6" cy="274.0" r="55.40" fill="#9d84bb"/>
<circle cx="406.6" cy="274.0" r="51.30" fill="none" stroke="#8769ab" stroke-width="1.6"/>
<circle cx="406.6" cy="274.0" r="50.60" fill="#f7cfd1"/>
<ellipse cx="457.86" cy="287.09" rx="3.4" ry="1.7" transform="rotate(104.3 457.86 287.09)" fill="#5b3a8b"/>
<ellipse cx="440.37" cy="314.72" rx="3.4" ry="1.7" transform="rotate(140.3 440.37 314.72)" fill="#5b3a8b"/>
<ellipse cx="409.99" cy="326.79" rx="3.4" ry="1.7" transform="rotate(176.3 409.99 326.79)" fill="#5b3a8b"/>
<ellipse cx="378.31" cy="318.70" rx="3.4" ry="1.7" transform="rotate(212.3 378.31 318.70)" fill="#5b3a8b"/>
<ellipse cx="357.44" cy="293.54" rx="3.4" ry="1.7" transform="rotate(248.3 357.44 293.54)" fill="#5b3a8b"/>
<ellipse cx="355.34" cy="260.91" rx="3.4" ry="1.7" transform="rotate(284.3 355.34 260.91)" fill="#5b3a8b"/>
<ellipse cx="372.83" cy="233.28" rx="3.4" ry="1.7" transform="rotate(320.3 372.83 233.28)" fill="#5b3a8b"/>
<ellipse cx="403.21" cy="221.21" rx="3.4" ry="1.7" transform="rotate(356.3 403.21 221.21)" fill="#5b3a8b"/>
<ellipse cx="434.89" cy="229.30" rx="3.4" ry="1.7" transform="rotate(392.3 434.89 229.30)" fill="#5b3a8b"/>
<ellipse cx="455.76" cy="254.46" rx="3.4" ry="1.7" transform="rotate(428.3 455.76 254.46)" fill="#5b3a8b"/>
<ellipse cx="452.79" cy="276.31" rx="4.15" ry="4.14" transform="rotate(2.9 452.79 276.31)" fill="#f1a4a8" stroke="#f9d6d8" stroke-width="0.5"/>
<circle cx="452.79" cy="276.31" r="2.1" fill="#dc7682"/>
<ellipse cx="451.69" cy="284.30" rx="4.15" ry="4.14" transform="rotate(12.9 451.69 284.30)" fill="#f1a4a8" stroke="#f9d6d8" stroke-width="0.5"/>
<circle cx="451.69" cy="284.30" r="2.1" fill="#dc7682"/>
<ellipse cx="449.22" cy="291.97" rx="4.15" ry="4.14" transform="rotate(22.9 449.22 291.97)" fill="#f1a4a8" stroke="#f9d6d8" stroke-width="0.5"/>
<circle cx="449.22" cy="291.97" r="2.1" fill="#dc7682"/>
<ellipse cx="445.45" cy="299.10" rx="4.15" ry="4.14" transform="rotate(32.9 445.45 299.10)" fill="#f1a4a8" stroke="#f9d6d8" stroke-width="0.5"/>
<circle cx="445.45" cy="299.10" r="2.1" fill="#dc7682"/>
<ellipse cx="440.50" cy="305.46" rx="4.15" ry="4.14" transform="rotate(42.9 440.50 305.46)" fill="#f1a4a8" stroke="#f9d6d8" stroke-width="0.5"/>
<circle cx="440.50" cy="305.46" r="2.1" fill="#dc7682"/>
<ellipse cx="434.52" cy="310.87" rx="4.15" ry="4.14" transform="rotate(52.9 434.52 310.87)" fill="#f1a4a8" stroke="#f9d6d8" stroke-width="0.5"/>
<circle cx="434.52" cy="310.87" r="2.1" fill="#dc7682"/>
<ellipse cx="427.69" cy="315.16" rx="4.15" ry="4.14" transform="rotate(62.9 427.69 315.16)" fill="#f1a4a8" stroke="#f9d6d8" stroke-width="0.5"/>
<circle cx="427.69" cy="315.16" r="2.1" fill="#dc7682"/>
<ellipse cx="420.23" cy="318.20" rx="4.15" ry="4.14" transform="rotate(72.9 420.23 318.20)" fill="#f1a4a8" stroke="#f9d6d8" stroke-width="0.5"/>
<circle cx="420.23" cy="318.20" r="2.1" fill="#dc7682"/>
<ellipse cx="412.34" cy="319.89" rx="4.15" ry="4.14" transform="rotate(82.9 412.34 319.89)" fill="#f1a4a8" stroke="#f9d6d8" stroke-width="0.5"/>
<circle cx="412.34" cy="319.89" r="2.1" fill="#dc7682"/>
<ellipse cx="404.29" cy="320.19" rx="4.15" ry="4.14" transform="rotate(92.9 404.29 320.19)" fill="#f1a4a8" stroke="#f9d6d8" stroke-width="0.5"/>
<circle cx="404.29" cy="320.19" r="2.1" fill="#dc7682"/>
<ellipse cx="396.30" cy="319.09" rx="4.15" ry="4.14" transform="rotate(102.9 396.30 319.09)" fill="#f1a4a8" stroke="#f9d6d8" stroke-width="0.5"/>
<circle cx="396.30" cy="319.09" r="2.1" fill="#dc7682"/>
<ellipse cx="388.63" cy="316.62" rx="4.15" ry="4.14" transform="rotate(112.9 388.63 316.62)" fill="#f1a4a8" stroke="#f9d6d8" stroke-width="0.5"/>
<circle cx="388.63" cy="316.62" r="2.1" fill="#dc7682"/>
<ellipse cx="381.50" cy="312.85" rx="4.15" ry="4.14" transform="rotate(122.9 381.50 312.85)" fill="#f1a4a8" stroke="#f9d6d8" stroke-width="0.5"/>
<circle cx="381.50" cy="312.85" r="2.1" fill="#dc7682"/>
<ellipse cx="375.14" cy="307.90" rx="4.15" ry="4.14" transform="rotate(132.9 375.14 307.90)" fill="#f1a4a8" stroke="#f9d6d8" stroke-width="0.5"/>
<circle cx="375.14" cy="307.90" r="2.1" fill="#dc7682"/>
<ellipse cx="369.73" cy="301.92" rx="4.15" ry="4.14" transform="rotate(142.9 369.73 301.92)" fill="#f1a4a8" stroke="#f9d6d8" stroke-width="0.5"/>
<circle cx="369.73" cy="301.92" r="2.1" fill="#dc7682"/>
<ellipse cx="365.44" cy="295.09" rx="4.15" ry="4.14" transform="rotate(152.9 365.44 295.09)" fill="#f1a4a8" stroke="#f9d6d8" stroke-width="0.5"/>
<circle cx="365.44" cy="295.09" r="2.1" fill="#dc7682"/>
<ellipse cx="362.40" cy="287.63" rx="4.15" ry="4.14" transform="rotate(162.9 362.40 287.63)" fill="#f1a4a8" stroke="#f9d6d8" stroke-width="0.5"/>
<circle cx="362.40" cy="287.63" r="2.1" fill="#dc7682"/>
<ellipse cx="360.71" cy="279.74" rx="4.15" ry="4.14" transform="rotate(172.9 360.71 279.74)" fill="#f1a4a8" stroke="#f9d6d8" stroke-width="0.5"/>
<circle cx="360.71" cy="279.74" r="2.1" fill="#dc7682"/>
<ellipse cx="360.41" cy="271.69" rx="4.15" ry="4.14" transform="rotate(182.9 360.41 271.69)" fill="#f1a4a8" stroke="#f9d6d8" stroke-width="0.5"/>
<circle cx="360.41" cy="271.69" r="2.1" fill="#dc7682"/>
<ellipse cx="361.51" cy="263.70" rx="4.15" ry="4.14" transform="rotate(192.9 361.51 263.70)" fill="#f1a4a8" stroke="#f9d6d8" stroke-width="0.5"/>
<circle cx="361.51" cy="263.70" r="2.1" fill="#dc7682"/>
<ellipse cx="363.98" cy="256.03" rx="4.15" ry="4.14" transform="rotate(202.9 363.98 256.03)" fill="#f1a4a8" stroke="#f9d6d8" stroke-width="0.5"/>
<circle cx="363.98" cy="256.03" r="2.1" fill="#dc7682"/>
<ellipse cx="367.75" cy="248.90" rx="4.15" ry="4.14" transform="rotate(212.9 367.75 248.90)" fill="#f1a4a8" stroke="#f9d6d8" stroke-width="0.5"/>
<circle cx="367.75" cy="248.90" r="2.1" fill="#dc7682"/>
<ellipse cx="372.70" cy="242.54" rx="4.15" ry="4.14" transform="rotate(222.9 372.70 242.54)" fill="#f1a4a8" stroke="#f9d6d8" stroke-width="0.5"/>
<circle cx="372.70" cy="242.54" r="2.1" fill="#dc7682"/>
<ellipse cx="378.68" cy="237.13" rx="4.15" ry="4.14" transform="rotate(232.9 378.68 237.13)" fill="#f1a4a8" stroke="#f9d6d8" stroke-width="0.5"/>
<circle cx="378.68" cy="237.13" r="2.1" fill="#dc7682"/>
<ellipse cx="385.51" cy="232.84" rx="4.15" ry="4.14" transform="rotate(242.9 385.51 232.84)" fill="#f1a4a8" stroke="#f9d6d8" stroke-width="0.5"/>
<circle cx="385.51" cy="232.84" r="2.1" fill="#dc7682"/>
<ellipse cx="392.97" cy="229.80" rx="4.15" ry="4.14" transform="rotate(252.9 392.97 229.80)" fill="#f1a4a8" stroke="#f9d6d8" stroke-width="0.5"/>
<circle cx="392.97" cy="229.80" r="2.1" fill="#dc7682"/>
<ellipse cx="400.86" cy="228.11" rx="4.15" ry="4.14" transform="rotate(262.9 400.86 228.11)" fill="#f1a4a8" stroke="#f9d6d8" stroke-width="0.5"/>
<circle cx="400.86" cy="228.11" r="2.1" fill="#dc7682"/>
<ellipse cx="408.91" cy="227.81" rx="4.15" ry="4.14" transform="rotate(272.9 408.91 227.81)" fill="#f1a4a8" stroke="#f9d6d8" stroke-width="0.5"/>
<circle cx="408.91" cy="227.81" r="2.1" fill="#dc7682"/>
<ellipse cx="416.90" cy="228.91" rx="4.15" ry="4.14" transform="rotate(282.9 416.90 228.91)" fill="#f1a4a8" stroke="#f9d6d8" stroke-width="0.5"/>
<circle cx="416.90" cy="228.91" r="2.1" fill="#dc7682"/>
<ellipse cx="424.57" cy="231.38" rx="4.15" ry="4.14" transform="rotate(292.9 424.57 231.38)" fill="#f1a4a8" stroke="#f9d6d8" stroke-width="0.5"/>
<circle cx="424.57" cy="231.38" r="2.1" fill="#dc7682"/>
<ellipse cx="431.70" cy="235.15" rx="4.15" ry="4.14" transform="rotate(302.9 431.70 235.15)" fill="#f1a4a8" stroke="#f9d6d8" stroke-width="0.5"/>
<circle cx="431.70" cy="235.15" r="2.1" fill="#dc7682"/>
<ellipse cx="438.06" cy="240.10" rx="4.15" ry="4.14" transform="rotate(312.9 438.06 240.10)" fill="#f1a4a8" stroke="#f9d6d8" stroke-width="0.5"/>
<circle cx="438.06" cy="240.10" r="2.1" fill="#dc7682"/>
<ellipse cx="443.47" cy="246.08" rx="4.15" ry="4.14" transform="rotate(322.9 443.47 246.08)" fill="#f1a4a8" stroke="#f9d6d8" stroke-width="0.5"/>
<circle cx="443.47" cy="246.08" r="2.1" fill="#dc7682"/>
<ellipse cx="447.76" cy="252.91" rx="4.15" ry="4.14" transform="rotate(332.9 447.76 252.91)" fill="#f1a4a8" stroke="#f9d6d8" stroke-width="0.5"/>
<circle cx="447.76" cy="252.91" r="2.1" fill="#dc7682"/>
<ellipse cx="450.80" cy="260.37" rx="4.15" ry="4.14" transform="rotate(342.9 450.80 260.37)" fill="#f1a4a8" stroke="#f9d6d8" stroke-width="0.5"/>
<circle cx="450.80" cy="260.37" r="2.1" fill="#dc7682"/>
<ellipse cx="452.49" cy="268.26" rx="4.15" ry="4.14" transform="rotate(352.9 452.49 268.26)" fill="#f1a4a8" stroke="#f9d6d8" stroke-width="0.5"/>
<circle cx="452.49" cy="268.26" r="2.1" fill="#dc7682"/>
<circle cx="406.6" cy="274.0" r="41.70" fill="#fbe5e6"/>
</g>
<g id="legend">
<rect x="328.2" y="379" width="18" height="13.4" rx="6.4" fill="#f5b6bc" stroke="#f8ccd0" stroke-width="0.5"/>
<circle cx="337.2" cy="385.7" r="4.4" fill="#de7882"/>
<rect x="346.2" y="379" width="18" height="13.4" rx="6.4" fill="#f5b6bc" stroke="#f8ccd0" stroke-width="0.5"/>
<circle cx="355.2" cy="385.7" r="4.4" fill="#de7882"/>
<rect x="364.3" y="379" width="18" height="13.4" rx="6.4" fill="#f5b6bc" stroke="#f8ccd0" stroke-width="0.5"/>
<circle cx="373.3" cy="385.7" r="4.4" fill="#de7882"/>
<rect x="328.2" y="397.2" width="53.8" height="7.6" rx="3.8" fill="#a084c2"/>
<rect x="328.2" y="397.2" width="53.8" height="3.6" rx="3.2" fill="#ab91c9" opacity="0.7"/>
<ellipse cx="368.5" cy="400.9" rx="4.3" ry="2.3" fill="#68438f"/>
<rect x="328.2" y="413.7" width="53.6" height="4.4" fill="#b5d4ee"/>
<text x="389.3" y="389.1" font-size="10.0" font-weight="normal" letter-spacing="0.1" fill="#252324" textLength="54.4" lengthAdjust="spacingAndGlyphs">Luminal cell</text>
<text x="389.3" y="404.1" font-size="10.0" font-weight="normal" letter-spacing="0.15" fill="#252324" textLength="74.3" lengthAdjust="spacingAndGlyphs">Myopithelial cell</text>
<text x="389.3" y="418.8" font-size="10.0" font-weight="normal" letter-spacing="0.05" fill="#252324" textLength="97.2" lengthAdjust="spacingAndGlyphs">Basement membrane</text>
</g>
</g>
<g id="panelB">
<text x="530.9" y="19.1" font-size="13" font-weight="bold" fill="#111" textLength="9.2" lengthAdjust="spacingAndGlyphs">B</text>
<text x="568.5" y="18.5" font-size="12.3" font-weight="bold" letter-spacing="0.55" fill="#222" textLength="171.2" lengthAdjust="spacingAndGlyphs">Breast cancer progression</text>
<text x="534.6" y="66.9" font-size="10.0" font-weight="normal" stroke="#2c2a2b" stroke-width="0.4" stroke-linejoin="round" letter-spacing="0.9" fill="#2c2a2b" textLength="77.5" lengthAdjust="spacingAndGlyphs">Normal breast</text>
<text x="544.7" y="78.9" font-size="10.0" font-weight="normal" stroke="#2c2a2b" stroke-width="0.4" stroke-linejoin="round" letter-spacing="0.9" fill="#2c2a2b" textLength="57.0" lengthAdjust="spacingAndGlyphs">epithelium</text>
<circle cx="666.6" cy="69.4" r="41.35" fill="none" stroke="#a6cdea" stroke-width="1.70"/>
<circle cx="666.6" cy="69.4" r="40.80" fill="#9c84bc"/>
<circle cx="666.6" cy="69.4" r="36.90" fill="#f6c9cd"/>
<ellipse cx="701.54" cy="86.28" rx="2.48" ry="1.32" transform="rotate(115.8 701.54 86.28)" fill="#5e3c8c"/>
<ellipse cx="684.95" cy="103.59" rx="2.48" ry="1.32" transform="rotate(151.8 684.95 103.59)" fill="#5e3c8c"/>
<ellipse cx="661.35" cy="107.84" rx="2.48" ry="1.32" transform="rotate(187.8 661.35 107.84)" fill="#5e3c8c"/>
<ellipse cx="639.75" cy="97.41" rx="2.48" ry="1.32" transform="rotate(223.8 639.75 97.41)" fill="#5e3c8c"/>
<ellipse cx="628.42" cy="76.28" rx="2.48" ry="1.32" transform="rotate(259.8 628.42 76.28)" fill="#5e3c8c"/>
<ellipse cx="631.66" cy="52.52" rx="2.48" ry="1.32" transform="rotate(295.8 631.66 52.52)" fill="#5e3c8c"/>
<ellipse cx="648.25" cy="35.21" rx="2.48" ry="1.32" transform="rotate(331.8 648.25 35.21)" fill="#5e3c8c"/>
<ellipse cx="671.85" cy="30.96" rx="2.48" ry="1.32" transform="rotate(367.8 671.85 30.96)" fill="#5e3c8c"/>
<ellipse cx="693.45" cy="41.39" rx="2.48" ry="1.32" transform="rotate(403.8 693.45 41.39)" fill="#5e3c8c"/>
<ellipse cx="704.78" cy="62.52" rx="2.48" ry="1.32" transform="rotate(439.8 704.78 62.52)" fill="#5e3c8c"/>
<circle cx="699.83" cy="72.73" r="3.65" fill="#f4b4ba" stroke="#fbe3e5" stroke-width="0.35"/>
<circle cx="698.75" cy="78.45" r="3.65" fill="#f4b4ba" stroke="#fbe3e5" stroke-width="0.35"/>
<circle cx="696.69" cy="83.90" r="3.65" fill="#f4b4ba" stroke="#fbe3e5" stroke-width="0.35"/>
<circle cx="693.71" cy="88.90" r="3.65" fill="#f4b4ba" stroke="#fbe3e5" stroke-width="0.35"/>
<circle cx="689.91" cy="93.32" r="3.65" fill="#f4b4ba" stroke="#fbe3e5" stroke-width="0.35"/>
<circle cx="685.41" cy="97.00" r="3.65" fill="#f4b4ba" stroke="#fbe3e5" stroke-width="0.35"/>
<circle cx="680.33" cy="99.85" r="3.65" fill="#f4b4ba" stroke="#fbe3e5" stroke-width="0.35"/>
<circle cx="674.83" cy="101.77" r="3.65" fill="#f4b4ba" stroke="#fbe3e5" stroke-width="0.35"/>
<circle cx="669.09" cy="102.71" r="3.65" fill="#f4b4ba" stroke="#fbe3e5" stroke-width="0.35"/>
<circle cx="663.27" cy="102.63" r="3.65" fill="#f4b4ba" stroke="#fbe3e5" stroke-width="0.35"/>
<circle cx="657.55" cy="101.55" r="3.65" fill="#f4b4ba" stroke="#fbe3e5" stroke-width="0.35"/>
<circle cx="652.10" cy="99.49" r="3.65" fill="#f4b4ba" stroke="#fbe3e5" stroke-width="0.35"/>
<circle cx="647.10" cy="96.51" r="3.65" fill="#f4b4ba" stroke="#fbe3e5" stroke-width="0.35"/>
<circle cx="642.68" cy="92.71" r="3.65" fill="#f4b4ba" stroke="#fbe3e5" stroke-width="0.35"/>
<circle cx="639.00" cy="88.21" r="3.65" fill="#f4b4ba" stroke="#fbe3e5" stroke-width="0.35"/>
<circle cx="636.15" cy="83.13" r="3.65" fill="#f4b4ba" stroke="#fbe3e5" stroke-width="0.35"/>
<circle cx="634.23" cy="77.63" r="3.65" fill="#f4b4ba" stroke="#fbe3e5" stroke-width="0.35"/>
<circle cx="633.29" cy="71.89" r="3.65" fill="#f4b4ba" stroke="#fbe3e5" stroke-width="0.35"/>
<circle cx="633.37" cy="66.07" r="3.65" fill="#f4b4ba" stroke="#fbe3e5" stroke-width="0.35"/>
<circle cx="634.45" cy="60.35" r="3.65" fill="#f4b4ba" stroke="#fbe3e5" stroke-width="0.35"/>
<circle cx="636.51" cy="54.90" r="3.65" fill="#f4b4ba" stroke="#fbe3e5" stroke-width="0.35"/>
<circle cx="639.49" cy="49.90" r="3.65" fill="#f4b4ba" stroke="#fbe3e5" stroke-width="0.35"/>
<circle cx="643.29" cy="45.48" r="3.65" fill="#f4b4ba" stroke="#fbe3e5" stroke-width="0.35"/>
<circle cx="647.79" cy="41.80" r="3.65" fill="#f4b4ba" stroke="#fbe3e5" stroke-width="0.35"/>
<circle cx="652.87" cy="38.95" r="3.65" fill="#f4b4ba" stroke="#fbe3e5" stroke-width="0.35"/>
<circle cx="658.37" cy="37.03" r="3.65" fill="#f4b4ba" stroke="#fbe3e5" stroke-width="0.35"/>
<circle cx="664.11" cy="36.09" r="3.65" fill="#f4b4ba" stroke="#fbe3e5" stroke-width="0.35"/>
<circle cx="669.93" cy="36.17" r="3.65" fill="#f4b4ba" stroke="#fbe3e5" stroke-width="0.35"/>
<circle cx="675.65" cy="37.25" r="3.65" fill="#f4b4ba" stroke="#fbe3e5" stroke-width="0.35"/>
<circle cx="681.10" cy="39.31" r="3.65" fill="#f4b4ba" stroke="#fbe3e5" stroke-width="0.35"/>
<circle cx="686.10" cy="42.29" r="3.65" fill="#f4b4ba" stroke="#fbe3e5" stroke-width="0.35"/>
<circle cx="690.52" cy="46.09" r="3.65" fill="#f4b4ba" stroke="#fbe3e5" stroke-width="0.35"/>
<circle cx="694.20" cy="50.59" r="3.65" fill="#f4b4ba" stroke="#fbe3e5" stroke-width="0.35"/>
<circle cx="697.05" cy="55.67" r="3.65" fill="#f4b4ba" stroke="#fbe3e5" stroke-width="0.35"/>
<circle cx="698.97" cy="61.17" r="3.65" fill="#f4b4ba" stroke="#fbe3e5" stroke-width="0.35"/>
<circle cx="699.91" cy="66.91" r="3.65" fill="#f4b4ba" stroke="#fbe3e5" stroke-width="0.35"/>
<circle cx="699.83" cy="72.73" r="1.70" fill="#df7a85"/>
<circle cx="698.75" cy="78.45" r="1.70" fill="#df7a85"/>
<circle cx="696.69" cy="83.90" r="1.70" fill="#df7a85"/>
<circle cx="693.71" cy="88.90" r="1.70" fill="#df7a85"/>
<circle cx="689.91" cy="93.32" r="1.70" fill="#df7a85"/>
<circle cx="685.41" cy="97.00" r="1.70" fill="#df7a85"/>
<circle cx="680.33" cy="99.85" r="1.70" fill="#df7a85"/>
<circle cx="674.83" cy="101.77" r="1.70" fill="#df7a85"/>
<circle cx="669.09" cy="102.71" r="1.70" fill="#df7a85"/>
<circle cx="663.27" cy="102.63" r="1.70" fill="#df7a85"/>
<circle cx="657.55" cy="101.55" r="1.70" fill="#df7a85"/>
<circle cx="652.10" cy="99.49" r="1.70" fill="#df7a85"/>
<circle cx="647.10" cy="96.51" r="1.70" fill="#df7a85"/>
<circle cx="642.68" cy="92.71" r="1.70" fill="#df7a85"/>
<circle cx="639.00" cy="88.21" r="1.70" fill="#df7a85"/>
<circle cx="636.15" cy="83.13" r="1.70" fill="#df7a85"/>
<circle cx="634.23" cy="77.63" r="1.70" fill="#df7a85"/>
<circle cx="633.29" cy="71.89" r="1.70" fill="#df7a85"/>
<circle cx="633.37" cy="66.07" r="1.70" fill="#df7a85"/>
<circle cx="634.45" cy="60.35" r="1.70" fill="#df7a85"/>
<circle cx="636.51" cy="54.90" r="1.70" fill="#df7a85"/>
<circle cx="639.49" cy="49.90" r="1.70" fill="#df7a85"/>
<circle cx="643.29" cy="45.48" r="1.70" fill="#df7a85"/>
<circle cx="647.79" cy="41.80" r="1.70" fill="#df7a85"/>
<circle cx="652.87" cy="38.95" r="1.70" fill="#df7a85"/>
<circle cx="658.37" cy="37.03" r="1.70" fill="#df7a85"/>
<circle cx="664.11" cy="36.09" r="1.70" fill="#df7a85"/>
<circle cx="669.93" cy="36.17" r="1.70" fill="#df7a85"/>
<circle cx="675.65" cy="37.25" r="1.70" fill="#df7a85"/>
<circle cx="681.10" cy="39.31" r="1.70" fill="#df7a85"/>
<circle cx="686.10" cy="42.29" r="1.70" fill="#df7a85"/>
<circle cx="690.52" cy="46.09" r="1.70" fill="#df7a85"/>
<circle cx="694.20" cy="50.59" r="1.70" fill="#df7a85"/>
<circle cx="697.05" cy="55.67" r="1.70" fill="#df7a85"/>
<circle cx="698.97" cy="61.17" r="1.70" fill="#df7a85"/>
<circle cx="699.91" cy="66.91" r="1.70" fill="#df7a85"/>
<circle cx="666.6" cy="69.4" r="30.00" fill="#fbe4e6"/>
<path d="M668.5,116.2 V126.19999999999999" stroke="#1a1a1a" stroke-width="1.7" fill="none"/>
<path d="M665.5,123.6 L668.5,130.6 L671.5,123.6 L668.5,125.6 Z" fill="#1a1a1a"/>
<text x="540.7" y="177.8" font-size="10.0" font-weight="normal" stroke="#2c2a2b" stroke-width="0.4" stroke-linejoin="round" letter-spacing="0.9" fill="#2c2a2b" textLength="65.3" lengthAdjust="spacingAndGlyphs">Hyperplasia</text>
<circle cx="666.6" cy="174.4" r="41.35" fill="none" stroke="#a6cdea" stroke-width="1.70"/>
<circle cx="666.6" cy="174.4" r="40.80" fill="#9c84bc"/>
<circle cx="666.6" cy="174.4" r="36.90" fill="#f6c9cd"/>
<ellipse cx="698.62" cy="196.31" rx="2.48" ry="1.32" transform="rotate(124.4 698.62 196.31)" fill="#5e3c8c"/>
<ellipse cx="679.63" cy="210.95" rx="2.48" ry="1.32" transform="rotate(160.4 679.63 210.95)" fill="#5e3c8c"/>
<ellipse cx="655.66" cy="211.63" rx="2.48" ry="1.32" transform="rotate(196.4 655.66 211.63)" fill="#5e3c8c"/>
<ellipse cx="635.87" cy="198.09" rx="2.48" ry="1.32" transform="rotate(232.4 635.87 198.09)" fill="#5e3c8c"/>
<ellipse cx="627.82" cy="175.50" rx="2.48" ry="1.32" transform="rotate(268.4 627.82 175.50)" fill="#5e3c8c"/>
<ellipse cx="634.58" cy="152.49" rx="2.48" ry="1.32" transform="rotate(304.4 634.58 152.49)" fill="#5e3c8c"/>
<ellipse cx="653.57" cy="137.85" rx="2.48" ry="1.32" transform="rotate(340.4 653.57 137.85)" fill="#5e3c8c"/>
<ellipse cx="677.54" cy="137.17" rx="2.48" ry="1.32" transform="rotate(376.4 677.54 137.17)" fill="#5e3c8c"/>
<ellipse cx="697.33" cy="150.71" rx="2.48" ry="1.32" transform="rotate(412.4 697.33 150.71)" fill="#5e3c8c"/>
<ellipse cx="705.38" cy="173.30" rx="2.48" ry="1.32" transform="rotate(448.4 705.38 173.30)" fill="#5e3c8c"/>
<circle cx="698.96" cy="182.66" r="3.65" fill="#f4b4ba" stroke="#fbe3e5" stroke-width="0.35"/>
<circle cx="697.04" cy="188.16" r="3.65" fill="#f4b4ba" stroke="#fbe3e5" stroke-width="0.35"/>
<circle cx="694.18" cy="193.23" r="3.65" fill="#f4b4ba" stroke="#fbe3e5" stroke-width="0.35"/>
<circle cx="690.49" cy="197.74" r="3.65" fill="#f4b4ba" stroke="#fbe3e5" stroke-width="0.35"/>
<circle cx="686.08" cy="201.53" r="3.65" fill="#f4b4ba" stroke="#fbe3e5" stroke-width="0.35"/>
<circle cx="681.07" cy="204.50" r="3.65" fill="#f4b4ba" stroke="#fbe3e5" stroke-width="0.35"/>
<circle cx="675.62" cy="206.56" r="3.65" fill="#f4b4ba" stroke="#fbe3e5" stroke-width="0.35"/>
<circle cx="669.90" cy="207.64" r="3.65" fill="#f4b4ba" stroke="#fbe3e5" stroke-width="0.35"/>
<circle cx="664.08" cy="207.70" r="3.65" fill="#f4b4ba" stroke="#fbe3e5" stroke-width="0.35"/>
<circle cx="658.34" cy="206.76" r="3.65" fill="#f4b4ba" stroke="#fbe3e5" stroke-width="0.35"/>
<circle cx="652.84" cy="204.84" r="3.65" fill="#f4b4ba" stroke="#fbe3e5" stroke-width="0.35"/>
<circle cx="647.77" cy="201.98" r="3.65" fill="#f4b4ba" stroke="#fbe3e5" stroke-width="0.35"/>
<circle cx="643.26" cy="198.29" r="3.65" fill="#f4b4ba" stroke="#fbe3e5" stroke-width="0.35"/>
<circle cx="639.47" cy="193.88" r="3.65" fill="#f4b4ba" stroke="#fbe3e5" stroke-width="0.35"/>
<circle cx="636.50" cy="188.87" r="3.65" fill="#f4b4ba" stroke="#fbe3e5" stroke-width="0.35"/>
<circle cx="634.44" cy="183.42" r="3.65" fill="#f4b4ba" stroke="#fbe3e5" stroke-width="0.35"/>
<circle cx="633.36" cy="177.70" r="3.65" fill="#f4b4ba" stroke="#fbe3e5" stroke-width="0.35"/>
<circle cx="633.30" cy="171.88" r="3.65" fill="#f4b4ba" stroke="#fbe3e5" stroke-width="0.35"/>
<circle cx="634.24" cy="166.14" r="3.65" fill="#f4b4ba" stroke="#fbe3e5" stroke-width="0.35"/>
<circle cx="636.16" cy="160.64" r="3.65" fill="#f4b4ba" stroke="#fbe3e5" stroke-width="0.35"/>
<circle cx="639.02" cy="155.57" r="3.65" fill="#f4b4ba" stroke="#fbe3e5" stroke-width="0.35"/>
<circle cx="642.71" cy="151.06" r="3.65" fill="#f4b4ba" stroke="#fbe3e5" stroke-width="0.35"/>
<circle cx="647.12" cy="147.27" r="3.65" fill="#f4b4ba" stroke="#fbe3e5" stroke-width="0.35"/>
<circle cx="652.13" cy="144.30" r="3.65" fill="#f4b4ba" stroke="#fbe3e5" stroke-width="0.35"/>
<circle cx="657.58" cy="142.24" r="3.65" fill="#f4b4ba" stroke="#fbe3e5" stroke-width="0.35"/>
<circle cx="663.30" cy="141.16" r="3.65" fill="#f4b4ba" stroke="#fbe3e5" stroke-width="0.35"/>
<circle cx="669.12" cy="141.10" r="3.65" fill="#f4b4ba" stroke="#fbe3e5" stroke-width="0.35"/>
<circle cx="674.86" cy="142.04" r="3.65" fill="#f4b4ba" stroke="#fbe3e5" stroke-width="0.35"/>
<circle cx="680.36" cy="143.96" r="3.65" fill="#f4b4ba" stroke="#fbe3e5" stroke-width="0.35"/>
<circle cx="685.43" cy="146.82" r="3.65" fill="#f4b4ba" stroke="#fbe3e5" stroke-width="0.35"/>
<circle cx="689.94" cy="150.51" r="3.65" fill="#f4b4ba" stroke="#fbe3e5" stroke-width="0.35"/>
<circle cx="693.73" cy="154.92" r="3.65" fill="#f4b4ba" stroke="#fbe3e5" stroke-width="0.35"/>
<circle cx="696.70" cy="159.93" r="3.65" fill="#f4b4ba" stroke="#fbe3e5" stroke-width="0.35"/>
<circle cx="698.76" cy="165.38" r="3.65" fill="#f4b4ba" stroke="#fbe3e5" stroke-width="0.35"/>
<circle cx="699.84" cy="171.10" r="3.65" fill="#f4b4ba" stroke="#fbe3e5" stroke-width="0.35"/>
<circle cx="699.90" cy="176.92" r="3.65" fill="#f4b4ba" stroke="#fbe3e5" stroke-width="0.35"/>
<circle cx="698.96" cy="182.66" r="1.70" fill="#df7a85"/>
<circle cx="697.04" cy="188.16" r="1.70" fill="#df7a85"/>
<circle cx="694.18" cy="193.23" r="1.70" fill="#df7a85"/>
<circle cx="690.49" cy="197.74" r="1.70" fill="#df7a85"/>
<circle cx="686.08" cy="201.53" r="1.70" fill="#df7a85"/>
<circle cx="681.07" cy="204.50" r="1.70" fill="#df7a85"/>
<circle cx="675.62" cy="206.56" r="1.70" fill="#df7a85"/>
<circle cx="669.90" cy="207.64" r="1.70" fill="#df7a85"/>
<circle cx="664.08" cy="207.70" r="1.70" fill="#df7a85"/>
<circle cx="658.34" cy="206.76" r="1.70" fill="#df7a85"/>
<circle cx="652.84" cy="204.84" r="1.70" fill="#df7a85"/>
<circle cx="647.77" cy="201.98" r="1.70" fill="#df7a85"/>
<circle cx="643.26" cy="198.29" r="1.70" fill="#df7a85"/>
<circle cx="639.47" cy="193.88" r="1.70" fill="#df7a85"/>
<circle cx="636.50" cy="188.87" r="1.70" fill="#df7a85"/>
<circle cx="634.44" cy="183.42" r="1.70" fill="#df7a85"/>
<circle cx="633.36" cy="177.70" r="1.70" fill="#df7a85"/>
<circle cx="633.30" cy="171.88" r="1.70" fill="#df7a85"/>
<circle cx="634.24" cy="166.14" r="1.70" fill="#df7a85"/>
<circle cx="636.16" cy="160.64" r="1.70" fill="#df7a85"/>
<circle cx="639.02" cy="155.57" r="1.70" fill="#df7a85"/>
<circle cx="642.71" cy="151.06" r="1.70" fill="#df7a85"/>
<circle cx="647.12" cy="147.27" r="1.70" fill="#df7a85"/>
<circle cx="652.13" cy="144.30" r="1.70" fill="#df7a85"/>
<circle cx="657.58" cy="142.24" r="1.70" fill="#df7a85"/>
<circle cx="663.30" cy="141.16" r="1.70" fill="#df7a85"/>
<circle cx="669.12" cy="141.10" r="1.70" fill="#df7a85"/>
<circle cx="674.86" cy="142.04" r="1.70" fill="#df7a85"/>
<circle cx="680.36" cy="143.96" r="1.70" fill="#df7a85"/>
<circle cx="685.43" cy="146.82" r="1.70" fill="#df7a85"/>
<circle cx="689.94" cy="150.51" r="1.70" fill="#df7a85"/>
<circle cx="693.73" cy="154.92" r="1.70" fill="#df7a85"/>
<circle cx="696.70" cy="159.93" r="1.70" fill="#df7a85"/>
<circle cx="698.76" cy="165.38" r="1.70" fill="#df7a85"/>
<circle cx="699.84" cy="171.10" r="1.70" fill="#df7a85"/>
<circle cx="699.90" cy="176.92" r="1.70" fill="#df7a85"/>
<circle cx="666.6" cy="174.4" r="30.00" fill="#fbe4e6"/>
<circle cx="652.9" cy="152.4" r="5.65" fill="#f06650"/>
<circle cx="653.1" cy="152.6" r="3.11" fill="#e5483a"/>
<circle cx="645.1" cy="159.7" r="5.65" fill="#f06650"/>
<circle cx="645.3" cy="159.9" r="3.11" fill="#e5483a"/>
<circle cx="642.2" cy="185.5" r="5.65" fill="#f06650"/>
<circle cx="642.4" cy="185.7" r="3.11" fill="#e5483a"/>
<circle cx="658.1" cy="187.7" r="5.65" fill="#f06650"/>
<circle cx="658.3" cy="187.9" r="3.11" fill="#e5483a"/>
<circle cx="649.0" cy="193.9" r="5.65" fill="#f06650"/>
<circle cx="649.2" cy="194.1" r="3.11" fill="#e5483a"/>
<circle cx="659.7" cy="199.6" r="5.65" fill="#f06650"/>
<circle cx="659.9" cy="199.8" r="3.11" fill="#e5483a"/>
<path d="M668.5,220.8 V230.6" stroke="#1a1a1a" stroke-width="1.7" fill="none"/>
<path d="M665.5,228.0 L668.5,235.0 L671.5,228.0 L668.5,230.0 Z" fill="#1a1a1a"/>
<text x="543.9" y="276.7" font-size="10.0" font-weight="normal" stroke="#2c2a2b" stroke-width="0.4" stroke-linejoin="round" letter-spacing="0.9" fill="#2c2a2b" textLength="58.7" lengthAdjust="spacingAndGlyphs">Carcinoma</text>
<text x="556.3" y="288.5" font-size="10.0" font-weight="normal" font-style="italic" stroke="#2c2a2b" stroke-width="0.3" stroke-linejoin="round" letter-spacing="0.9" fill="#2c2a2b" textLength="33.7" lengthAdjust="spacingAndGlyphs">in situ</text>
<circle cx="666.6" cy="278.8" r="41.35" fill="none" stroke="#a6cdea" stroke-width="1.70"/>
<circle cx="666.6" cy="278.8" r="40.80" fill="#9c84bc"/>
<circle cx="666.6" cy="278.8" r="36.90" fill="#f6c9cd"/>
<ellipse cx="694.99" cy="305.25" rx="2.48" ry="1.32" transform="rotate(133.0 694.99 305.25)" fill="#5e3c8c"/>
<ellipse cx="674.02" cy="316.88" rx="2.48" ry="1.32" transform="rotate(169.0 674.02 316.88)" fill="#5e3c8c"/>
<ellipse cx="650.22" cy="313.97" rx="2.48" ry="1.32" transform="rotate(205.0 650.22 313.97)" fill="#5e3c8c"/>
<ellipse cx="632.67" cy="297.63" rx="2.48" ry="1.32" transform="rotate(241.0 632.67 297.63)" fill="#5e3c8c"/>
<ellipse cx="628.09" cy="274.09" rx="2.48" ry="1.32" transform="rotate(277.0 628.09 274.09)" fill="#5e3c8c"/>
<ellipse cx="638.21" cy="252.35" rx="2.48" ry="1.32" transform="rotate(313.0 638.21 252.35)" fill="#5e3c8c"/>
<ellipse cx="659.18" cy="240.72" rx="2.48" ry="1.32" transform="rotate(349.0 659.18 240.72)" fill="#5e3c8c"/>
<ellipse cx="682.98" cy="243.63" rx="2.48" ry="1.32" transform="rotate(385.0 682.98 243.63)" fill="#5e3c8c"/>
<ellipse cx="700.53" cy="259.97" rx="2.48" ry="1.32" transform="rotate(421.0 700.53 259.97)" fill="#5e3c8c"/>
<ellipse cx="705.11" cy="283.51" rx="2.48" ry="1.32" transform="rotate(457.0 705.11 283.51)" fill="#5e3c8c"/>
<circle cx="697.36" cy="291.81" r="3.65" fill="#f4b4ba" stroke="#fbe3e5" stroke-width="0.35"/>
<circle cx="694.64" cy="296.95" r="3.65" fill="#f4b4ba" stroke="#fbe3e5" stroke-width="0.35"/>
<circle cx="691.06" cy="301.54" r="3.65" fill="#f4b4ba" stroke="#fbe3e5" stroke-width="0.35"/>
<circle cx="686.74" cy="305.45" r="3.65" fill="#f4b4ba" stroke="#fbe3e5" stroke-width="0.35"/>
<circle cx="681.81" cy="308.54" r="3.65" fill="#f4b4ba" stroke="#fbe3e5" stroke-width="0.35"/>
<circle cx="676.41" cy="310.73" r="3.65" fill="#f4b4ba" stroke="#fbe3e5" stroke-width="0.35"/>
<circle cx="670.72" cy="311.95" r="3.65" fill="#f4b4ba" stroke="#fbe3e5" stroke-width="0.35"/>
<circle cx="664.90" cy="312.16" r="3.65" fill="#f4b4ba" stroke="#fbe3e5" stroke-width="0.35"/>
<circle cx="659.13" cy="311.35" r="3.65" fill="#f4b4ba" stroke="#fbe3e5" stroke-width="0.35"/>
<circle cx="653.59" cy="309.56" r="3.65" fill="#f4b4ba" stroke="#fbe3e5" stroke-width="0.35"/>
<circle cx="648.45" cy="306.84" r="3.65" fill="#f4b4ba" stroke="#fbe3e5" stroke-width="0.35"/>
<circle cx="643.86" cy="303.26" r="3.65" fill="#f4b4ba" stroke="#fbe3e5" stroke-width="0.35"/>
<circle cx="639.95" cy="298.94" r="3.65" fill="#f4b4ba" stroke="#fbe3e5" stroke-width="0.35"/>
<circle cx="636.86" cy="294.01" r="3.65" fill="#f4b4ba" stroke="#fbe3e5" stroke-width="0.35"/>
<circle cx="634.67" cy="288.61" r="3.65" fill="#f4b4ba" stroke="#fbe3e5" stroke-width="0.35"/>
<circle cx="633.45" cy="282.92" r="3.65" fill="#f4b4ba" stroke="#fbe3e5" stroke-width="0.35"/>
<circle cx="633.24" cy="277.10" r="3.65" fill="#f4b4ba" stroke="#fbe3e5" stroke-width="0.35"/>
<circle cx="634.05" cy="271.33" r="3.65" fill="#f4b4ba" stroke="#fbe3e5" stroke-width="0.35"/>
<circle cx="635.84" cy="265.79" r="3.65" fill="#f4b4ba" stroke="#fbe3e5" stroke-width="0.35"/>
<circle cx="638.56" cy="260.65" r="3.65" fill="#f4b4ba" stroke="#fbe3e5" stroke-width="0.35"/>
<circle cx="642.14" cy="256.06" r="3.65" fill="#f4b4ba" stroke="#fbe3e5" stroke-width="0.35"/>
<circle cx="646.46" cy="252.15" r="3.65" fill="#f4b4ba" stroke="#fbe3e5" stroke-width="0.35"/>
<circle cx="651.39" cy="249.06" r="3.65" fill="#f4b4ba" stroke="#fbe3e5" stroke-width="0.35"/>
<circle cx="656.79" cy="246.87" r="3.65" fill="#f4b4ba" stroke="#fbe3e5" stroke-width="0.35"/>
<circle cx="662.48" cy="245.65" r="3.65" fill="#f4b4ba" stroke="#fbe3e5" stroke-width="0.35"/>
<circle cx="668.30" cy="245.44" r="3.65" fill="#f4b4ba" stroke="#fbe3e5" stroke-width="0.35"/>
<circle cx="674.07" cy="246.25" r="3.65" fill="#f4b4ba" stroke="#fbe3e5" stroke-width="0.35"/>
<circle cx="679.61" cy="248.04" r="3.65" fill="#f4b4ba" stroke="#fbe3e5" stroke-width="0.35"/>
<circle cx="684.75" cy="250.76" r="3.65" fill="#f4b4ba" stroke="#fbe3e5" stroke-width="0.35"/>
<circle cx="689.34" cy="254.34" r="3.65" fill="#f4b4ba" stroke="#fbe3e5" stroke-width="0.35"/>
<circle cx="693.25" cy="258.66" r="3.65" fill="#f4b4ba" stroke="#fbe3e5" stroke-width="0.35"/>
<circle cx="696.34" cy="263.59" r="3.65" fill="#f4b4ba" stroke="#fbe3e5" stroke-width="0.35"/>
<circle cx="698.53" cy="268.99" r="3.65" fill="#f4b4ba" stroke="#fbe3e5" stroke-width="0.35"/>
<circle cx="699.75" cy="274.68" r="3.65" fill="#f4b4ba" stroke="#fbe3e5" stroke-width="0.35"/>
<circle cx="699.96" cy="280.50" r="3.65" fill="#f4b4ba" stroke="#fbe3e5" stroke-width="0.35"/>
<circle cx="699.15" cy="286.27" r="3.65" fill="#f4b4ba" stroke="#fbe3e5" stroke-width="0.35"/>
<circle cx="697.36" cy="291.81" r="1.70" fill="#df7a85"/>
<circle cx="694.64" cy="296.95" r="1.70" fill="#df7a85"/>
<circle cx="691.06" cy="301.54" r="1.70" fill="#df7a85"/>
<circle cx="686.74" cy="305.45" r="1.70" fill="#df7a85"/>
<circle cx="681.81" cy="308.54" r="1.70" fill="#df7a85"/>
<circle cx="676.41" cy="310.73" r="1.70" fill="#df7a85"/>
<circle cx="670.72" cy="311.95" r="1.70" fill="#df7a85"/>
<circle cx="664.90" cy="312.16" r="1.70" fill="#df7a85"/>
<circle cx="659.13" cy="311.35" r="1.70" fill="#df7a85"/>
<circle cx="653.59" cy="309.56" r="1.70" fill="#df7a85"/>
<circle cx="648.45" cy="306.84" r="1.70" fill="#df7a85"/>
<circle cx="643.86" cy="303.26" r="1.70" fill="#df7a85"/>
<circle cx="639.95" cy="298.94" r="1.70" fill="#df7a85"/>
<circle cx="636.86" cy="294.01" r="1.70" fill="#df7a85"/>
<circle cx="634.67" cy="288.61" r="1.70" fill="#df7a85"/>
<circle cx="633.45" cy="282.92" r="1.70" fill="#df7a85"/>
<circle cx="633.24" cy="277.10" r="1.70" fill="#df7a85"/>
<circle cx="634.05" cy="271.33" r="1.70" fill="#df7a85"/>
<circle cx="635.84" cy="265.79" r="1.70" fill="#df7a85"/>
<circle cx="638.56" cy="260.65" r="1.70" fill="#df7a85"/>
<circle cx="642.14" cy="256.06" r="1.70" fill="#df7a85"/>
<circle cx="646.46" cy="252.15" r="1.70" fill="#df7a85"/>
<circle cx="651.39" cy="249.06" r="1.70" fill="#df7a85"/>
<circle cx="656.79" cy="246.87" r="1.70" fill="#df7a85"/>
<circle cx="662.48" cy="245.65" r="1.70" fill="#df7a85"/>
<circle cx="668.30" cy="245.44" r="1.70" fill="#df7a85"/>
<circle cx="674.07" cy="246.25" r="1.70" fill="#df7a85"/>
<circle cx="679.61" cy="248.04" r="1.70" fill="#df7a85"/>
<circle cx="684.75" cy="250.76" r="1.70" fill="#df7a85"/>
<circle cx="689.34" cy="254.34" r="1.70" fill="#df7a85"/>
<circle cx="693.25" cy="258.66" r="1.70" fill="#df7a85"/>
<circle cx="696.34" cy="263.59" r="1.70" fill="#df7a85"/>
<circle cx="698.53" cy="268.99" r="1.70" fill="#df7a85"/>
<circle cx="699.75" cy="274.68" r="1.70" fill="#df7a85"/>
<circle cx="699.96" cy="280.50" r="1.70" fill="#df7a85"/>
<circle cx="699.15" cy="286.27" r="1.70" fill="#df7a85"/>
<circle cx="666.6" cy="278.8" r="30.00" fill="#fbe4e6"/>
<circle cx="653.8" cy="257.0" r="5.65" fill="#f06650"/>
<circle cx="654.0" cy="257.2" r="3.11" fill="#e5483a"/>
<circle cx="664.3" cy="254.0" r="5.65" fill="#f06650"/>
<circle cx="664.5" cy="254.2" r="3.11" fill="#e5483a"/>
<circle cx="676.3" cy="255.8" r="5.65" fill="#f06650"/>
<circle cx="676.5" cy="256.0" r="3.11" fill="#e5483a"/>
<circle cx="644.9" cy="263.9" r="5.65" fill="#f06650"/>
<circle cx="645.1" cy="264.1" r="3.11" fill="#e5483a"/>
<circle cx="661.9" cy="265.4" r="5.65" fill="#f06650"/>
<circle cx="662.1" cy="265.6" r="3.11" fill="#e5483a"/>
<circle cx="675.4" cy="266.9" r="5.65" fill="#f06650"/>
<circle cx="675.6" cy="267.1" r="3.11" fill="#e5483a"/>
<circle cx="686.2" cy="263.0" r="5.65" fill="#f06650"/>
<circle cx="686.4" cy="263.2" r="3.11" fill="#e5483a"/>
<circle cx="691.2" cy="272.9" r="5.65" fill="#f06650"/>
<circle cx="691.4" cy="273.1" r="3.11" fill="#e5483a"/>
<circle cx="691.2" cy="283.9" r="5.65" fill="#f06650"/>
<circle cx="691.4" cy="284.1" r="3.11" fill="#e5483a"/>
<circle cx="642.8" cy="289.9" r="5.65" fill="#f06650"/>
<circle cx="643.0" cy="290.1" r="3.11" fill="#e5483a"/>
<circle cx="658.3" cy="292.3" r="5.65" fill="#f06650"/>
<circle cx="658.5" cy="292.5" r="3.11" fill="#e5483a"/>
<circle cx="649.4" cy="298.9" r="5.65" fill="#f06650"/>
<circle cx="649.6" cy="299.1" r="3.11" fill="#e5483a"/>
<circle cx="659.8" cy="304.3" r="5.65" fill="#f06650"/>
<circle cx="660.0" cy="304.5" r="3.11" fill="#e5483a"/>
<circle cx="680.2" cy="300.4" r="5.65" fill="#f06650"/>
<circle cx="680.4" cy="300.6" r="3.11" fill="#e5483a"/>
<path d="M668.5,326.6 V336.3" stroke="#1a1a1a" stroke-width="1.7" fill="none"/>
<path d="M665.5,333.7 L668.5,340.7 L671.5,333.7 L668.5,335.7 Z" fill="#1a1a1a"/>
<text x="550.6" y="381.6" font-size="10.0" font-weight="normal" stroke="#2c2a2b" stroke-width="0.4" stroke-linejoin="round" letter-spacing="0.9" fill="#2c2a2b" textLength="45.1" lengthAdjust="spacingAndGlyphs">Invasive</text>
<text x="544.6" y="393.8" font-size="10.0" font-weight="normal" stroke="#2c2a2b" stroke-width="0.4" stroke-linejoin="round" letter-spacing="0.9" fill="#2c2a2b" textLength="56.9" lengthAdjust="spacingAndGlyphs">carcinoma</text>
<circle cx="666.6" cy="385.0" r="41.35" fill="none" stroke="#a6cdea" stroke-width="1.70"/>
<circle cx="666.6" cy="385.0" r="40.80" fill="#9c84bc"/>
<circle cx="666.6" cy="385.0" r="36.90" fill="#f6c9cd"/>
<ellipse cx="700.65" cy="403.60" rx="2.48" ry="1.32" transform="rotate(118.6 700.65 403.60)" fill="#5e3c8c"/>
<ellipse cx="683.21" cy="420.06" rx="2.48" ry="1.32" transform="rotate(154.6 683.21 420.06)" fill="#5e3c8c"/>
<ellipse cx="659.43" cy="423.13" rx="2.48" ry="1.32" transform="rotate(190.6 659.43 423.13)" fill="#5e3c8c"/>
<ellipse cx="638.39" cy="411.64" rx="2.48" ry="1.32" transform="rotate(226.6 638.39 411.64)" fill="#5e3c8c"/>
<ellipse cx="628.12" cy="389.97" rx="2.48" ry="1.32" transform="rotate(262.6 628.12 389.97)" fill="#5e3c8c"/>
<ellipse cx="632.55" cy="366.40" rx="2.48" ry="1.32" transform="rotate(298.6 632.55 366.40)" fill="#5e3c8c"/>
<ellipse cx="649.99" cy="349.94" rx="2.48" ry="1.32" transform="rotate(334.6 649.99 349.94)" fill="#5e3c8c"/>
<ellipse cx="673.77" cy="346.87" rx="2.48" ry="1.32" transform="rotate(370.6 673.77 346.87)" fill="#5e3c8c"/>
<ellipse cx="694.81" cy="358.36" rx="2.48" ry="1.32" transform="rotate(406.6 694.81 358.36)" fill="#5e3c8c"/>
<ellipse cx="705.08" cy="380.03" rx="2.48" ry="1.32" transform="rotate(442.6 705.08 380.03)" fill="#5e3c8c"/>
<circle cx="699.62" cy="389.99" r="3.65" fill="#f4b4ba" stroke="#fbe3e5" stroke-width="0.35"/>
<circle cx="698.26" cy="395.65" r="3.65" fill="#f4b4ba" stroke="#fbe3e5" stroke-width="0.35"/>
<circle cx="695.93" cy="400.99" r="3.65" fill="#f4b4ba" stroke="#fbe3e5" stroke-width="0.35"/>
<circle cx="692.70" cy="405.84" r="3.65" fill="#f4b4ba" stroke="#fbe3e5" stroke-width="0.35"/>
<circle cx="688.69" cy="410.05" r="3.65" fill="#f4b4ba" stroke="#fbe3e5" stroke-width="0.35"/>
<circle cx="684.00" cy="413.51" r="3.65" fill="#f4b4ba" stroke="#fbe3e5" stroke-width="0.35"/>
<circle cx="678.79" cy="416.10" r="3.65" fill="#f4b4ba" stroke="#fbe3e5" stroke-width="0.35"/>
<circle cx="673.20" cy="417.74" r="3.65" fill="#f4b4ba" stroke="#fbe3e5" stroke-width="0.35"/>
<circle cx="667.42" cy="418.39" r="3.65" fill="#f4b4ba" stroke="#fbe3e5" stroke-width="0.35"/>
<circle cx="661.61" cy="418.02" r="3.65" fill="#f4b4ba" stroke="#fbe3e5" stroke-width="0.35"/>
<circle cx="655.95" cy="416.66" r="3.65" fill="#f4b4ba" stroke="#fbe3e5" stroke-width="0.35"/>
<circle cx="650.61" cy="414.33" r="3.65" fill="#f4b4ba" stroke="#fbe3e5" stroke-width="0.35"/>
<circle cx="645.76" cy="411.10" r="3.65" fill="#f4b4ba" stroke="#fbe3e5" stroke-width="0.35"/>
<circle cx="641.55" cy="407.09" r="3.65" fill="#f4b4ba" stroke="#fbe3e5" stroke-width="0.35"/>
<circle cx="638.09" cy="402.40" r="3.65" fill="#f4b4ba" stroke="#fbe3e5" stroke-width="0.35"/>
<circle cx="635.50" cy="397.19" r="3.65" fill="#f4b4ba" stroke="#fbe3e5" stroke-width="0.35"/>
<circle cx="633.86" cy="391.60" r="3.65" fill="#f4b4ba" stroke="#fbe3e5" stroke-width="0.35"/>
<circle cx="633.21" cy="385.82" r="3.65" fill="#f4b4ba" stroke="#fbe3e5" stroke-width="0.35"/>
<circle cx="633.58" cy="380.01" r="3.65" fill="#f4b4ba" stroke="#fbe3e5" stroke-width="0.35"/>
<circle cx="634.94" cy="374.35" r="3.65" fill="#f4b4ba" stroke="#fbe3e5" stroke-width="0.35"/>
<circle cx="637.27" cy="369.01" r="3.65" fill="#f4b4ba" stroke="#fbe3e5" stroke-width="0.35"/>
<circle cx="640.50" cy="364.16" r="3.65" fill="#f4b4ba" stroke="#fbe3e5" stroke-width="0.35"/>
<circle cx="644.51" cy="359.95" r="3.65" fill="#f4b4ba" stroke="#fbe3e5" stroke-width="0.35"/>
<circle cx="649.20" cy="356.49" r="3.65" fill="#f4b4ba" stroke="#fbe3e5" stroke-width="0.35"/>
<circle cx="654.41" cy="353.90" r="3.65" fill="#f4b4ba" stroke="#fbe3e5" stroke-width="0.35"/>
<circle cx="660.00" cy="352.26" r="3.65" fill="#f4b4ba" stroke="#fbe3e5" stroke-width="0.35"/>
<circle cx="665.78" cy="351.61" r="3.65" fill="#f4b4ba" stroke="#fbe3e5" stroke-width="0.35"/>
<circle cx="671.59" cy="351.98" r="3.65" fill="#f4b4ba" stroke="#fbe3e5" stroke-width="0.35"/>
<circle cx="677.25" cy="353.34" r="3.65" fill="#f4b4ba" stroke="#fbe3e5" stroke-width="0.35"/>
<circle cx="682.59" cy="355.67" r="3.65" fill="#f4b4ba" stroke="#fbe3e5" stroke-width="0.35"/>
<circle cx="687.44" cy="358.90" r="3.65" fill="#f4b4ba" stroke="#fbe3e5" stroke-width="0.35"/>
<circle cx="691.65" cy="362.91" r="3.65" fill="#f4b4ba" stroke="#fbe3e5" stroke-width="0.35"/>
<circle cx="695.11" cy="367.60" r="3.65" fill="#f4b4ba" stroke="#fbe3e5" stroke-width="0.35"/>
<circle cx="697.70" cy="372.81" r="3.65" fill="#f4b4ba" stroke="#fbe3e5" stroke-width="0.35"/>
<circle cx="699.34" cy="378.40" r="3.65" fill="#f4b4ba" stroke="#fbe3e5" stroke-width="0.35"/>
<circle cx="699.99" cy="384.18" r="3.65" fill="#f4b4ba" stroke="#fbe3e5" stroke-width="0.35"/>
<circle cx="699.62" cy="389.99" r="1.70" fill="#df7a85"/>
<circle cx="698.26" cy="395.65" r="1.70" fill="#df7a85"/>
<circle cx="695.93" cy="400.99" r="1.70" fill="#df7a85"/>
<circle cx="692.70" cy="405.84" r="1.70" fill="#df7a85"/>
<circle cx="688.69" cy="410.05" r="1.70" fill="#df7a85"/>
<circle cx="684.00" cy="413.51" r="1.70" fill="#df7a85"/>
<circle cx="678.79" cy="416.10" r="1.70" fill="#df7a85"/>
<circle cx="673.20" cy="417.74" r="1.70" fill="#df7a85"/>
<circle cx="667.42" cy="418.39" r="1.70" fill="#df7a85"/>
<circle cx="661.61" cy="418.02" r="1.70" fill="#df7a85"/>
<circle cx="655.95" cy="416.66" r="1.70" fill="#df7a85"/>
<circle cx="650.61" cy="414.33" r="1.70" fill="#df7a85"/>
<circle cx="645.76" cy="411.10" r="1.70" fill="#df7a85"/>
<circle cx="641.55" cy="407.09" r="1.70" fill="#df7a85"/>
<circle cx="638.09" cy="402.40" r="1.70" fill="#df7a85"/>
<circle cx="635.50" cy="397.19" r="1.70" fill="#df7a85"/>
<circle cx="633.86" cy="391.60" r="1.70" fill="#df7a85"/>
<circle cx="633.21" cy="385.82" r="1.70" fill="#df7a85"/>
<circle cx="633.58" cy="380.01" r="1.70" fill="#df7a85"/>
<circle cx="634.94" cy="374.35" r="1.70" fill="#df7a85"/>
<circle cx="637.27" cy="369.01" r="1.70" fill="#df7a85"/>
<circle cx="640.50" cy="364.16" r="1.70" fill="#df7a85"/>
<circle cx="644.51" cy="359.95" r="1.70" fill="#df7a85"/>
<circle cx="649.20" cy="356.49" r="1.70" fill="#df7a85"/>
<circle cx="654.41" cy="353.90" r="1.70" fill="#df7a85"/>
<circle cx="660.00" cy="352.26" r="1.70" fill="#df7a85"/>
<circle cx="665.78" cy="351.61" r="1.70" fill="#df7a85"/>
<circle cx="671.59" cy="351.98" r="1.70" fill="#df7a85"/>
<circle cx="677.25" cy="353.34" r="1.70" fill="#df7a85"/>
<circle cx="682.59" cy="355.67" r="1.70" fill="#df7a85"/>
<circle cx="687.44" cy="358.90" r="1.70" fill="#df7a85"/>
<circle cx="691.65" cy="362.91" r="1.70" fill="#df7a85"/>
<circle cx="695.11" cy="367.60" r="1.70" fill="#df7a85"/>
<circle cx="697.70" cy="372.81" r="1.70" fill="#df7a85"/>
<circle cx="699.34" cy="378.40" r="1.70" fill="#df7a85"/>
<circle cx="699.99" cy="384.18" r="1.70" fill="#df7a85"/>
<circle cx="666.6" cy="385.0" r="30.00" fill="#fbe4e6"/>
<path d="M691.2,355.7 L692.7,357.0 L694.2,358.4 L695.5,359.9 L696.8,361.4 L698.0,363.0 L699.1,364.7 L700.1,366.4 L701.0,368.2 L701.9,370.0 L702.6,371.9 L703.2,373.8 L703.8,375.7" fill="none" stroke="#fbe6e6" stroke-width="8.4"/>
<path d="M693.5,352.6 C695.5,351.2 697.5,351.8 698.6,350.0 M707.2,373.8 C709.2,374.2 710.2,372.6 711.8,373.2" fill="none" stroke="#a6cdea" stroke-width="1.1" stroke-linecap="round"/>
<circle cx="686.7" cy="356.6" r="5.65" fill="#f06650"/>
<circle cx="686.9" cy="356.8" r="3.11" fill="#e5483a"/>
<circle cx="697.2" cy="358.1" r="5.65" fill="#f06650"/>
<circle cx="697.4" cy="358.3" r="3.11" fill="#e5483a"/>
<circle cx="664.3" cy="360.2" r="5.65" fill="#f06650"/>
<circle cx="664.5" cy="360.4" r="3.11" fill="#e5483a"/>
<circle cx="675.7" cy="362.0" r="5.65" fill="#f06650"/>
<circle cx="675.9" cy="362.2" r="3.11" fill="#e5483a"/>
<circle cx="653.8" cy="363.2" r="5.65" fill="#f06650"/>
<circle cx="654.0" cy="363.4" r="3.11" fill="#e5483a"/>
<circle cx="645.5" cy="370.7" r="5.65" fill="#f06650"/>
<circle cx="645.7" cy="370.9" r="3.11" fill="#e5483a"/>
<circle cx="661.9" cy="371.6" r="5.65" fill="#f06650"/>
<circle cx="662.1" cy="371.8" r="3.11" fill="#e5483a"/>
<circle cx="673.9" cy="372.5" r="5.65" fill="#f06650"/>
<circle cx="674.1" cy="372.7" r="3.11" fill="#e5483a"/>
<circle cx="686.2" cy="368.6" r="5.65" fill="#f06650"/>
<circle cx="686.4" cy="368.8" r="3.11" fill="#e5483a"/>
<circle cx="697.2" cy="370.1" r="5.65" fill="#f06650"/>
<circle cx="697.4" cy="370.3" r="3.11" fill="#e5483a"/>
<circle cx="640.4" cy="382.0" r="5.65" fill="#f06650"/>
<circle cx="640.6" cy="382.2" r="3.11" fill="#e5483a"/>
<circle cx="653.2" cy="379.6" r="5.65" fill="#f06650"/>
<circle cx="653.4" cy="379.8" r="3.11" fill="#e5483a"/>
<circle cx="680.8" cy="381.1" r="5.65" fill="#f06650"/>
<circle cx="681.0" cy="381.3" r="3.11" fill="#e5483a"/>
<circle cx="691.2" cy="379.6" r="5.65" fill="#f06650"/>
<circle cx="691.4" cy="379.8" r="3.11" fill="#e5483a"/>
<circle cx="651.5" cy="389.5" r="5.65" fill="#f06650"/>
<circle cx="651.7" cy="389.7" r="3.11" fill="#e5483a"/>
<circle cx="679.3" cy="391.6" r="5.65" fill="#f06650"/>
<circle cx="679.5" cy="391.8" r="3.11" fill="#e5483a"/>
<circle cx="690.6" cy="390.1" r="5.65" fill="#f06650"/>
<circle cx="690.8" cy="390.3" r="3.11" fill="#e5483a"/>
<circle cx="642.5" cy="396.4" r="5.65" fill="#f06650"/>
<circle cx="642.7" cy="396.6" r="3.11" fill="#e5483a"/>
<circle cx="658.3" cy="399.1" r="5.65" fill="#f06650"/>
<circle cx="658.5" cy="399.3" r="3.11" fill="#e5483a"/>
<circle cx="670.3" cy="399.1" r="5.65" fill="#f06650"/>
<circle cx="670.5" cy="399.3" r="3.11" fill="#e5483a"/>
<circle cx="686.7" cy="400.6" r="5.65" fill="#f06650"/>
<circle cx="686.9" cy="400.8" r="3.11" fill="#e5483a"/>
<circle cx="649.4" cy="405.4" r="5.65" fill="#f06650"/>
<circle cx="649.6" cy="405.6" r="3.11" fill="#e5483a"/>
<circle cx="679.9" cy="406.6" r="5.65" fill="#f06650"/>
<circle cx="680.1" cy="406.8" r="3.11" fill="#e5483a"/>
<circle cx="659.8" cy="411.4" r="5.65" fill="#f06650"/>
<circle cx="660.0" cy="411.6" r="3.11" fill="#e5483a"/>
<circle cx="670.3" cy="411.4" r="5.65" fill="#f06650"/>
<circle cx="670.5" cy="411.6" r="3.11" fill="#e5483a"/>
<circle cx="710.1" cy="362.0" r="5.65" fill="#f06650"/>
<circle cx="710.3" cy="362.2" r="3.11" fill="#e5483a"/>
<circle cx="722.6" cy="353.6" r="5.65" fill="#f06650"/>
<circle cx="722.8" cy="353.8" r="3.11" fill="#e5483a"/>
<circle cx="739.7" cy="346.7" r="5.65" fill="#f06650"/>
<circle cx="739.9" cy="346.9" r="3.11" fill="#e5483a"/>
<circle cx="737.6" cy="360.5" r="5.65" fill="#f06650"/>
<circle cx="737.8" cy="360.7" r="3.11" fill="#e5483a"/>
<circle cx="724.7" cy="371.6" r="5.65" fill="#f06650"/>
<circle cx="724.9" cy="371.8" r="3.11" fill="#e5483a"/>
<circle cx="740.6" cy="380.6" r="5.65" fill="#f06650"/>
<circle cx="740.8" cy="380.8" r="3.11" fill="#e5483a"/>
<path d="M694.5,365.8 C708,356.8 730,355.8 746,364.0" stroke="#111" stroke-width="1.9" fill="none"/>
<path d="M751.2,367.0 L742.0,368.0 L745.4,364.2 L744.8,359.0 Z" fill="#111"/>
</g>
<g id="panelC">
<text x="9.0" y="457.3" font-size="13" font-weight="bold" fill="#111" textLength="9.1" lengthAdjust="spacingAndGlyphs">C</text>
<text x="128.4" y="456.8" font-size="11.6" font-weight="bold" letter-spacing="0.65" fill="#222" textLength="139.4" lengthAdjust="spacingAndGlyphs">Histological subtypes</text>
<rect x="10.4" y="478.3" width="156.3" height="198.8" rx="5.5" fill="#f3e6e0" stroke="#d8c8c0" stroke-width="0.8"/>
<rect x="175.5" y="478.3" width="192.5" height="198.8" rx="5.5" fill="#f3e6e0" stroke="#d8c8c0" stroke-width="0.8"/>
<text x="54.1" y="493.9" font-size="10.6" font-weight="bold" letter-spacing="0.4" fill="#2a2829" textLength="67.8" lengthAdjust="spacingAndGlyphs">Pre-invasive</text>
<text x="18.3" y="513.7" font-size="9.6" font-weight="normal" letter-spacing="0.25" fill="#252324" textLength="53.2" lengthAdjust="spacingAndGlyphs">DCIS (80%)</text>
<text x="27.6" y="527.8" font-size="9.6" font-weight="normal" letter-spacing="0.25" fill="#252324" textLength="90.8" lengthAdjust="spacingAndGlyphs">Non-invasive ductal</text>
<text x="27.3" y="536.7" font-size="9.6" font-weight="normal" letter-spacing="0.25" fill="#252324" textLength="71.6" lengthAdjust="spacingAndGlyphs">epithelial lesion</text>
<text x="27.6" y="550.7" font-size="9.6" font-weight="normal" letter-spacing="0.25" fill="#252324" textLength="63.8" lengthAdjust="spacingAndGlyphs">IDC precursor</text>
<text x="27.6" y="565.2" font-size="9.6" font-weight="normal" letter-spacing="0.25" fill="#252324" textLength="43.2" lengthAdjust="spacingAndGlyphs">Unilateral</text>
<text x="18.4" y="588.1" font-size="9.6" font-weight="normal" letter-spacing="0.25" fill="#252324" textLength="51.6" lengthAdjust="spacingAndGlyphs">LCIS (20%)</text>
<text x="27.4" y="602.3" font-size="9.6" font-weight="normal" letter-spacing="0.25" fill="#252324" textLength="94.2" lengthAdjust="spacingAndGlyphs">Non-invasive lobular</text>
<text x="27.0" y="611.2" font-size="9.6" font-weight="normal" letter-spacing="0.25" fill="#252324" textLength="72.1" lengthAdjust="spacingAndGlyphs">epithelial lesion</text>
<text x="27.4" y="626.8" font-size="9.6" font-weight="normal" letter-spacing="0.25" fill="#252324" textLength="76.5" lengthAdjust="spacingAndGlyphs">Bilateral ER/PR+</text>
<text x="27.4" y="640.7" font-size="9.6" font-weight="normal" letter-spacing="0.25" fill="#252324" textLength="121.3" lengthAdjust="spacingAndGlyphs">Lobular architecture intact</text>
<text x="27.4" y="654.9" font-size="9.6" font-weight="normal" letter-spacing="0.25" fill="#252324" textLength="116.7" lengthAdjust="spacingAndGlyphs">Risk factor, not precursor</text>
<text x="27.4" y="663.6" font-size="9.6" font-weight="normal" letter-spacing="0.25" fill="#252324" textLength="26.6" lengthAdjust="spacingAndGlyphs">lesion</text>
<text x="248.9" y="493.8" font-size="10.6" font-weight="bold" letter-spacing="0.4" fill="#2a2829" textLength="44.8" lengthAdjust="spacingAndGlyphs">Invasive</text>
<text x="186.6" y="513.7" font-size="9.6" font-weight="normal" letter-spacing="0.25" fill="#252324" textLength="84.7" lengthAdjust="spacingAndGlyphs">IDC NST (60-75%)</text>
<text x="186.6" y="535.0" font-size="9.6" font-weight="normal" letter-spacing="0.25" fill="#252324" textLength="60.7" lengthAdjust="spacingAndGlyphs">ILC (10-15%)</text>
<text x="195.6" y="545.6" font-size="9.6" font-weight="normal" letter-spacing="0.25" fill="#252324" textLength="41.1" lengthAdjust="spacingAndGlyphs">Classical</text>
<text x="195.6" y="556.0" font-size="9.6" font-weight="normal" letter-spacing="0.25" fill="#252324" textLength="57.4" lengthAdjust="spacingAndGlyphs">Pleomorphic</text>
<text x="186.6" y="576.0" font-size="9.6" font-weight="normal" letter-spacing="0.25" fill="#252324" textLength="154.4" lengthAdjust="spacingAndGlyphs">Rare invasive carcinoma (0.1-7%)</text>
<text x="186.6" y="609.6" font-size="9.6" font-weight="normal" letter-spacing="0.25" fill="#252324" textLength="19.2" lengthAdjust="spacingAndGlyphs">ER+</text>
<text x="195.6" y="620.5" font-size="9.6" font-weight="normal" letter-spacing="0.25" fill="#252324" textLength="33.4" lengthAdjust="spacingAndGlyphs">Tubular</text>
<text x="195.6" y="631.2" font-size="9.6" font-weight="normal" letter-spacing="0.25" fill="#252324" textLength="44.3" lengthAdjust="spacingAndGlyphs">Mucinous</text>
<text x="195.6" y="641.8" font-size="9.6" font-weight="normal" letter-spacing="0.25" fill="#252324" textLength="73.0" lengthAdjust="spacingAndGlyphs">Neuroendocrine</text>
<text x="195.6" y="652.7" font-size="9.6" font-weight="normal" letter-spacing="0.25" fill="#252324" textLength="64.8" lengthAdjust="spacingAndGlyphs">Micropapillary</text>
<text x="281.7" y="609.6" font-size="9.6" font-weight="normal" letter-spacing="0.25" fill="#252324" textLength="16.9" lengthAdjust="spacingAndGlyphs">ER-</text>
<text x="290.7" y="620.5" font-size="9.6" font-weight="normal" letter-spacing="0.25" fill="#252324" textLength="67.5" lengthAdjust="spacingAndGlyphs">Adenoid cystic</text>
<text x="290.7" y="631.2" font-size="9.6" font-weight="normal" letter-spacing="0.25" fill="#252324" textLength="53.0" lengthAdjust="spacingAndGlyphs">Metaplastic</text>
<text x="290.7" y="641.8" font-size="9.6" font-weight="normal" letter-spacing="0.25" fill="#252324" textLength="44.8" lengthAdjust="spacingAndGlyphs">Medullary</text>
<text x="290.7" y="652.7" font-size="9.6" font-weight="normal" letter-spacing="0.25" fill="#252324" textLength="40.7" lengthAdjust="spacingAndGlyphs">Apocrine</text>
<text x="290.7" y="663.7" font-size="9.6" font-weight="normal" letter-spacing="0.25" fill="#252324" textLength="44.0" lengthAdjust="spacingAndGlyphs">Secretory</text>
<defs><marker id="ah" viewBox="0 0 10 10" refX="6" refY="5" markerWidth="4.4" markerHeight="4.4" orient="auto-start-reverse"><path d="M0,0.5 L10,5 L0,9.5 L2.5,5 Z" fill="#1a1a1a"/></marker></defs>
<path d="M258.8,580.2 C258.3,586 255,588.4 248,588.5 L220,588.6 C213,588.8 210,592 209.7,598.5" fill="none" stroke="#1a1a1a" stroke-width="1.7" marker-end="url(#ah)"/>
<path d="M270.5,580.2 C271,586 274,588.4 281,588.5 L308,588.6 C315,588.8 318.4,592 318.8,598.5" fill="none" stroke="#1a1a1a" stroke-width="1.7" marker-end="url(#ah)"/>
</g>
<g id="panelD">
<text x="385.0" y="457.3" font-size="13" font-weight="bold" fill="#111" textLength="9.1" lengthAdjust="spacingAndGlyphs">D</text>
<text x="518.4" y="456.4" font-size="11.6" font-weight="bold" letter-spacing="0.65" fill="#222" textLength="111.5" lengthAdjust="spacingAndGlyphs">Clinical subtypes</text>
<path d="M579.0,539.4 L622.78,478.25 A75.2,75.2 0 0 1 645.34,574.82 Z" fill="#74acd6" stroke="#4a4a4a" stroke-width="0.6" stroke-linejoin="round"/>
<path d="M579.0,539.4 L645.34,574.82 A75.2,75.2 0 0 1 588.56,613.99 Z" fill="#d9619d" stroke="#4a4a4a" stroke-width="0.6" stroke-linejoin="round"/>
<path d="M579.0,539.4 L588.56,613.99 A75.2,75.2 0 0 1 543.93,605.92 Z" fill="#fbac1c" stroke="#4a4a4a" stroke-width="0.6" stroke-linejoin="round"/>
<path d="M579.0,539.4 L543.93,605.92 A75.2,75.2 0 0 1 523.56,590.20 Z" fill="#fbd99d" stroke="#4a4a4a" stroke-width="0.6" stroke-linejoin="round"/>
<path d="M579.0,539.4 L523.56,590.20 A75.2,75.2 0 0 1 622.78,478.25 Z" fill="#b2d3ea" stroke="#4a4a4a" stroke-width="0.6" stroke-linejoin="round"/>
<text x="528.2" y="511.5" font-size="10.6" font-weight="bold" letter-spacing="0.4" fill="#151515" textLength="30.4" lengthAdjust="spacingAndGlyphs">~45%</text>
<text x="605.1" y="535.5" font-size="10.6" font-weight="bold" letter-spacing="0.4" fill="#151515" textLength="30.5" lengthAdjust="spacingAndGlyphs">~25%</text>
<text x="590.8" y="584.5" font-size="10.6" font-weight="bold" letter-spacing="0.4" fill="#151515" textLength="41.1" lengthAdjust="spacingAndGlyphs">10-15%</text>
<text x="551.8" y="604.7" font-size="10.6" font-weight="bold" letter-spacing="0.4" fill="#151515" textLength="30.5" lengthAdjust="spacingAndGlyphs">~10%</text>
<text x="526.7" y="592.5" font-size="10.6" font-weight="bold" letter-spacing="0.4" fill="#151515" textLength="24.0" lengthAdjust="spacingAndGlyphs">~5%</text>
<path d="M491.5,502.2 H510.5" stroke="#8a8a86" stroke-width="0.9" stroke-dasharray="3.6 2.6" fill="none"/>
<path d="M646.5,506.2 H666" stroke="#8a8a86" stroke-width="0.9" stroke-dasharray="3.6 2.6" fill="none"/>
<path d="M485.5,598.1 H532" stroke="#8a8a86" stroke-width="0.9" stroke-dasharray="3.6 2.6" fill="none"/>
<path d="M612.5,605.2 H671.5" stroke="#8a8a86" stroke-width="0.9" stroke-dasharray="3.6 2.6" fill="none"/>
<path d="M567.8,614.5 V626.5" stroke="#8a8a86" stroke-width="0.9" stroke-dasharray="3.6 2.6" fill="none"/>
<rect x="404.1" y="467.4" width="86.9" height="88.0" rx="4.2" fill="#b2d3ea" stroke="#5e5e5c" stroke-width="0.6"/>
<text x="436.0" y="481.8" font-size="10.6" font-weight="bold" letter-spacing="0.4" fill="#1c1c1c" textLength="22.4" lengthAdjust="spacingAndGlyphs">ER+</text>
<text x="424.1" y="494.0" font-size="10.6" font-weight="bold" letter-spacing="0.4" fill="#1c1c1c" textLength="46.2" lengthAdjust="spacingAndGlyphs">Low risk</text>
<text x="410.1" y="504.7" font-size="9.6" font-weight="normal" letter-spacing="0.25" fill="#252324" textLength="74.2" lengthAdjust="spacingAndGlyphs">ER+ PR+ HER2-</text>
<text x="422.8" y="515.6" font-size="9.6" font-weight="normal" letter-spacing="0.25" fill="#252324" textLength="48.8" lengthAdjust="spacingAndGlyphs">Low grade</text>
<text x="413.4" y="526.2" font-size="9.6" font-weight="normal" letter-spacing="0.25" fill="#252324" textLength="67.8" lengthAdjust="spacingAndGlyphs">Ki67 index low</text>
<text x="409.6" y="537.1" font-size="9.6" font-weight="normal" letter-spacing="0.25" fill="#252324" textLength="75.4" lengthAdjust="spacingAndGlyphs">Luminal features</text>
<text x="417.7" y="547.8" font-size="9.6" font-weight="normal" letter-spacing="0.25" fill="#252324" textLength="58.9" lengthAdjust="spacingAndGlyphs">GES low risk</text>
<rect x="666" y="458.8" width="89.8" height="91.9" rx="4.2" fill="#74acd6" stroke="#5e5e5c" stroke-width="0.6"/>
<text x="699.4" y="477.2" font-size="10.6" font-weight="bold" letter-spacing="0.4" fill="#1c1c1c" textLength="22.7" lengthAdjust="spacingAndGlyphs">ER+</text>
<text x="686.3" y="488.8" font-size="10.6" font-weight="bold" letter-spacing="0.4" fill="#1c1c1c" textLength="49.0" lengthAdjust="spacingAndGlyphs">High risk</text>
<text x="672.8" y="500.1" font-size="9.6" font-weight="normal" letter-spacing="0.25" fill="#252324" textLength="75.3" lengthAdjust="spacingAndGlyphs">ER+ PR± HER2-</text>
<text x="680.1" y="510.9" font-size="9.6" font-weight="normal" letter-spacing="0.25" fill="#252324" textLength="60.7" lengthAdjust="spacingAndGlyphs">Higher grade</text>
<text x="670.3" y="521.7" font-size="9.6" font-weight="normal" letter-spacing="0.25" fill="#252324" textLength="80.3" lengthAdjust="spacingAndGlyphs">Ki67 index higher</text>
<text x="672.5" y="532.5" font-size="9.6" font-weight="normal" letter-spacing="0.25" fill="#252324" textLength="75.6" lengthAdjust="spacingAndGlyphs">Luminal features</text>
<text x="679.5" y="543.4" font-size="9.6" font-weight="normal" letter-spacing="0.25" fill="#252324" textLength="61.9" lengthAdjust="spacingAndGlyphs">GES high risk</text>
<rect x="671.3" y="562.3" width="84.5" height="79.4" rx="4.2" fill="#d9619d" stroke="#5e5e5c" stroke-width="0.6"/>
<text x="697.3" y="579.2" font-size="10.6" font-weight="bold" letter-spacing="0.4" fill="#1c1c1c" textLength="32.5" lengthAdjust="spacingAndGlyphs">TNBC</text>
<text x="678.0" y="590.2" font-size="9.6" font-weight="normal" letter-spacing="0.25" fill="#252324" textLength="70.1" lengthAdjust="spacingAndGlyphs">ER- PR- HER2-</text>
<text x="687.2" y="600.6" font-size="9.6" font-weight="normal" letter-spacing="0.25" fill="#252324" textLength="51.8" lengthAdjust="spacingAndGlyphs">High grade</text>
<text x="677.1" y="612.0" font-size="9.6" font-weight="normal" letter-spacing="0.25" fill="#252324" textLength="71.4" lengthAdjust="spacingAndGlyphs">Ki67 index high</text>
<text x="684.1" y="622.7" font-size="9.6" font-weight="normal" letter-spacing="0.25" fill="#252324" textLength="58.2" lengthAdjust="spacingAndGlyphs">Basal-like or</text>
<text x="681.1" y="633.4" font-size="9.6" font-weight="normal" letter-spacing="0.25" fill="#252324" textLength="64.3" lengthAdjust="spacingAndGlyphs">other features</text>
<rect x="404" y="567.5" width="81.3" height="61.3" rx="4.2" fill="#fbd99d" stroke="#5e5e5c" stroke-width="0.6"/>
<text x="417.1" y="578.8" font-size="10.6" font-weight="bold" letter-spacing="0.4" fill="#1c1c1c" textLength="55.4" lengthAdjust="spacingAndGlyphs">HER+ ER-</text>
<text x="408.2" y="590.5" font-size="9.6" font-weight="normal" letter-spacing="0.25" fill="#252324" textLength="73.0" lengthAdjust="spacingAndGlyphs">ER- PR- HER2+</text>
<text x="419.2" y="601.3" font-size="9.6" font-weight="normal" letter-spacing="0.25" fill="#252324" textLength="50.9" lengthAdjust="spacingAndGlyphs">High grade</text>
<text x="421.6" y="612.3" font-size="9.6" font-weight="normal" letter-spacing="0.25" fill="#252324" textLength="45.5" lengthAdjust="spacingAndGlyphs">Basal-like</text>
<text x="425.5" y="623.4" font-size="9.6" font-weight="normal" letter-spacing="0.25" fill="#252324" textLength="37.7" lengthAdjust="spacingAndGlyphs">features</text>
<rect x="523.6" y="626.4" width="88.0" height="66.7" rx="4.2" fill="#fbac1c" stroke="#5e5e5c" stroke-width="0.6"/>
<text x="538.9" y="640.8" font-size="10.6" font-weight="bold" letter-spacing="0.4" fill="#1c1c1c" textLength="56.8" lengthAdjust="spacingAndGlyphs">HER+ ER+</text>
<text x="529.3" y="652.1" font-size="9.6" font-weight="normal" letter-spacing="0.25" fill="#252324" textLength="76.3" lengthAdjust="spacingAndGlyphs">ER+ PR± HER2+</text>
<text x="542.2" y="662.6" font-size="9.6" font-weight="normal" letter-spacing="0.25" fill="#252324" textLength="50.5" lengthAdjust="spacingAndGlyphs">High grade</text>
<text x="531.7" y="674.0" font-size="9.6" font-weight="normal" letter-spacing="0.25" fill="#252324" textLength="70.9" lengthAdjust="spacingAndGlyphs">Ki67 index high</text>
<text x="529.3" y="685.0" font-size="9.6" font-weight="normal" letter-spacing="0.25" fill="#252324" textLength="76.3" lengthAdjust="spacingAndGlyphs">Luminal features</text>
</g>
<g id="frame" fill="none" stroke="#161616">
<rect x="2" y="2" width="765" height="697.2" stroke-width="2"/>
<path d="M524.8,2 V440.2" stroke-width="1.6"/>
<path d="M2,440.2 H767" stroke-width="1.6"/>
<path d="M378.2,440.2 V699" stroke-width="1.6"/>
</g>
</svg>
</body>
</html>
